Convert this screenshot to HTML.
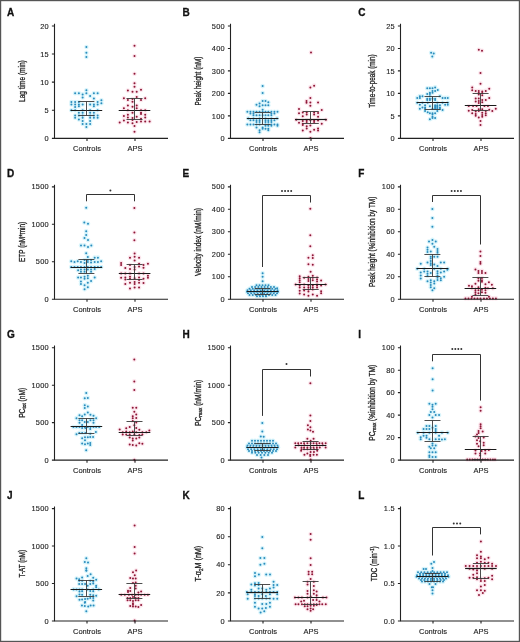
<!DOCTYPE html>
<html><head><meta charset="utf-8"><style>
html,body{margin:0;padding:0;background:#fff;}
body{width:520px;height:642px;overflow:hidden;}
svg{display:block;will-change:transform;}
text{font-family:"Liberation Sans", sans-serif;}
.let{font-size:10px;font-weight:bold;fill:#111;stroke:#111;stroke-width:0.3px;}
.tl{font-size:7.4px;fill:#222;text-anchor:end;letter-spacing:0.25px;stroke:#222;stroke-width:0.12px;}
.xl{font-size:7.5px;fill:#222;text-anchor:middle;stroke:#222;stroke-width:0.12px;}
.yl{font-size:8.4px;fill:#222;text-anchor:middle;stroke:#222;stroke-width:0.3px;}
.ax{stroke:#222;stroke-width:1.1;fill:none;}
.hc{fill:#d8f4fb;}
.ha{fill:#fce6ed;}
.dc{fill:#2a8cbd;}
.da{fill:#8e1636;}
.md{stroke:#1a1a1a;stroke-width:1.2;fill:none;}
.iq{stroke:#3a3a3a;stroke-width:0.9;fill:none;}
.br{stroke:#333;stroke-width:1;fill:none;}
.st{fill:#333;}
</style></head><body>
<svg width="520" height="642" viewBox="0 0 520 642">
<rect x="0.6" y="0.6" width="518.8" height="640.8" fill="#fff" stroke="#555" stroke-width="1.2"/>
<circle cx="86.4" cy="47" r="2.3" class="hc"/>
<circle cx="86.4" cy="52.8" r="2.3" class="hc"/>
<circle cx="86.4" cy="57" r="2.3" class="hc"/>
<circle cx="86.4" cy="90.2" r="2.3" class="hc"/>
<circle cx="75.15" cy="93.2" r="2.3" class="hc"/>
<circle cx="78.9" cy="93.2" r="2.3" class="hc"/>
<circle cx="86.4" cy="93.2" r="2.3" class="hc"/>
<circle cx="93.9" cy="93.2" r="2.3" class="hc"/>
<circle cx="97.65" cy="93.2" r="2.3" class="hc"/>
<circle cx="82.65" cy="94.4" r="2.3" class="hc"/>
<circle cx="90.15" cy="95.9" r="2.3" class="hc"/>
<circle cx="82.65" cy="97.5" r="2.3" class="hc"/>
<circle cx="93.9" cy="98.6" r="2.3" class="hc"/>
<circle cx="101.4" cy="100.2" r="2.3" class="hc"/>
<circle cx="71.4" cy="102.1" r="2.3" class="hc"/>
<circle cx="75.15" cy="102.1" r="2.3" class="hc"/>
<circle cx="78.9" cy="102.1" r="2.3" class="hc"/>
<circle cx="97.65" cy="102.1" r="2.3" class="hc"/>
<circle cx="101.4" cy="103.2" r="2.3" class="hc"/>
<circle cx="71.4" cy="104.4" r="2.3" class="hc"/>
<circle cx="75.15" cy="104.4" r="2.3" class="hc"/>
<circle cx="78.9" cy="104.4" r="2.3" class="hc"/>
<circle cx="82.65" cy="104.4" r="2.3" class="hc"/>
<circle cx="90.15" cy="104.4" r="2.3" class="hc"/>
<circle cx="93.9" cy="104.4" r="2.3" class="hc"/>
<circle cx="97.65" cy="104.4" r="2.3" class="hc"/>
<circle cx="78.9" cy="106.3" r="2.3" class="hc"/>
<circle cx="93.9" cy="106.3" r="2.3" class="hc"/>
<circle cx="75.15" cy="107.1" r="2.3" class="hc"/>
<circle cx="71.4" cy="110.2" r="2.3" class="hc"/>
<circle cx="75.15" cy="110.2" r="2.3" class="hc"/>
<circle cx="82.65" cy="110.2" r="2.3" class="hc"/>
<circle cx="90.15" cy="110.2" r="2.3" class="hc"/>
<circle cx="97.65" cy="110.2" r="2.3" class="hc"/>
<circle cx="78.9" cy="112.8" r="2.3" class="hc"/>
<circle cx="82.65" cy="112.8" r="2.3" class="hc"/>
<circle cx="90.15" cy="112.8" r="2.3" class="hc"/>
<circle cx="93.9" cy="112.8" r="2.3" class="hc"/>
<circle cx="75.15" cy="115.5" r="2.3" class="hc"/>
<circle cx="78.9" cy="115.5" r="2.3" class="hc"/>
<circle cx="82.65" cy="115.5" r="2.3" class="hc"/>
<circle cx="90.15" cy="115.5" r="2.3" class="hc"/>
<circle cx="93.9" cy="115.5" r="2.3" class="hc"/>
<circle cx="97.65" cy="115.5" r="2.3" class="hc"/>
<circle cx="75.15" cy="117.8" r="2.3" class="hc"/>
<circle cx="82.65" cy="117.8" r="2.3" class="hc"/>
<circle cx="90.15" cy="117.8" r="2.3" class="hc"/>
<circle cx="93.9" cy="117.8" r="2.3" class="hc"/>
<circle cx="97.65" cy="117.8" r="2.3" class="hc"/>
<circle cx="78.9" cy="119.4" r="2.3" class="hc"/>
<circle cx="82.65" cy="120.9" r="2.3" class="hc"/>
<circle cx="90.15" cy="120.9" r="2.3" class="hc"/>
<circle cx="82.65" cy="124" r="2.3" class="hc"/>
<circle cx="86.4" cy="124" r="2.3" class="hc"/>
<circle cx="90.15" cy="124" r="2.3" class="hc"/>
<circle cx="86.4" cy="127.1" r="2.3" class="hc"/>
<circle cx="134.5" cy="45.8" r="2.3" class="ha"/>
<circle cx="134.5" cy="56" r="2.3" class="ha"/>
<circle cx="134.5" cy="73.8" r="2.3" class="ha"/>
<circle cx="134.5" cy="83.2" r="2.3" class="ha"/>
<circle cx="134.5" cy="86.8" r="2.3" class="ha"/>
<circle cx="141" cy="89.8" r="2.3" class="ha"/>
<circle cx="127.9" cy="90.6" r="2.3" class="ha"/>
<circle cx="132.5" cy="91.7" r="2.3" class="ha"/>
<circle cx="136.7" cy="91.7" r="2.3" class="ha"/>
<circle cx="136.7" cy="97" r="2.3" class="ha"/>
<circle cx="123.9" cy="98.2" r="2.3" class="ha"/>
<circle cx="145.2" cy="98.2" r="2.3" class="ha"/>
<circle cx="132.5" cy="99" r="2.3" class="ha"/>
<circle cx="127.9" cy="100" r="2.3" class="ha"/>
<circle cx="141" cy="100" r="2.3" class="ha"/>
<circle cx="132.5" cy="101.8" r="2.3" class="ha"/>
<circle cx="127.9" cy="105.5" r="2.3" class="ha"/>
<circle cx="136.7" cy="105.5" r="2.3" class="ha"/>
<circle cx="132.5" cy="106.7" r="2.3" class="ha"/>
<circle cx="123.9" cy="108.3" r="2.3" class="ha"/>
<circle cx="136.7" cy="108.3" r="2.3" class="ha"/>
<circle cx="127.9" cy="110.3" r="2.3" class="ha"/>
<circle cx="141" cy="110.3" r="2.3" class="ha"/>
<circle cx="145.2" cy="110.3" r="2.3" class="ha"/>
<circle cx="132.5" cy="112.7" r="2.3" class="ha"/>
<circle cx="141" cy="112.7" r="2.3" class="ha"/>
<circle cx="141" cy="114.1" r="2.3" class="ha"/>
<circle cx="127.9" cy="114.8" r="2.3" class="ha"/>
<circle cx="145.2" cy="114.8" r="2.3" class="ha"/>
<circle cx="123.9" cy="116" r="2.3" class="ha"/>
<circle cx="136.7" cy="116.8" r="2.3" class="ha"/>
<circle cx="127.9" cy="117.6" r="2.3" class="ha"/>
<circle cx="145.2" cy="117.6" r="2.3" class="ha"/>
<circle cx="132.5" cy="118" r="2.3" class="ha"/>
<circle cx="141" cy="118.8" r="2.3" class="ha"/>
<circle cx="132.5" cy="120" r="2.3" class="ha"/>
<circle cx="123.9" cy="120.4" r="2.3" class="ha"/>
<circle cx="141" cy="121.4" r="2.3" class="ha"/>
<circle cx="145.2" cy="121.4" r="2.3" class="ha"/>
<circle cx="149.6" cy="121.4" r="2.3" class="ha"/>
<circle cx="136.7" cy="122.1" r="2.3" class="ha"/>
<circle cx="119.7" cy="122.5" r="2.3" class="ha"/>
<circle cx="127.9" cy="122.5" r="2.3" class="ha"/>
<circle cx="132.5" cy="123.3" r="2.3" class="ha"/>
<circle cx="134.5" cy="126.1" r="2.3" class="ha"/>
<circle cx="134.5" cy="131.8" r="2.3" class="ha"/>
<circle cx="262.63" cy="86.11" r="2.3" class="hc"/>
<circle cx="262.63" cy="93.09" r="2.3" class="hc"/>
<circle cx="262.63" cy="100.94" r="2.3" class="hc"/>
<circle cx="265.51" cy="100.94" r="2.3" class="hc"/>
<circle cx="268.31" cy="102.25" r="2.3" class="hc"/>
<circle cx="259.58" cy="103.39" r="2.3" class="hc"/>
<circle cx="256.53" cy="104.87" r="2.3" class="hc"/>
<circle cx="262.63" cy="105.31" r="2.3" class="hc"/>
<circle cx="265.51" cy="105.31" r="2.3" class="hc"/>
<circle cx="268.31" cy="105.31" r="2.3" class="hc"/>
<circle cx="259.58" cy="106.18" r="2.3" class="hc"/>
<circle cx="262.63" cy="109.67" r="2.3" class="hc"/>
<circle cx="247.36" cy="111.85" r="2.3" class="hc"/>
<circle cx="250.42" cy="111.85" r="2.3" class="hc"/>
<circle cx="253.47" cy="111.85" r="2.3" class="hc"/>
<circle cx="256.53" cy="111.85" r="2.3" class="hc"/>
<circle cx="259.58" cy="111.85" r="2.3" class="hc"/>
<circle cx="262.63" cy="111.85" r="2.3" class="hc"/>
<circle cx="265.51" cy="111.85" r="2.3" class="hc"/>
<circle cx="268.31" cy="111.85" r="2.3" class="hc"/>
<circle cx="271.36" cy="111.85" r="2.3" class="hc"/>
<circle cx="274.41" cy="111.85" r="2.3" class="hc"/>
<circle cx="277.47" cy="111.85" r="2.3" class="hc"/>
<circle cx="250.42" cy="113.6" r="2.3" class="hc"/>
<circle cx="253.47" cy="113.6" r="2.3" class="hc"/>
<circle cx="271.36" cy="113.6" r="2.3" class="hc"/>
<circle cx="274.41" cy="113.6" r="2.3" class="hc"/>
<circle cx="253.47" cy="115.34" r="2.3" class="hc"/>
<circle cx="256.53" cy="115.34" r="2.3" class="hc"/>
<circle cx="259.58" cy="115.34" r="2.3" class="hc"/>
<circle cx="262.63" cy="115.34" r="2.3" class="hc"/>
<circle cx="265.51" cy="115.34" r="2.3" class="hc"/>
<circle cx="268.31" cy="115.34" r="2.3" class="hc"/>
<circle cx="271.36" cy="115.34" r="2.3" class="hc"/>
<circle cx="248.24" cy="118.39" r="2.3" class="hc"/>
<circle cx="253.47" cy="118.39" r="2.3" class="hc"/>
<circle cx="259.58" cy="118.39" r="2.3" class="hc"/>
<circle cx="265.51" cy="118.39" r="2.3" class="hc"/>
<circle cx="271.36" cy="118.39" r="2.3" class="hc"/>
<circle cx="277.03" cy="118.39" r="2.3" class="hc"/>
<circle cx="250.42" cy="120.14" r="2.3" class="hc"/>
<circle cx="253.47" cy="120.14" r="2.3" class="hc"/>
<circle cx="256.53" cy="120.14" r="2.3" class="hc"/>
<circle cx="259.58" cy="120.14" r="2.3" class="hc"/>
<circle cx="265.51" cy="120.14" r="2.3" class="hc"/>
<circle cx="268.31" cy="120.14" r="2.3" class="hc"/>
<circle cx="271.36" cy="120.14" r="2.3" class="hc"/>
<circle cx="274.41" cy="120.14" r="2.3" class="hc"/>
<circle cx="256.53" cy="121.88" r="2.3" class="hc"/>
<circle cx="259.58" cy="121.88" r="2.3" class="hc"/>
<circle cx="265.51" cy="121.88" r="2.3" class="hc"/>
<circle cx="268.31" cy="121.88" r="2.3" class="hc"/>
<circle cx="271.36" cy="121.88" r="2.3" class="hc"/>
<circle cx="247.36" cy="124.5" r="2.3" class="hc"/>
<circle cx="250.42" cy="124.5" r="2.3" class="hc"/>
<circle cx="253.47" cy="124.5" r="2.3" class="hc"/>
<circle cx="256.53" cy="124.5" r="2.3" class="hc"/>
<circle cx="259.58" cy="124.5" r="2.3" class="hc"/>
<circle cx="265.51" cy="124.5" r="2.3" class="hc"/>
<circle cx="268.31" cy="124.5" r="2.3" class="hc"/>
<circle cx="271.36" cy="124.5" r="2.3" class="hc"/>
<circle cx="274.41" cy="124.5" r="2.3" class="hc"/>
<circle cx="277.47" cy="124.5" r="2.3" class="hc"/>
<circle cx="265.51" cy="125.81" r="2.3" class="hc"/>
<circle cx="268.31" cy="125.81" r="2.3" class="hc"/>
<circle cx="271.36" cy="125.81" r="2.3" class="hc"/>
<circle cx="277.47" cy="125.81" r="2.3" class="hc"/>
<circle cx="256.53" cy="127.56" r="2.3" class="hc"/>
<circle cx="262.63" cy="127.56" r="2.3" class="hc"/>
<circle cx="262.63" cy="128.87" r="2.3" class="hc"/>
<circle cx="265.51" cy="128.87" r="2.3" class="hc"/>
<circle cx="268.31" cy="128.87" r="2.3" class="hc"/>
<circle cx="259.58" cy="130.17" r="2.3" class="hc"/>
<circle cx="268.31" cy="130.17" r="2.3" class="hc"/>
<circle cx="259.58" cy="132.36" r="2.3" class="hc"/>
<circle cx="311" cy="52.5" r="2.3" class="ha"/>
<circle cx="310.5" cy="138" r="2.3" class="ha"/>
<circle cx="314.12" cy="85.67" r="2.3" class="ha"/>
<circle cx="310.37" cy="87.42" r="2.3" class="ha"/>
<circle cx="310.37" cy="97.89" r="2.3" class="ha"/>
<circle cx="306.53" cy="100.94" r="2.3" class="ha"/>
<circle cx="306.53" cy="102.86" r="2.3" class="ha"/>
<circle cx="310.37" cy="102.51" r="2.3" class="ha"/>
<circle cx="318.05" cy="102.51" r="2.3" class="ha"/>
<circle cx="310.37" cy="105.74" r="2.3" class="ha"/>
<circle cx="299.03" cy="108.97" r="2.3" class="ha"/>
<circle cx="321.72" cy="110.1" r="2.3" class="ha"/>
<circle cx="299.03" cy="113.33" r="2.3" class="ha"/>
<circle cx="302.78" cy="112.46" r="2.3" class="ha"/>
<circle cx="306.71" cy="112.46" r="2.3" class="ha"/>
<circle cx="314.12" cy="112.46" r="2.3" class="ha"/>
<circle cx="306.71" cy="114.47" r="2.3" class="ha"/>
<circle cx="314.12" cy="114.47" r="2.3" class="ha"/>
<circle cx="318.05" cy="112.98" r="2.3" class="ha"/>
<circle cx="302.78" cy="116.21" r="2.3" class="ha"/>
<circle cx="318.05" cy="116.65" r="2.3" class="ha"/>
<circle cx="296.24" cy="119.7" r="2.3" class="ha"/>
<circle cx="325.9" cy="119.7" r="2.3" class="ha"/>
<circle cx="302.78" cy="121.01" r="2.3" class="ha"/>
<circle cx="306.71" cy="120.14" r="2.3" class="ha"/>
<circle cx="310.37" cy="120.14" r="2.3" class="ha"/>
<circle cx="314.12" cy="120.58" r="2.3" class="ha"/>
<circle cx="318.05" cy="120.58" r="2.3" class="ha"/>
<circle cx="299.03" cy="122.76" r="2.3" class="ha"/>
<circle cx="302.78" cy="123.63" r="2.3" class="ha"/>
<circle cx="321.72" cy="123.63" r="2.3" class="ha"/>
<circle cx="302.78" cy="124.94" r="2.3" class="ha"/>
<circle cx="306.71" cy="121.88" r="2.3" class="ha"/>
<circle cx="314.12" cy="121.88" r="2.3" class="ha"/>
<circle cx="306.71" cy="126.25" r="2.3" class="ha"/>
<circle cx="306.71" cy="128.43" r="2.3" class="ha"/>
<circle cx="318.05" cy="128.43" r="2.3" class="ha"/>
<circle cx="310.37" cy="125.38" r="2.3" class="ha"/>
<circle cx="318.05" cy="130.61" r="2.3" class="ha"/>
<circle cx="302.78" cy="130.61" r="2.3" class="ha"/>
<circle cx="310.37" cy="131.66" r="2.3" class="ha"/>
<circle cx="314.12" cy="129.74" r="2.3" class="ha"/>
<circle cx="431.1" cy="52.7" r="2.3" class="hc"/>
<circle cx="433.7" cy="53.5" r="2.3" class="hc"/>
<circle cx="432.3" cy="56.6" r="2.3" class="hc"/>
<circle cx="435.12" cy="87.42" r="2.3" class="hc"/>
<circle cx="427.27" cy="88.29" r="2.3" class="hc"/>
<circle cx="429.89" cy="88.29" r="2.3" class="hc"/>
<circle cx="432.51" cy="88.29" r="2.3" class="hc"/>
<circle cx="437.74" cy="90.03" r="2.3" class="hc"/>
<circle cx="432.51" cy="90.91" r="2.3" class="hc"/>
<circle cx="435.12" cy="90.91" r="2.3" class="hc"/>
<circle cx="429.89" cy="92.65" r="2.3" class="hc"/>
<circle cx="432.51" cy="92.65" r="2.3" class="hc"/>
<circle cx="427.27" cy="93.96" r="2.3" class="hc"/>
<circle cx="429.89" cy="93.96" r="2.3" class="hc"/>
<circle cx="419.85" cy="96.14" r="2.3" class="hc"/>
<circle cx="422.47" cy="96.14" r="2.3" class="hc"/>
<circle cx="429.89" cy="96.14" r="2.3" class="hc"/>
<circle cx="439.92" cy="96.14" r="2.3" class="hc"/>
<circle cx="417.24" cy="97.89" r="2.3" class="hc"/>
<circle cx="419.85" cy="97.89" r="2.3" class="hc"/>
<circle cx="442.54" cy="97.89" r="2.3" class="hc"/>
<circle cx="445.16" cy="97.89" r="2.3" class="hc"/>
<circle cx="447.78" cy="97.89" r="2.3" class="hc"/>
<circle cx="427.27" cy="98.76" r="2.3" class="hc"/>
<circle cx="429.89" cy="98.76" r="2.3" class="hc"/>
<circle cx="432.51" cy="98.76" r="2.3" class="hc"/>
<circle cx="435.12" cy="98.76" r="2.3" class="hc"/>
<circle cx="427.27" cy="100.07" r="2.3" class="hc"/>
<circle cx="429.89" cy="100.07" r="2.3" class="hc"/>
<circle cx="435.12" cy="100.07" r="2.3" class="hc"/>
<circle cx="417.24" cy="102.86" r="2.3" class="hc"/>
<circle cx="422.47" cy="102.86" r="2.3" class="hc"/>
<circle cx="427.71" cy="102.86" r="2.3" class="hc"/>
<circle cx="437.31" cy="102.86" r="2.3" class="hc"/>
<circle cx="442.54" cy="102.86" r="2.3" class="hc"/>
<circle cx="447.78" cy="102.86" r="2.3" class="hc"/>
<circle cx="419.85" cy="104.87" r="2.3" class="hc"/>
<circle cx="445.16" cy="104.87" r="2.3" class="hc"/>
<circle cx="447.78" cy="104.87" r="2.3" class="hc"/>
<circle cx="425.09" cy="105.31" r="2.3" class="hc"/>
<circle cx="435.12" cy="105.31" r="2.3" class="hc"/>
<circle cx="437.31" cy="105.31" r="2.3" class="hc"/>
<circle cx="439.92" cy="105.31" r="2.3" class="hc"/>
<circle cx="429.89" cy="106.18" r="2.3" class="hc"/>
<circle cx="435.12" cy="106.18" r="2.3" class="hc"/>
<circle cx="437.31" cy="106.18" r="2.3" class="hc"/>
<circle cx="422.47" cy="107.49" r="2.3" class="hc"/>
<circle cx="425.09" cy="107.49" r="2.3" class="hc"/>
<circle cx="435.12" cy="107.49" r="2.3" class="hc"/>
<circle cx="437.31" cy="107.49" r="2.3" class="hc"/>
<circle cx="439.92" cy="107.49" r="2.3" class="hc"/>
<circle cx="419.85" cy="108.8" r="2.3" class="hc"/>
<circle cx="425.09" cy="108.8" r="2.3" class="hc"/>
<circle cx="432.51" cy="108.8" r="2.3" class="hc"/>
<circle cx="435.12" cy="108.8" r="2.3" class="hc"/>
<circle cx="437.31" cy="108.8" r="2.3" class="hc"/>
<circle cx="439.92" cy="108.8" r="2.3" class="hc"/>
<circle cx="442.54" cy="110.1" r="2.3" class="hc"/>
<circle cx="425.09" cy="110.98" r="2.3" class="hc"/>
<circle cx="437.31" cy="110.98" r="2.3" class="hc"/>
<circle cx="427.71" cy="112.29" r="2.3" class="hc"/>
<circle cx="429.89" cy="113.16" r="2.3" class="hc"/>
<circle cx="432.51" cy="113.16" r="2.3" class="hc"/>
<circle cx="435.12" cy="113.16" r="2.3" class="hc"/>
<circle cx="432.51" cy="114.47" r="2.3" class="hc"/>
<circle cx="432.51" cy="116.65" r="2.3" class="hc"/>
<circle cx="432.51" cy="117.96" r="2.3" class="hc"/>
<circle cx="435.12" cy="117.96" r="2.3" class="hc"/>
<circle cx="429.89" cy="119.27" r="2.3" class="hc"/>
<circle cx="478.8" cy="49.8" r="2.3" class="ha"/>
<circle cx="482" cy="50.7" r="2.3" class="ha"/>
<circle cx="480.5" cy="73" r="2.3" class="ha"/>
<circle cx="480.51" cy="83.66" r="2.3" class="ha"/>
<circle cx="472.22" cy="87.42" r="2.3" class="ha"/>
<circle cx="472.22" cy="90.3" r="2.3" class="ha"/>
<circle cx="475.71" cy="90.91" r="2.3" class="ha"/>
<circle cx="478.76" cy="90.91" r="2.3" class="ha"/>
<circle cx="485.74" cy="90.91" r="2.3" class="ha"/>
<circle cx="482.25" cy="91.52" r="2.3" class="ha"/>
<circle cx="489.23" cy="88.73" r="2.3" class="ha"/>
<circle cx="478.76" cy="92.65" r="2.3" class="ha"/>
<circle cx="478.76" cy="94.4" r="2.3" class="ha"/>
<circle cx="482.25" cy="93.09" r="2.3" class="ha"/>
<circle cx="482.25" cy="95.27" r="2.3" class="ha"/>
<circle cx="475.71" cy="98.5" r="2.3" class="ha"/>
<circle cx="478.76" cy="98.5" r="2.3" class="ha"/>
<circle cx="475.71" cy="101.38" r="2.3" class="ha"/>
<circle cx="478.76" cy="100.94" r="2.3" class="ha"/>
<circle cx="478.76" cy="103.12" r="2.3" class="ha"/>
<circle cx="482.25" cy="100.07" r="2.3" class="ha"/>
<circle cx="485.74" cy="100.07" r="2.3" class="ha"/>
<circle cx="482.25" cy="102.25" r="2.3" class="ha"/>
<circle cx="489.23" cy="97.89" r="2.3" class="ha"/>
<circle cx="468.73" cy="106" r="2.3" class="ha"/>
<circle cx="473.09" cy="106" r="2.3" class="ha"/>
<circle cx="476.58" cy="106" r="2.3" class="ha"/>
<circle cx="484.43" cy="106" r="2.3" class="ha"/>
<circle cx="487.92" cy="106" r="2.3" class="ha"/>
<circle cx="468.73" cy="110.72" r="2.3" class="ha"/>
<circle cx="472.22" cy="110.1" r="2.3" class="ha"/>
<circle cx="472.22" cy="113.16" r="2.3" class="ha"/>
<circle cx="475.71" cy="111.41" r="2.3" class="ha"/>
<circle cx="475.71" cy="114.03" r="2.3" class="ha"/>
<circle cx="475.71" cy="115.78" r="2.3" class="ha"/>
<circle cx="478.76" cy="109.23" r="2.3" class="ha"/>
<circle cx="482.25" cy="109.23" r="2.3" class="ha"/>
<circle cx="478.76" cy="110.98" r="2.3" class="ha"/>
<circle cx="482.25" cy="112.72" r="2.3" class="ha"/>
<circle cx="482.25" cy="114.9" r="2.3" class="ha"/>
<circle cx="482.25" cy="116.65" r="2.3" class="ha"/>
<circle cx="485.74" cy="110.98" r="2.3" class="ha"/>
<circle cx="485.74" cy="113.16" r="2.3" class="ha"/>
<circle cx="485.74" cy="115.34" r="2.3" class="ha"/>
<circle cx="489.23" cy="109.67" r="2.3" class="ha"/>
<circle cx="492.29" cy="110.98" r="2.3" class="ha"/>
<circle cx="495.78" cy="108.8" r="2.3" class="ha"/>
<circle cx="478.76" cy="117.52" r="2.3" class="ha"/>
<circle cx="480.51" cy="121.01" r="2.3" class="ha"/>
<circle cx="480.51" cy="124.94" r="2.3" class="ha"/>
<circle cx="86.2" cy="207.7" r="2.3" class="hc"/>
<circle cx="84.3" cy="222.5" r="2.3" class="hc"/>
<circle cx="88" cy="223.7" r="2.3" class="hc"/>
<circle cx="86.2" cy="231.2" r="2.3" class="hc"/>
<circle cx="86.2" cy="234.9" r="2.3" class="hc"/>
<circle cx="84.5" cy="238" r="2.3" class="hc"/>
<circle cx="88" cy="240.1" r="2.3" class="hc"/>
<circle cx="81" cy="245.4" r="2.3" class="hc"/>
<circle cx="84.5" cy="245.4" r="2.3" class="hc"/>
<circle cx="91.3" cy="245.4" r="2.3" class="hc"/>
<circle cx="88" cy="247" r="2.3" class="hc"/>
<circle cx="86.2" cy="253.2" r="2.3" class="hc"/>
<circle cx="87.81" cy="257.11" r="2.3" class="hc"/>
<circle cx="94.68" cy="257.67" r="2.3" class="hc"/>
<circle cx="97.91" cy="257.67" r="2.3" class="hc"/>
<circle cx="84.58" cy="260.1" r="2.3" class="hc"/>
<circle cx="87.81" cy="260.1" r="2.3" class="hc"/>
<circle cx="91.04" cy="260.1" r="2.3" class="hc"/>
<circle cx="71.25" cy="261.31" r="2.3" class="hc"/>
<circle cx="77.71" cy="261.31" r="2.3" class="hc"/>
<circle cx="101.14" cy="261.31" r="2.3" class="hc"/>
<circle cx="74.48" cy="262.12" r="2.3" class="hc"/>
<circle cx="80.94" cy="262.12" r="2.3" class="hc"/>
<circle cx="87.81" cy="262.12" r="2.3" class="hc"/>
<circle cx="94.68" cy="262.12" r="2.3" class="hc"/>
<circle cx="97.91" cy="262.12" r="2.3" class="hc"/>
<circle cx="84.58" cy="262.92" r="2.3" class="hc"/>
<circle cx="91.04" cy="262.52" r="2.3" class="hc"/>
<circle cx="71.25" cy="267.12" r="2.3" class="hc"/>
<circle cx="74.48" cy="267.12" r="2.3" class="hc"/>
<circle cx="77.71" cy="267.12" r="2.3" class="hc"/>
<circle cx="80.94" cy="267.12" r="2.3" class="hc"/>
<circle cx="84.58" cy="267.12" r="2.3" class="hc"/>
<circle cx="87.81" cy="267.12" r="2.3" class="hc"/>
<circle cx="91.04" cy="267.12" r="2.3" class="hc"/>
<circle cx="94.68" cy="267.12" r="2.3" class="hc"/>
<circle cx="97.91" cy="267.12" r="2.3" class="hc"/>
<circle cx="101.14" cy="267.12" r="2.3" class="hc"/>
<circle cx="80.94" cy="269.39" r="2.3" class="hc"/>
<circle cx="84.58" cy="269.39" r="2.3" class="hc"/>
<circle cx="87.81" cy="269.39" r="2.3" class="hc"/>
<circle cx="91.04" cy="269.39" r="2.3" class="hc"/>
<circle cx="78.12" cy="270.19" r="2.3" class="hc"/>
<circle cx="94.68" cy="268.98" r="2.3" class="hc"/>
<circle cx="80.94" cy="271.65" r="2.3" class="hc"/>
<circle cx="84.58" cy="271.65" r="2.3" class="hc"/>
<circle cx="91.04" cy="271.65" r="2.3" class="hc"/>
<circle cx="87.81" cy="275.85" r="2.3" class="hc"/>
<circle cx="78.12" cy="277.46" r="2.3" class="hc"/>
<circle cx="80.94" cy="277.46" r="2.3" class="hc"/>
<circle cx="94.68" cy="277.46" r="2.3" class="hc"/>
<circle cx="84.58" cy="276.66" r="2.3" class="hc"/>
<circle cx="84.58" cy="278.68" r="2.3" class="hc"/>
<circle cx="87.81" cy="278.27" r="2.3" class="hc"/>
<circle cx="80.94" cy="281.5" r="2.3" class="hc"/>
<circle cx="80.94" cy="283.93" r="2.3" class="hc"/>
<circle cx="87.81" cy="282.71" r="2.3" class="hc"/>
<circle cx="91.04" cy="281.1" r="2.3" class="hc"/>
<circle cx="84.58" cy="285.14" r="2.3" class="hc"/>
<circle cx="87.81" cy="287.16" r="2.3" class="hc"/>
<circle cx="84.58" cy="289.18" r="2.3" class="hc"/>
<circle cx="134.4" cy="208.1" r="2.3" class="ha"/>
<circle cx="134.4" cy="232.5" r="2.3" class="ha"/>
<circle cx="134.4" cy="240.3" r="2.3" class="ha"/>
<circle cx="134.6" cy="253.39" r="2.3" class="ha"/>
<circle cx="129.99" cy="257.67" r="2.3" class="ha"/>
<circle cx="139.04" cy="257.67" r="2.3" class="ha"/>
<circle cx="134.6" cy="256.87" r="2.3" class="ha"/>
<circle cx="134.6" cy="260.5" r="2.3" class="ha"/>
<circle cx="121.11" cy="262.92" r="2.3" class="ha"/>
<circle cx="121.11" cy="264.94" r="2.3" class="ha"/>
<circle cx="129.99" cy="264.94" r="2.3" class="ha"/>
<circle cx="143.48" cy="264.94" r="2.3" class="ha"/>
<circle cx="147.93" cy="263.73" r="2.3" class="ha"/>
<circle cx="139.04" cy="263.73" r="2.3" class="ha"/>
<circle cx="139.04" cy="266.56" r="2.3" class="ha"/>
<circle cx="134.6" cy="266.96" r="2.3" class="ha"/>
<circle cx="134.6" cy="269.39" r="2.3" class="ha"/>
<circle cx="125.31" cy="267.93" r="2.3" class="ha"/>
<circle cx="129.99" cy="268.98" r="2.3" class="ha"/>
<circle cx="143.48" cy="267.77" r="2.3" class="ha"/>
<circle cx="121.11" cy="273.42" r="2.3" class="ha"/>
<circle cx="125.31" cy="273.42" r="2.3" class="ha"/>
<circle cx="129.99" cy="273.42" r="2.3" class="ha"/>
<circle cx="139.04" cy="273.42" r="2.3" class="ha"/>
<circle cx="143.48" cy="273.42" r="2.3" class="ha"/>
<circle cx="121.11" cy="277.87" r="2.3" class="ha"/>
<circle cx="125.31" cy="277.46" r="2.3" class="ha"/>
<circle cx="139.04" cy="277.46" r="2.3" class="ha"/>
<circle cx="125.31" cy="279.48" r="2.3" class="ha"/>
<circle cx="129.99" cy="276.66" r="2.3" class="ha"/>
<circle cx="129.99" cy="278.68" r="2.3" class="ha"/>
<circle cx="134.6" cy="278.27" r="2.3" class="ha"/>
<circle cx="139.04" cy="279.89" r="2.3" class="ha"/>
<circle cx="143.48" cy="278.68" r="2.3" class="ha"/>
<circle cx="147.93" cy="275.85" r="2.3" class="ha"/>
<circle cx="147.93" cy="277.87" r="2.3" class="ha"/>
<circle cx="125.31" cy="283.93" r="2.3" class="ha"/>
<circle cx="129.99" cy="282.71" r="2.3" class="ha"/>
<circle cx="139.04" cy="282.71" r="2.3" class="ha"/>
<circle cx="134.6" cy="281.91" r="2.3" class="ha"/>
<circle cx="134.6" cy="283.93" r="2.3" class="ha"/>
<circle cx="143.48" cy="283.12" r="2.3" class="ha"/>
<circle cx="129.99" cy="288.61" r="2.3" class="ha"/>
<circle cx="134.6" cy="287.56" r="2.3" class="ha"/>
<circle cx="139.04" cy="287.56" r="2.3" class="ha"/>
<circle cx="262.6" cy="273.3" r="2.3" class="hc"/>
<circle cx="262.6" cy="276.8" r="2.3" class="hc"/>
<circle cx="262.6" cy="281.2" r="2.3" class="hc"/>
<circle cx="277.1" cy="288.3" r="2.3" class="hc"/>
<circle cx="256.5" cy="285.3" r="2.3" class="hc"/>
<circle cx="259.5" cy="285.3" r="2.3" class="hc"/>
<circle cx="262.5" cy="285.3" r="2.3" class="hc"/>
<circle cx="265.5" cy="285.3" r="2.3" class="hc"/>
<circle cx="268.5" cy="285.3" r="2.3" class="hc"/>
<circle cx="252" cy="287" r="2.3" class="hc"/>
<circle cx="255.14" cy="287" r="2.3" class="hc"/>
<circle cx="258.29" cy="287" r="2.3" class="hc"/>
<circle cx="261.43" cy="287" r="2.3" class="hc"/>
<circle cx="264.57" cy="287" r="2.3" class="hc"/>
<circle cx="267.71" cy="287" r="2.3" class="hc"/>
<circle cx="270.86" cy="287" r="2.3" class="hc"/>
<circle cx="274" cy="287" r="2.3" class="hc"/>
<circle cx="249.5" cy="288.8" r="2.3" class="hc"/>
<circle cx="252.75" cy="288.8" r="2.3" class="hc"/>
<circle cx="256" cy="288.8" r="2.3" class="hc"/>
<circle cx="259.25" cy="288.8" r="2.3" class="hc"/>
<circle cx="262.5" cy="288.8" r="2.3" class="hc"/>
<circle cx="265.75" cy="288.8" r="2.3" class="hc"/>
<circle cx="269" cy="288.8" r="2.3" class="hc"/>
<circle cx="272.25" cy="288.8" r="2.3" class="hc"/>
<circle cx="275.5" cy="288.8" r="2.3" class="hc"/>
<circle cx="247.5" cy="290.3" r="2.3" class="hc"/>
<circle cx="250.83" cy="290.3" r="2.3" class="hc"/>
<circle cx="254.17" cy="290.3" r="2.3" class="hc"/>
<circle cx="257.5" cy="290.3" r="2.3" class="hc"/>
<circle cx="260.83" cy="290.3" r="2.3" class="hc"/>
<circle cx="264.17" cy="290.3" r="2.3" class="hc"/>
<circle cx="267.5" cy="290.3" r="2.3" class="hc"/>
<circle cx="270.83" cy="290.3" r="2.3" class="hc"/>
<circle cx="274.17" cy="290.3" r="2.3" class="hc"/>
<circle cx="277.5" cy="290.3" r="2.3" class="hc"/>
<circle cx="247" cy="291.7" r="2.3" class="hc"/>
<circle cx="250.1" cy="291.7" r="2.3" class="hc"/>
<circle cx="253.2" cy="291.7" r="2.3" class="hc"/>
<circle cx="256.3" cy="291.7" r="2.3" class="hc"/>
<circle cx="259.4" cy="291.7" r="2.3" class="hc"/>
<circle cx="262.5" cy="291.7" r="2.3" class="hc"/>
<circle cx="265.6" cy="291.7" r="2.3" class="hc"/>
<circle cx="268.7" cy="291.7" r="2.3" class="hc"/>
<circle cx="271.8" cy="291.7" r="2.3" class="hc"/>
<circle cx="274.9" cy="291.7" r="2.3" class="hc"/>
<circle cx="278" cy="291.7" r="2.3" class="hc"/>
<circle cx="248" cy="293.3" r="2.3" class="hc"/>
<circle cx="251.22" cy="293.3" r="2.3" class="hc"/>
<circle cx="254.44" cy="293.3" r="2.3" class="hc"/>
<circle cx="257.67" cy="293.3" r="2.3" class="hc"/>
<circle cx="260.89" cy="293.3" r="2.3" class="hc"/>
<circle cx="264.11" cy="293.3" r="2.3" class="hc"/>
<circle cx="267.33" cy="293.3" r="2.3" class="hc"/>
<circle cx="270.56" cy="293.3" r="2.3" class="hc"/>
<circle cx="273.78" cy="293.3" r="2.3" class="hc"/>
<circle cx="277" cy="293.3" r="2.3" class="hc"/>
<circle cx="249.5" cy="295" r="2.3" class="hc"/>
<circle cx="252.75" cy="295" r="2.3" class="hc"/>
<circle cx="256" cy="295" r="2.3" class="hc"/>
<circle cx="259.25" cy="295" r="2.3" class="hc"/>
<circle cx="262.5" cy="295" r="2.3" class="hc"/>
<circle cx="265.75" cy="295" r="2.3" class="hc"/>
<circle cx="269" cy="295" r="2.3" class="hc"/>
<circle cx="272.25" cy="295" r="2.3" class="hc"/>
<circle cx="275.5" cy="295" r="2.3" class="hc"/>
<circle cx="257" cy="296.2" r="2.3" class="hc"/>
<circle cx="260" cy="296.2" r="2.3" class="hc"/>
<circle cx="263" cy="296.2" r="2.3" class="hc"/>
<circle cx="266" cy="296.2" r="2.3" class="hc"/>
<circle cx="310.3" cy="208.7" r="2.3" class="ha"/>
<circle cx="310.3" cy="235.3" r="2.3" class="ha"/>
<circle cx="310.3" cy="246.2" r="2.3" class="ha"/>
<circle cx="312.78" cy="255.25" r="2.3" class="ha"/>
<circle cx="312.78" cy="258.08" r="2.3" class="ha"/>
<circle cx="308.42" cy="257.67" r="2.3" class="ha"/>
<circle cx="308.42" cy="264.14" r="2.3" class="ha"/>
<circle cx="312.78" cy="264.7" r="2.3" class="ha"/>
<circle cx="310.6" cy="271.81" r="2.3" class="ha"/>
<circle cx="299.69" cy="276.25" r="2.3" class="ha"/>
<circle cx="299.69" cy="278.27" r="2.3" class="ha"/>
<circle cx="299.69" cy="280.29" r="2.3" class="ha"/>
<circle cx="299.69" cy="282.31" r="2.3" class="ha"/>
<circle cx="304.14" cy="277.87" r="2.3" class="ha"/>
<circle cx="308.42" cy="276.66" r="2.3" class="ha"/>
<circle cx="308.42" cy="279.08" r="2.3" class="ha"/>
<circle cx="308.42" cy="281.1" r="2.3" class="ha"/>
<circle cx="312.78" cy="275.85" r="2.3" class="ha"/>
<circle cx="312.78" cy="277.87" r="2.3" class="ha"/>
<circle cx="312.78" cy="280.29" r="2.3" class="ha"/>
<circle cx="317.06" cy="277.46" r="2.3" class="ha"/>
<circle cx="317.06" cy="279.48" r="2.3" class="ha"/>
<circle cx="317.06" cy="281.5" r="2.3" class="ha"/>
<circle cx="321.1" cy="280.53" r="2.3" class="ha"/>
<circle cx="295.65" cy="284.57" r="2.3" class="ha"/>
<circle cx="304.14" cy="284.57" r="2.3" class="ha"/>
<circle cx="317.06" cy="284.57" r="2.3" class="ha"/>
<circle cx="325.54" cy="284.57" r="2.3" class="ha"/>
<circle cx="299.69" cy="285.54" r="2.3" class="ha"/>
<circle cx="308.42" cy="285.54" r="2.3" class="ha"/>
<circle cx="312.78" cy="285.54" r="2.3" class="ha"/>
<circle cx="317.06" cy="285.54" r="2.3" class="ha"/>
<circle cx="321.1" cy="285.54" r="2.3" class="ha"/>
<circle cx="299.69" cy="287.56" r="2.3" class="ha"/>
<circle cx="304.14" cy="287.56" r="2.3" class="ha"/>
<circle cx="308.42" cy="287.56" r="2.3" class="ha"/>
<circle cx="312.78" cy="287.56" r="2.3" class="ha"/>
<circle cx="317.06" cy="287.56" r="2.3" class="ha"/>
<circle cx="299.69" cy="290.79" r="2.3" class="ha"/>
<circle cx="299.69" cy="293.62" r="2.3" class="ha"/>
<circle cx="304.14" cy="290.39" r="2.3" class="ha"/>
<circle cx="304.14" cy="294.43" r="2.3" class="ha"/>
<circle cx="308.42" cy="289.58" r="2.3" class="ha"/>
<circle cx="312.78" cy="289.58" r="2.3" class="ha"/>
<circle cx="308.42" cy="291.6" r="2.3" class="ha"/>
<circle cx="308.42" cy="295.64" r="2.3" class="ha"/>
<circle cx="317.06" cy="295.64" r="2.3" class="ha"/>
<circle cx="312.78" cy="294.43" r="2.3" class="ha"/>
<circle cx="321.1" cy="291.2" r="2.3" class="ha"/>
<circle cx="321.1" cy="293.21" r="2.3" class="ha"/>
<circle cx="432.4" cy="208.9" r="2.3" class="hc"/>
<circle cx="432.4" cy="218.1" r="2.3" class="hc"/>
<circle cx="432.4" cy="226.8" r="2.3" class="hc"/>
<circle cx="429.02" cy="241.49" r="2.3" class="hc"/>
<circle cx="435.73" cy="241.49" r="2.3" class="hc"/>
<circle cx="432.42" cy="239.92" r="2.3" class="hc"/>
<circle cx="432.42" cy="243.67" r="2.3" class="hc"/>
<circle cx="434.25" cy="246.73" r="2.3" class="hc"/>
<circle cx="427.53" cy="247.6" r="2.3" class="hc"/>
<circle cx="427.53" cy="249.78" r="2.3" class="hc"/>
<circle cx="427.53" cy="251.96" r="2.3" class="hc"/>
<circle cx="430.76" cy="251.53" r="2.3" class="hc"/>
<circle cx="437.48" cy="248.91" r="2.3" class="hc"/>
<circle cx="437.48" cy="251.09" r="2.3" class="hc"/>
<circle cx="437.48" cy="252.83" r="2.3" class="hc"/>
<circle cx="430.76" cy="256.76" r="2.3" class="hc"/>
<circle cx="434.25" cy="256.76" r="2.3" class="hc"/>
<circle cx="437.48" cy="256.76" r="2.3" class="hc"/>
<circle cx="430.76" cy="258.51" r="2.3" class="hc"/>
<circle cx="420.73" cy="263.74" r="2.3" class="hc"/>
<circle cx="427.53" cy="262.43" r="2.3" class="hc"/>
<circle cx="430.76" cy="261.12" r="2.3" class="hc"/>
<circle cx="430.76" cy="263.31" r="2.3" class="hc"/>
<circle cx="430.76" cy="265.05" r="2.3" class="hc"/>
<circle cx="434.25" cy="264.61" r="2.3" class="hc"/>
<circle cx="437.48" cy="265.92" r="2.3" class="hc"/>
<circle cx="440.8" cy="262.43" r="2.3" class="hc"/>
<circle cx="444.11" cy="262.43" r="2.3" class="hc"/>
<circle cx="417.24" cy="268.72" r="2.3" class="hc"/>
<circle cx="424.22" cy="268.72" r="2.3" class="hc"/>
<circle cx="434.25" cy="268.72" r="2.3" class="hc"/>
<circle cx="440.8" cy="268.72" r="2.3" class="hc"/>
<circle cx="447.78" cy="268.72" r="2.3" class="hc"/>
<circle cx="420.73" cy="272.47" r="2.3" class="hc"/>
<circle cx="420.73" cy="275.52" r="2.3" class="hc"/>
<circle cx="420.73" cy="278.58" r="2.3" class="hc"/>
<circle cx="424.22" cy="271.6" r="2.3" class="hc"/>
<circle cx="427.53" cy="271.6" r="2.3" class="hc"/>
<circle cx="430.76" cy="272.9" r="2.3" class="hc"/>
<circle cx="427.53" cy="273.78" r="2.3" class="hc"/>
<circle cx="427.53" cy="275.96" r="2.3" class="hc"/>
<circle cx="437.48" cy="271.16" r="2.3" class="hc"/>
<circle cx="437.48" cy="273.34" r="2.3" class="hc"/>
<circle cx="437.48" cy="275.52" r="2.3" class="hc"/>
<circle cx="437.48" cy="277.7" r="2.3" class="hc"/>
<circle cx="437.48" cy="279.88" r="2.3" class="hc"/>
<circle cx="440.8" cy="272.47" r="2.3" class="hc"/>
<circle cx="444.11" cy="271.6" r="2.3" class="hc"/>
<circle cx="447.34" cy="269.85" r="2.3" class="hc"/>
<circle cx="444.11" cy="276.83" r="2.3" class="hc"/>
<circle cx="440.8" cy="278.14" r="2.3" class="hc"/>
<circle cx="440.8" cy="280.32" r="2.3" class="hc"/>
<circle cx="427.53" cy="281.19" r="2.3" class="hc"/>
<circle cx="430.76" cy="280.32" r="2.3" class="hc"/>
<circle cx="430.76" cy="282.5" r="2.3" class="hc"/>
<circle cx="430.76" cy="285.12" r="2.3" class="hc"/>
<circle cx="434.25" cy="281.19" r="2.3" class="hc"/>
<circle cx="434.25" cy="283.38" r="2.3" class="hc"/>
<circle cx="430.76" cy="287.3" r="2.3" class="hc"/>
<circle cx="434.25" cy="288.17" r="2.3" class="hc"/>
<circle cx="432.42" cy="290.36" r="2.3" class="hc"/>
<circle cx="480.44" cy="251.46" r="2.3" class="ha"/>
<circle cx="480.44" cy="255.95" r="2.3" class="ha"/>
<circle cx="480.44" cy="261.93" r="2.3" class="ha"/>
<circle cx="480.44" cy="263.72" r="2.3" class="ha"/>
<circle cx="475.45" cy="269.41" r="2.3" class="ha"/>
<circle cx="478.44" cy="270.9" r="2.3" class="ha"/>
<circle cx="481.93" cy="270.9" r="2.3" class="ha"/>
<circle cx="478.44" cy="272.9" r="2.3" class="ha"/>
<circle cx="481.93" cy="272.9" r="2.3" class="ha"/>
<circle cx="485.42" cy="272.9" r="2.3" class="ha"/>
<circle cx="478.44" cy="278.38" r="2.3" class="ha"/>
<circle cx="478.44" cy="280.87" r="2.3" class="ha"/>
<circle cx="481.93" cy="277.88" r="2.3" class="ha"/>
<circle cx="481.93" cy="280.37" r="2.3" class="ha"/>
<circle cx="481.93" cy="281.87" r="2.3" class="ha"/>
<circle cx="475.45" cy="283.86" r="2.3" class="ha"/>
<circle cx="485.42" cy="284.36" r="2.3" class="ha"/>
<circle cx="488.91" cy="282.37" r="2.3" class="ha"/>
<circle cx="491.9" cy="284.86" r="2.3" class="ha"/>
<circle cx="468.97" cy="285.86" r="2.3" class="ha"/>
<circle cx="471.96" cy="286.35" r="2.3" class="ha"/>
<circle cx="471.96" cy="288.35" r="2.3" class="ha"/>
<circle cx="487.92" cy="288.35" r="2.3" class="ha"/>
<circle cx="492.9" cy="288.35" r="2.3" class="ha"/>
<circle cx="475.45" cy="288.85" r="2.3" class="ha"/>
<circle cx="475.45" cy="290.84" r="2.3" class="ha"/>
<circle cx="475.45" cy="292.84" r="2.3" class="ha"/>
<circle cx="475.45" cy="294.83" r="2.3" class="ha"/>
<circle cx="478.44" cy="287.35" r="2.3" class="ha"/>
<circle cx="478.44" cy="290.34" r="2.3" class="ha"/>
<circle cx="478.44" cy="293.33" r="2.3" class="ha"/>
<circle cx="481.93" cy="289.84" r="2.3" class="ha"/>
<circle cx="481.93" cy="292.34" r="2.3" class="ha"/>
<circle cx="485.42" cy="287.85" r="2.3" class="ha"/>
<circle cx="485.42" cy="290.34" r="2.3" class="ha"/>
<circle cx="485.42" cy="292.84" r="2.3" class="ha"/>
<circle cx="471.96" cy="296.82" r="2.3" class="ha"/>
<circle cx="488.91" cy="296.82" r="2.3" class="ha"/>
<circle cx="465.48" cy="298.42" r="2.3" class="ha"/>
<circle cx="468.47" cy="298.42" r="2.3" class="ha"/>
<circle cx="471.47" cy="298.42" r="2.3" class="ha"/>
<circle cx="474.46" cy="298.42" r="2.3" class="ha"/>
<circle cx="477.45" cy="298.42" r="2.3" class="ha"/>
<circle cx="480.44" cy="298.42" r="2.3" class="ha"/>
<circle cx="483.93" cy="298.42" r="2.3" class="ha"/>
<circle cx="486.92" cy="298.42" r="2.3" class="ha"/>
<circle cx="489.91" cy="298.42" r="2.3" class="ha"/>
<circle cx="492.9" cy="298.42" r="2.3" class="ha"/>
<circle cx="495.89" cy="298.42" r="2.3" class="ha"/>
<circle cx="86.24" cy="393.09" r="2.3" class="hc"/>
<circle cx="84.76" cy="398.32" r="2.3" class="hc"/>
<circle cx="87.82" cy="397.89" r="2.3" class="hc"/>
<circle cx="84.76" cy="405.13" r="2.3" class="hc"/>
<circle cx="84.76" cy="407.92" r="2.3" class="hc"/>
<circle cx="87.82" cy="406.61" r="2.3" class="hc"/>
<circle cx="87.82" cy="412.46" r="2.3" class="hc"/>
<circle cx="84.76" cy="414.47" r="2.3" class="hc"/>
<circle cx="79.53" cy="415.34" r="2.3" class="hc"/>
<circle cx="82.14" cy="416.21" r="2.3" class="hc"/>
<circle cx="90.43" cy="414.73" r="2.3" class="hc"/>
<circle cx="93.49" cy="415.78" r="2.3" class="hc"/>
<circle cx="76.47" cy="418.13" r="2.3" class="hc"/>
<circle cx="96.1" cy="418.13" r="2.3" class="hc"/>
<circle cx="79.53" cy="420.14" r="2.3" class="hc"/>
<circle cx="82.14" cy="420.14" r="2.3" class="hc"/>
<circle cx="90.43" cy="420.14" r="2.3" class="hc"/>
<circle cx="93.49" cy="420.14" r="2.3" class="hc"/>
<circle cx="84.76" cy="421.88" r="2.3" class="hc"/>
<circle cx="87.82" cy="421.88" r="2.3" class="hc"/>
<circle cx="79.53" cy="422.76" r="2.3" class="hc"/>
<circle cx="93.49" cy="422.76" r="2.3" class="hc"/>
<circle cx="82.14" cy="424.94" r="2.3" class="hc"/>
<circle cx="73.42" cy="427.12" r="2.3" class="hc"/>
<circle cx="76.47" cy="427.12" r="2.3" class="hc"/>
<circle cx="79.53" cy="427.12" r="2.3" class="hc"/>
<circle cx="84.76" cy="427.12" r="2.3" class="hc"/>
<circle cx="87.82" cy="427.12" r="2.3" class="hc"/>
<circle cx="90.43" cy="427.12" r="2.3" class="hc"/>
<circle cx="93.49" cy="427.12" r="2.3" class="hc"/>
<circle cx="96.1" cy="427.12" r="2.3" class="hc"/>
<circle cx="99.16" cy="427.12" r="2.3" class="hc"/>
<circle cx="82.16" cy="428.08" r="2.3" class="hc"/>
<circle cx="85.39" cy="428.08" r="2.3" class="hc"/>
<circle cx="90.23" cy="428.89" r="2.3" class="hc"/>
<circle cx="76.5" cy="434.14" r="2.3" class="hc"/>
<circle cx="79.33" cy="432.92" r="2.3" class="hc"/>
<circle cx="82.16" cy="432.92" r="2.3" class="hc"/>
<circle cx="85.39" cy="432.92" r="2.3" class="hc"/>
<circle cx="95.89" cy="432.12" r="2.3" class="hc"/>
<circle cx="90.23" cy="433.73" r="2.3" class="hc"/>
<circle cx="82.16" cy="438.17" r="2.3" class="hc"/>
<circle cx="84.98" cy="437.37" r="2.3" class="hc"/>
<circle cx="87.81" cy="437.37" r="2.3" class="hc"/>
<circle cx="90.23" cy="436.96" r="2.3" class="hc"/>
<circle cx="93.06" cy="436.96" r="2.3" class="hc"/>
<circle cx="84.98" cy="440.19" r="2.3" class="hc"/>
<circle cx="82.16" cy="443.42" r="2.3" class="hc"/>
<circle cx="87.81" cy="443.42" r="2.3" class="hc"/>
<circle cx="84.98" cy="444.23" r="2.3" class="hc"/>
<circle cx="90.23" cy="443.02" r="2.3" class="hc"/>
<circle cx="90.23" cy="445.04" r="2.3" class="hc"/>
<circle cx="86.19" cy="450.29" r="2.3" class="hc"/>
<circle cx="134.4" cy="459.8" r="2.3" class="ha"/>
<circle cx="134.3" cy="359.6" r="2.3" class="ha"/>
<circle cx="134.3" cy="381.4" r="2.3" class="ha"/>
<circle cx="134.3" cy="390" r="2.3" class="ha"/>
<circle cx="132.76" cy="407.85" r="2.3" class="ha"/>
<circle cx="136.25" cy="407.68" r="2.3" class="ha"/>
<circle cx="134.33" cy="411.78" r="2.3" class="ha"/>
<circle cx="136.25" cy="414.4" r="2.3" class="ha"/>
<circle cx="132.76" cy="416.14" r="2.3" class="ha"/>
<circle cx="132.76" cy="418.32" r="2.3" class="ha"/>
<circle cx="136.25" cy="417.89" r="2.3" class="ha"/>
<circle cx="132.76" cy="420.94" r="2.3" class="ha"/>
<circle cx="136.25" cy="422.51" r="2.3" class="ha"/>
<circle cx="134.33" cy="425.31" r="2.3" class="ha"/>
<circle cx="129.71" cy="427.05" r="2.3" class="ha"/>
<circle cx="126.22" cy="428.36" r="2.3" class="ha"/>
<circle cx="136.25" cy="427.92" r="2.3" class="ha"/>
<circle cx="119.67" cy="429.49" r="2.3" class="ha"/>
<circle cx="139.31" cy="429.84" r="2.3" class="ha"/>
<circle cx="122.73" cy="432.29" r="2.3" class="ha"/>
<circle cx="129.71" cy="432.29" r="2.3" class="ha"/>
<circle cx="136.25" cy="432.29" r="2.3" class="ha"/>
<circle cx="142.36" cy="432.29" r="2.3" class="ha"/>
<circle cx="146.29" cy="432.29" r="2.3" class="ha"/>
<circle cx="126.22" cy="431.41" r="2.3" class="ha"/>
<circle cx="132.76" cy="431.41" r="2.3" class="ha"/>
<circle cx="149.34" cy="430.54" r="2.3" class="ha"/>
<circle cx="122.73" cy="434.47" r="2.3" class="ha"/>
<circle cx="126.22" cy="434.47" r="2.3" class="ha"/>
<circle cx="129.71" cy="434.47" r="2.3" class="ha"/>
<circle cx="134.33" cy="434.47" r="2.3" class="ha"/>
<circle cx="142.36" cy="434.47" r="2.3" class="ha"/>
<circle cx="139.31" cy="434.9" r="2.3" class="ha"/>
<circle cx="129.71" cy="437.52" r="2.3" class="ha"/>
<circle cx="139.31" cy="437.52" r="2.3" class="ha"/>
<circle cx="132.76" cy="438.39" r="2.3" class="ha"/>
<circle cx="136.25" cy="438.39" r="2.3" class="ha"/>
<circle cx="132.76" cy="440.58" r="2.3" class="ha"/>
<circle cx="129.71" cy="444.5" r="2.3" class="ha"/>
<circle cx="132.76" cy="444.94" r="2.3" class="ha"/>
<circle cx="136.25" cy="445.38" r="2.3" class="ha"/>
<circle cx="139.31" cy="443.19" r="2.3" class="ha"/>
<circle cx="142.36" cy="443.63" r="2.3" class="ha"/>
<circle cx="262.3" cy="423" r="2.3" class="hc"/>
<circle cx="262.3" cy="431.4" r="2.3" class="hc"/>
<circle cx="260.8" cy="436.5" r="2.3" class="hc"/>
<circle cx="263.7" cy="436.7" r="2.3" class="hc"/>
<circle cx="252" cy="440.8" r="2.3" class="hc"/>
<circle cx="255" cy="440.8" r="2.3" class="hc"/>
<circle cx="258" cy="440.8" r="2.3" class="hc"/>
<circle cx="261" cy="440.8" r="2.3" class="hc"/>
<circle cx="264" cy="440.8" r="2.3" class="hc"/>
<circle cx="267" cy="440.8" r="2.3" class="hc"/>
<circle cx="270" cy="440.8" r="2.3" class="hc"/>
<circle cx="273" cy="440.8" r="2.3" class="hc"/>
<circle cx="249" cy="443.6" r="2.3" class="hc"/>
<circle cx="252" cy="443.6" r="2.3" class="hc"/>
<circle cx="255" cy="443.6" r="2.3" class="hc"/>
<circle cx="258" cy="443.6" r="2.3" class="hc"/>
<circle cx="261" cy="443.6" r="2.3" class="hc"/>
<circle cx="264" cy="443.6" r="2.3" class="hc"/>
<circle cx="267" cy="443.6" r="2.3" class="hc"/>
<circle cx="270" cy="443.6" r="2.3" class="hc"/>
<circle cx="273" cy="443.6" r="2.3" class="hc"/>
<circle cx="276" cy="443.6" r="2.3" class="hc"/>
<circle cx="247.5" cy="445.5" r="2.3" class="hc"/>
<circle cx="250.5" cy="445.5" r="2.3" class="hc"/>
<circle cx="253.5" cy="445.5" r="2.3" class="hc"/>
<circle cx="256.5" cy="445.5" r="2.3" class="hc"/>
<circle cx="259.5" cy="445.5" r="2.3" class="hc"/>
<circle cx="262.5" cy="445.5" r="2.3" class="hc"/>
<circle cx="265.5" cy="445.5" r="2.3" class="hc"/>
<circle cx="268.5" cy="445.5" r="2.3" class="hc"/>
<circle cx="271.5" cy="445.5" r="2.3" class="hc"/>
<circle cx="274.5" cy="445.5" r="2.3" class="hc"/>
<circle cx="277.5" cy="445.5" r="2.3" class="hc"/>
<circle cx="247" cy="447.3" r="2.3" class="hc"/>
<circle cx="250.1" cy="447.3" r="2.3" class="hc"/>
<circle cx="253.2" cy="447.3" r="2.3" class="hc"/>
<circle cx="256.3" cy="447.3" r="2.3" class="hc"/>
<circle cx="259.4" cy="447.3" r="2.3" class="hc"/>
<circle cx="262.5" cy="447.3" r="2.3" class="hc"/>
<circle cx="265.6" cy="447.3" r="2.3" class="hc"/>
<circle cx="268.7" cy="447.3" r="2.3" class="hc"/>
<circle cx="271.8" cy="447.3" r="2.3" class="hc"/>
<circle cx="274.9" cy="447.3" r="2.3" class="hc"/>
<circle cx="278" cy="447.3" r="2.3" class="hc"/>
<circle cx="248" cy="449.2" r="2.3" class="hc"/>
<circle cx="251.22" cy="449.2" r="2.3" class="hc"/>
<circle cx="254.44" cy="449.2" r="2.3" class="hc"/>
<circle cx="257.67" cy="449.2" r="2.3" class="hc"/>
<circle cx="260.89" cy="449.2" r="2.3" class="hc"/>
<circle cx="264.11" cy="449.2" r="2.3" class="hc"/>
<circle cx="267.33" cy="449.2" r="2.3" class="hc"/>
<circle cx="270.56" cy="449.2" r="2.3" class="hc"/>
<circle cx="273.78" cy="449.2" r="2.3" class="hc"/>
<circle cx="277" cy="449.2" r="2.3" class="hc"/>
<circle cx="249" cy="451" r="2.3" class="hc"/>
<circle cx="252" cy="451" r="2.3" class="hc"/>
<circle cx="255" cy="451" r="2.3" class="hc"/>
<circle cx="258" cy="451" r="2.3" class="hc"/>
<circle cx="261" cy="451" r="2.3" class="hc"/>
<circle cx="264" cy="451" r="2.3" class="hc"/>
<circle cx="267" cy="451" r="2.3" class="hc"/>
<circle cx="270" cy="451" r="2.3" class="hc"/>
<circle cx="273" cy="451" r="2.3" class="hc"/>
<circle cx="276" cy="451" r="2.3" class="hc"/>
<circle cx="252" cy="452.8" r="2.3" class="hc"/>
<circle cx="255.33" cy="452.8" r="2.3" class="hc"/>
<circle cx="258.67" cy="452.8" r="2.3" class="hc"/>
<circle cx="262" cy="452.8" r="2.3" class="hc"/>
<circle cx="265.33" cy="452.8" r="2.3" class="hc"/>
<circle cx="268.67" cy="452.8" r="2.3" class="hc"/>
<circle cx="272" cy="452.8" r="2.3" class="hc"/>
<circle cx="257" cy="455" r="2.3" class="hc"/>
<circle cx="260.67" cy="455" r="2.3" class="hc"/>
<circle cx="264.33" cy="455" r="2.3" class="hc"/>
<circle cx="268" cy="455" r="2.3" class="hc"/>
<circle cx="261.5" cy="457.6" r="2.3" class="hc"/>
<circle cx="310.4" cy="383.2" r="2.3" class="ha"/>
<circle cx="310.4" cy="415.5" r="2.3" class="ha"/>
<circle cx="310.4" cy="421.1" r="2.3" class="ha"/>
<circle cx="307.9" cy="425.3" r="2.3" class="ha"/>
<circle cx="310.4" cy="427.3" r="2.3" class="ha"/>
<circle cx="307.9" cy="429.6" r="2.3" class="ha"/>
<circle cx="310.4" cy="430.4" r="2.3" class="ha"/>
<circle cx="313" cy="431.7" r="2.3" class="ha"/>
<circle cx="307.35" cy="438.77" r="2.3" class="ha"/>
<circle cx="313.56" cy="438.77" r="2.3" class="ha"/>
<circle cx="310.64" cy="440.82" r="2.3" class="ha"/>
<circle cx="295.29" cy="443.16" r="2.3" class="ha"/>
<circle cx="298.21" cy="443.16" r="2.3" class="ha"/>
<circle cx="301.14" cy="443.16" r="2.3" class="ha"/>
<circle cx="304.06" cy="443.16" r="2.3" class="ha"/>
<circle cx="307.35" cy="443.16" r="2.3" class="ha"/>
<circle cx="310.64" cy="443.16" r="2.3" class="ha"/>
<circle cx="313.56" cy="443.16" r="2.3" class="ha"/>
<circle cx="316.49" cy="443.16" r="2.3" class="ha"/>
<circle cx="319.41" cy="443.16" r="2.3" class="ha"/>
<circle cx="322.34" cy="443.16" r="2.3" class="ha"/>
<circle cx="325.63" cy="443.16" r="2.3" class="ha"/>
<circle cx="298.58" cy="445.35" r="2.3" class="ha"/>
<circle cx="304.43" cy="445.35" r="2.3" class="ha"/>
<circle cx="316.85" cy="445.35" r="2.3" class="ha"/>
<circle cx="322.7" cy="445.35" r="2.3" class="ha"/>
<circle cx="295.29" cy="447.54" r="2.3" class="ha"/>
<circle cx="301.5" cy="447.54" r="2.3" class="ha"/>
<circle cx="304.06" cy="447.54" r="2.3" class="ha"/>
<circle cx="307.35" cy="447.54" r="2.3" class="ha"/>
<circle cx="310.64" cy="447.54" r="2.3" class="ha"/>
<circle cx="313.56" cy="447.54" r="2.3" class="ha"/>
<circle cx="316.85" cy="447.54" r="2.3" class="ha"/>
<circle cx="319.78" cy="447.54" r="2.3" class="ha"/>
<circle cx="325.63" cy="447.54" r="2.3" class="ha"/>
<circle cx="301.5" cy="449.37" r="2.3" class="ha"/>
<circle cx="304.06" cy="449.37" r="2.3" class="ha"/>
<circle cx="307.35" cy="449.37" r="2.3" class="ha"/>
<circle cx="310.64" cy="449.37" r="2.3" class="ha"/>
<circle cx="313.93" cy="449.37" r="2.3" class="ha"/>
<circle cx="316.85" cy="449.37" r="2.3" class="ha"/>
<circle cx="301.14" cy="450.83" r="2.3" class="ha"/>
<circle cx="317.22" cy="450.83" r="2.3" class="ha"/>
<circle cx="310.64" cy="451.93" r="2.3" class="ha"/>
<circle cx="313.93" cy="451.93" r="2.3" class="ha"/>
<circle cx="307.35" cy="453.39" r="2.3" class="ha"/>
<circle cx="304.43" cy="454.85" r="2.3" class="ha"/>
<circle cx="310.27" cy="454.85" r="2.3" class="ha"/>
<circle cx="313.56" cy="454.85" r="2.3" class="ha"/>
<circle cx="316.85" cy="454.85" r="2.3" class="ha"/>
<circle cx="310.27" cy="455.95" r="2.3" class="ha"/>
<circle cx="310.64" cy="459.61" r="2.3" class="ha"/>
<circle cx="432.6" cy="368.2" r="2.3" class="hc"/>
<circle cx="432.6" cy="379.3" r="2.3" class="hc"/>
<circle cx="432.6" cy="390.4" r="2.3" class="hc"/>
<circle cx="429.39" cy="403.86" r="2.3" class="hc"/>
<circle cx="435.67" cy="403.86" r="2.3" class="hc"/>
<circle cx="432.48" cy="404.83" r="2.3" class="hc"/>
<circle cx="432.48" cy="406.76" r="2.3" class="hc"/>
<circle cx="432.48" cy="409.18" r="2.3" class="hc"/>
<circle cx="430.84" cy="412.08" r="2.3" class="hc"/>
<circle cx="434.22" cy="412.08" r="2.3" class="hc"/>
<circle cx="429.39" cy="414.98" r="2.3" class="hc"/>
<circle cx="435.67" cy="414.98" r="2.3" class="hc"/>
<circle cx="439.05" cy="414.98" r="2.3" class="hc"/>
<circle cx="432.48" cy="417.39" r="2.3" class="hc"/>
<circle cx="426.49" cy="426.09" r="2.3" class="hc"/>
<circle cx="429.39" cy="426.09" r="2.3" class="hc"/>
<circle cx="435.67" cy="426.09" r="2.3" class="hc"/>
<circle cx="423.59" cy="428.99" r="2.3" class="hc"/>
<circle cx="426.49" cy="428.99" r="2.3" class="hc"/>
<circle cx="429.39" cy="428.99" r="2.3" class="hc"/>
<circle cx="435.67" cy="428.99" r="2.3" class="hc"/>
<circle cx="435.67" cy="430.92" r="2.3" class="hc"/>
<circle cx="432.48" cy="427.83" r="2.3" class="hc"/>
<circle cx="417.8" cy="432.66" r="2.3" class="hc"/>
<circle cx="423.59" cy="432.66" r="2.3" class="hc"/>
<circle cx="429.39" cy="432.66" r="2.3" class="hc"/>
<circle cx="435.67" cy="432.66" r="2.3" class="hc"/>
<circle cx="441.95" cy="432.66" r="2.3" class="hc"/>
<circle cx="447.75" cy="432.66" r="2.3" class="hc"/>
<circle cx="423.59" cy="435.75" r="2.3" class="hc"/>
<circle cx="426.49" cy="435.75" r="2.3" class="hc"/>
<circle cx="439.05" cy="435.75" r="2.3" class="hc"/>
<circle cx="420.7" cy="437.2" r="2.3" class="hc"/>
<circle cx="420.7" cy="439.13" r="2.3" class="hc"/>
<circle cx="429.39" cy="439.13" r="2.3" class="hc"/>
<circle cx="435.67" cy="439.13" r="2.3" class="hc"/>
<circle cx="439.05" cy="439.13" r="2.3" class="hc"/>
<circle cx="444.85" cy="439.13" r="2.3" class="hc"/>
<circle cx="426.49" cy="437.68" r="2.3" class="hc"/>
<circle cx="441.95" cy="439.61" r="2.3" class="hc"/>
<circle cx="432.48" cy="443.48" r="2.3" class="hc"/>
<circle cx="432.48" cy="445.41" r="2.3" class="hc"/>
<circle cx="435.67" cy="445.41" r="2.3" class="hc"/>
<circle cx="429.39" cy="446.86" r="2.3" class="hc"/>
<circle cx="430.84" cy="448.31" r="2.3" class="hc"/>
<circle cx="434.22" cy="448.31" r="2.3" class="hc"/>
<circle cx="429.39" cy="452.17" r="2.3" class="hc"/>
<circle cx="432.48" cy="452.17" r="2.3" class="hc"/>
<circle cx="435.67" cy="452.17" r="2.3" class="hc"/>
<circle cx="429.39" cy="455.56" r="2.3" class="hc"/>
<circle cx="429.39" cy="457" r="2.3" class="hc"/>
<circle cx="432.48" cy="457" r="2.3" class="hc"/>
<circle cx="435.67" cy="457" r="2.3" class="hc"/>
<circle cx="480.61" cy="407.25" r="2.3" class="ha"/>
<circle cx="480.61" cy="410.85" r="2.3" class="ha"/>
<circle cx="480.61" cy="424.21" r="2.3" class="ha"/>
<circle cx="480.61" cy="426.26" r="2.3" class="ha"/>
<circle cx="480.61" cy="428.32" r="2.3" class="ha"/>
<circle cx="478.55" cy="430.89" r="2.3" class="ha"/>
<circle cx="482.67" cy="431.4" r="2.3" class="ha"/>
<circle cx="478.55" cy="432.94" r="2.3" class="ha"/>
<circle cx="477.01" cy="434.49" r="2.3" class="ha"/>
<circle cx="475.47" cy="436.54" r="2.3" class="ha"/>
<circle cx="478.55" cy="438.08" r="2.3" class="ha"/>
<circle cx="483.69" cy="437.57" r="2.3" class="ha"/>
<circle cx="477.01" cy="440.14" r="2.3" class="ha"/>
<circle cx="480.1" cy="441.17" r="2.3" class="ha"/>
<circle cx="477.01" cy="443.73" r="2.3" class="ha"/>
<circle cx="483.69" cy="442.71" r="2.3" class="ha"/>
<circle cx="483.69" cy="445.28" r="2.3" class="ha"/>
<circle cx="478.55" cy="446.3" r="2.3" class="ha"/>
<circle cx="488.83" cy="449.9" r="2.3" class="ha"/>
<circle cx="475.47" cy="450.42" r="2.3" class="ha"/>
<circle cx="485.24" cy="450.42" r="2.3" class="ha"/>
<circle cx="481.64" cy="450.93" r="2.3" class="ha"/>
<circle cx="475.47" cy="453.5" r="2.3" class="ha"/>
<circle cx="480.1" cy="453.5" r="2.3" class="ha"/>
<circle cx="485.24" cy="453.5" r="2.3" class="ha"/>
<circle cx="480.1" cy="455.55" r="2.3" class="ha"/>
<circle cx="467.25" cy="459.46" r="2.3" class="ha"/>
<circle cx="469.82" cy="459.46" r="2.3" class="ha"/>
<circle cx="472.39" cy="459.46" r="2.3" class="ha"/>
<circle cx="474.96" cy="459.46" r="2.3" class="ha"/>
<circle cx="477.53" cy="459.46" r="2.3" class="ha"/>
<circle cx="480.1" cy="459.46" r="2.3" class="ha"/>
<circle cx="482.67" cy="459.46" r="2.3" class="ha"/>
<circle cx="485.24" cy="459.46" r="2.3" class="ha"/>
<circle cx="487.8" cy="459.46" r="2.3" class="ha"/>
<circle cx="490.37" cy="459.46" r="2.3" class="ha"/>
<circle cx="492.94" cy="459.46" r="2.3" class="ha"/>
<circle cx="495" cy="459.46" r="2.3" class="ha"/>
<circle cx="86.29" cy="558.21" r="2.3" class="hc"/>
<circle cx="84.84" cy="562.08" r="2.3" class="hc"/>
<circle cx="88.03" cy="562.56" r="2.3" class="hc"/>
<circle cx="86.29" cy="568.36" r="2.3" class="hc"/>
<circle cx="86.29" cy="570.29" r="2.3" class="hc"/>
<circle cx="84.84" cy="602.66" r="2.3" class="hc"/>
<circle cx="81.94" cy="605.56" r="2.3" class="hc"/>
<circle cx="90.64" cy="605.56" r="2.3" class="hc"/>
<circle cx="93.54" cy="605.56" r="2.3" class="hc"/>
<circle cx="84.84" cy="606.04" r="2.3" class="hc"/>
<circle cx="88.22" cy="606.52" r="2.3" class="hc"/>
<circle cx="86.29" cy="611.35" r="2.3" class="hc"/>
<circle cx="86.35" cy="570.65" r="2.3" class="hc"/>
<circle cx="87.66" cy="575.89" r="2.3" class="hc"/>
<circle cx="90.6" cy="574.25" r="2.3" class="hc"/>
<circle cx="76.54" cy="578.5" r="2.3" class="hc"/>
<circle cx="79.16" cy="579.16" r="2.3" class="hc"/>
<circle cx="82.1" cy="577.52" r="2.3" class="hc"/>
<circle cx="93.22" cy="577.85" r="2.3" class="hc"/>
<circle cx="96.16" cy="579.81" r="2.3" class="hc"/>
<circle cx="79.16" cy="580.79" r="2.3" class="hc"/>
<circle cx="82.1" cy="580.79" r="2.3" class="hc"/>
<circle cx="90.27" cy="580.79" r="2.3" class="hc"/>
<circle cx="93.22" cy="581.45" r="2.3" class="hc"/>
<circle cx="79.16" cy="584.06" r="2.3" class="hc"/>
<circle cx="82.1" cy="584.06" r="2.3" class="hc"/>
<circle cx="85.04" cy="584.06" r="2.3" class="hc"/>
<circle cx="90.27" cy="584.06" r="2.3" class="hc"/>
<circle cx="87.66" cy="585.7" r="2.3" class="hc"/>
<circle cx="96.16" cy="585.7" r="2.3" class="hc"/>
<circle cx="93.22" cy="583.41" r="2.3" class="hc"/>
<circle cx="96.16" cy="587.33" r="2.3" class="hc"/>
<circle cx="73.6" cy="589.42" r="2.3" class="hc"/>
<circle cx="76.54" cy="589.42" r="2.3" class="hc"/>
<circle cx="79.48" cy="589.42" r="2.3" class="hc"/>
<circle cx="82.1" cy="589.42" r="2.3" class="hc"/>
<circle cx="87.66" cy="589.42" r="2.3" class="hc"/>
<circle cx="93.22" cy="589.42" r="2.3" class="hc"/>
<circle cx="98.78" cy="589.42" r="2.3" class="hc"/>
<circle cx="79.48" cy="591.58" r="2.3" class="hc"/>
<circle cx="82.1" cy="591.26" r="2.3" class="hc"/>
<circle cx="93.22" cy="591.26" r="2.3" class="hc"/>
<circle cx="90.27" cy="590.93" r="2.3" class="hc"/>
<circle cx="79.48" cy="594.53" r="2.3" class="hc"/>
<circle cx="82.1" cy="594.85" r="2.3" class="hc"/>
<circle cx="90.27" cy="594.85" r="2.3" class="hc"/>
<circle cx="93.22" cy="595.18" r="2.3" class="hc"/>
<circle cx="96.16" cy="595.83" r="2.3" class="hc"/>
<circle cx="76.54" cy="596.16" r="2.3" class="hc"/>
<circle cx="79.48" cy="599.76" r="2.3" class="hc"/>
<circle cx="82.1" cy="599.43" r="2.3" class="hc"/>
<circle cx="85.04" cy="599.1" r="2.3" class="hc"/>
<circle cx="87.66" cy="598.78" r="2.3" class="hc"/>
<circle cx="90.27" cy="598.12" r="2.3" class="hc"/>
<circle cx="93.22" cy="598.12" r="2.3" class="hc"/>
<circle cx="85.04" cy="602.05" r="2.3" class="hc"/>
<circle cx="93.22" cy="600.41" r="2.3" class="hc"/>
<circle cx="134.6" cy="620.6" r="2.3" class="ha"/>
<circle cx="134.6" cy="525.6" r="2.3" class="ha"/>
<circle cx="134.6" cy="547" r="2.3" class="ha"/>
<circle cx="134.6" cy="553.4" r="2.3" class="ha"/>
<circle cx="132.97" cy="572.13" r="2.3" class="ha"/>
<circle cx="136.13" cy="570.5" r="2.3" class="ha"/>
<circle cx="134.78" cy="575.29" r="2.3" class="ha"/>
<circle cx="130.26" cy="578" r="2.3" class="ha"/>
<circle cx="132.97" cy="578.45" r="2.3" class="ha"/>
<circle cx="135.68" cy="578.45" r="2.3" class="ha"/>
<circle cx="132.97" cy="582.97" r="2.3" class="ha"/>
<circle cx="135.68" cy="582.52" r="2.3" class="ha"/>
<circle cx="135.68" cy="585.68" r="2.3" class="ha"/>
<circle cx="130.26" cy="587.94" r="2.3" class="ha"/>
<circle cx="135.68" cy="588.39" r="2.3" class="ha"/>
<circle cx="128" cy="590.65" r="2.3" class="ha"/>
<circle cx="128" cy="592" r="2.3" class="ha"/>
<circle cx="130.26" cy="591.1" r="2.3" class="ha"/>
<circle cx="138.39" cy="592.46" r="2.3" class="ha"/>
<circle cx="141.1" cy="591.55" r="2.3" class="ha"/>
<circle cx="121.23" cy="594.71" r="2.3" class="ha"/>
<circle cx="124.84" cy="594.71" r="2.3" class="ha"/>
<circle cx="128.91" cy="594.71" r="2.3" class="ha"/>
<circle cx="132.07" cy="594.71" r="2.3" class="ha"/>
<circle cx="135.68" cy="594.71" r="2.3" class="ha"/>
<circle cx="138.39" cy="594.71" r="2.3" class="ha"/>
<circle cx="141.1" cy="594.71" r="2.3" class="ha"/>
<circle cx="144.71" cy="594.71" r="2.3" class="ha"/>
<circle cx="147.88" cy="594.71" r="2.3" class="ha"/>
<circle cx="127.55" cy="597.88" r="2.3" class="ha"/>
<circle cx="130.26" cy="597.88" r="2.3" class="ha"/>
<circle cx="135.68" cy="597.88" r="2.3" class="ha"/>
<circle cx="138.39" cy="597.88" r="2.3" class="ha"/>
<circle cx="132.97" cy="596.97" r="2.3" class="ha"/>
<circle cx="127.55" cy="600.13" r="2.3" class="ha"/>
<circle cx="130.26" cy="600.13" r="2.3" class="ha"/>
<circle cx="135.68" cy="600.13" r="2.3" class="ha"/>
<circle cx="138.39" cy="600.13" r="2.3" class="ha"/>
<circle cx="132.97" cy="601.04" r="2.3" class="ha"/>
<circle cx="132.97" cy="603.3" r="2.3" class="ha"/>
<circle cx="132.97" cy="604.65" r="2.3" class="ha"/>
<circle cx="130.26" cy="606.01" r="2.3" class="ha"/>
<circle cx="132.97" cy="606.46" r="2.3" class="ha"/>
<circle cx="135.68" cy="606.46" r="2.3" class="ha"/>
<circle cx="138.39" cy="606.91" r="2.3" class="ha"/>
<circle cx="141.1" cy="605.1" r="2.3" class="ha"/>
<circle cx="262.3" cy="537" r="2.3" class="hc"/>
<circle cx="262.3" cy="548.2" r="2.3" class="hc"/>
<circle cx="260.4" cy="558" r="2.3" class="hc"/>
<circle cx="264.4" cy="558" r="2.3" class="hc"/>
<circle cx="260.4" cy="564.8" r="2.3" class="hc"/>
<circle cx="264.4" cy="563.8" r="2.3" class="hc"/>
<circle cx="255" cy="573" r="2.3" class="hc"/>
<circle cx="255" cy="576.2" r="2.3" class="hc"/>
<circle cx="258.9" cy="574.6" r="2.3" class="hc"/>
<circle cx="266.2" cy="574.6" r="2.3" class="hc"/>
<circle cx="270" cy="574.6" r="2.3" class="hc"/>
<circle cx="273.58" cy="581.74" r="2.3" class="hc"/>
<circle cx="273.58" cy="584.98" r="2.3" class="hc"/>
<circle cx="273.58" cy="587.41" r="2.3" class="hc"/>
<circle cx="251.31" cy="584.57" r="2.3" class="hc"/>
<circle cx="254.96" cy="583.36" r="2.3" class="hc"/>
<circle cx="254.96" cy="585.38" r="2.3" class="hc"/>
<circle cx="258.6" cy="582.96" r="2.3" class="hc"/>
<circle cx="258.6" cy="584.98" r="2.3" class="hc"/>
<circle cx="277.22" cy="584.98" r="2.3" class="hc"/>
<circle cx="258.6" cy="588.62" r="2.3" class="hc"/>
<circle cx="262.24" cy="588.62" r="2.3" class="hc"/>
<circle cx="269.94" cy="588.62" r="2.3" class="hc"/>
<circle cx="251.31" cy="589.84" r="2.3" class="hc"/>
<circle cx="266.29" cy="589.84" r="2.3" class="hc"/>
<circle cx="246.86" cy="592.02" r="2.3" class="hc"/>
<circle cx="251.31" cy="592.02" r="2.3" class="hc"/>
<circle cx="254.96" cy="592.02" r="2.3" class="hc"/>
<circle cx="258.6" cy="592.02" r="2.3" class="hc"/>
<circle cx="262.24" cy="592.02" r="2.3" class="hc"/>
<circle cx="266.29" cy="592.02" r="2.3" class="hc"/>
<circle cx="269.94" cy="592.02" r="2.3" class="hc"/>
<circle cx="273.58" cy="592.02" r="2.3" class="hc"/>
<circle cx="277.22" cy="592.02" r="2.3" class="hc"/>
<circle cx="247.67" cy="594.29" r="2.3" class="hc"/>
<circle cx="254.96" cy="594.29" r="2.3" class="hc"/>
<circle cx="262.24" cy="594.29" r="2.3" class="hc"/>
<circle cx="269.94" cy="594.29" r="2.3" class="hc"/>
<circle cx="277.22" cy="594.29" r="2.3" class="hc"/>
<circle cx="254.96" cy="595.91" r="2.3" class="hc"/>
<circle cx="258.6" cy="595.91" r="2.3" class="hc"/>
<circle cx="265.89" cy="595.91" r="2.3" class="hc"/>
<circle cx="247.67" cy="598.74" r="2.3" class="hc"/>
<circle cx="273.58" cy="598.74" r="2.3" class="hc"/>
<circle cx="277.22" cy="598.74" r="2.3" class="hc"/>
<circle cx="254.96" cy="598.5" r="2.3" class="hc"/>
<circle cx="258.6" cy="598.5" r="2.3" class="hc"/>
<circle cx="262.24" cy="598.5" r="2.3" class="hc"/>
<circle cx="266.29" cy="598.5" r="2.3" class="hc"/>
<circle cx="269.94" cy="598.5" r="2.3" class="hc"/>
<circle cx="254.96" cy="602.79" r="2.3" class="hc"/>
<circle cx="269.94" cy="602.79" r="2.3" class="hc"/>
<circle cx="262.24" cy="604.01" r="2.3" class="hc"/>
<circle cx="266.29" cy="604.01" r="2.3" class="hc"/>
<circle cx="254.96" cy="606.84" r="2.3" class="hc"/>
<circle cx="269.94" cy="606.84" r="2.3" class="hc"/>
<circle cx="258.6" cy="608.46" r="2.3" class="hc"/>
<circle cx="262.24" cy="608.46" r="2.3" class="hc"/>
<circle cx="265.89" cy="608.06" r="2.3" class="hc"/>
<circle cx="260.62" cy="612.51" r="2.3" class="hc"/>
<circle cx="264.27" cy="611.3" r="2.3" class="hc"/>
<circle cx="310.62" cy="534.12" r="2.3" class="ha"/>
<circle cx="310.62" cy="539.73" r="2.3" class="ha"/>
<circle cx="310.62" cy="558.24" r="2.3" class="ha"/>
<circle cx="310.62" cy="564.97" r="2.3" class="ha"/>
<circle cx="308.65" cy="571.7" r="2.3" class="ha"/>
<circle cx="312.16" cy="571.7" r="2.3" class="ha"/>
<circle cx="308.65" cy="574.37" r="2.3" class="ha"/>
<circle cx="312.16" cy="574.37" r="2.3" class="ha"/>
<circle cx="310.62" cy="579" r="2.3" class="ha"/>
<circle cx="307.53" cy="581.8" r="2.3" class="ha"/>
<circle cx="313.84" cy="581.8" r="2.3" class="ha"/>
<circle cx="307.53" cy="584.61" r="2.3" class="ha"/>
<circle cx="313.84" cy="586.01" r="2.3" class="ha"/>
<circle cx="307.53" cy="590.92" r="2.3" class="ha"/>
<circle cx="313.84" cy="590.22" r="2.3" class="ha"/>
<circle cx="316.65" cy="591.62" r="2.3" class="ha"/>
<circle cx="307.53" cy="593.72" r="2.3" class="ha"/>
<circle cx="313.84" cy="593.72" r="2.3" class="ha"/>
<circle cx="316.65" cy="595.13" r="2.3" class="ha"/>
<circle cx="294.91" cy="597.51" r="2.3" class="ha"/>
<circle cx="298.42" cy="597.51" r="2.3" class="ha"/>
<circle cx="301.92" cy="597.51" r="2.3" class="ha"/>
<circle cx="307.53" cy="597.51" r="2.3" class="ha"/>
<circle cx="316.65" cy="597.51" r="2.3" class="ha"/>
<circle cx="322.96" cy="597.51" r="2.3" class="ha"/>
<circle cx="326.47" cy="597.51" r="2.3" class="ha"/>
<circle cx="310.62" cy="596.53" r="2.3" class="ha"/>
<circle cx="304.03" cy="600.74" r="2.3" class="ha"/>
<circle cx="301.22" cy="601.44" r="2.3" class="ha"/>
<circle cx="319.45" cy="601.44" r="2.3" class="ha"/>
<circle cx="313.14" cy="600.04" r="2.3" class="ha"/>
<circle cx="316.65" cy="600.04" r="2.3" class="ha"/>
<circle cx="295.61" cy="604.24" r="2.3" class="ha"/>
<circle cx="298.42" cy="604.24" r="2.3" class="ha"/>
<circle cx="301.92" cy="604.24" r="2.3" class="ha"/>
<circle cx="304.73" cy="604.24" r="2.3" class="ha"/>
<circle cx="307.53" cy="604.24" r="2.3" class="ha"/>
<circle cx="310.62" cy="604.24" r="2.3" class="ha"/>
<circle cx="313.84" cy="604.24" r="2.3" class="ha"/>
<circle cx="316.65" cy="604.24" r="2.3" class="ha"/>
<circle cx="319.45" cy="604.24" r="2.3" class="ha"/>
<circle cx="322.26" cy="604.24" r="2.3" class="ha"/>
<circle cx="325.76" cy="604.24" r="2.3" class="ha"/>
<circle cx="304.73" cy="606.35" r="2.3" class="ha"/>
<circle cx="307.53" cy="606.35" r="2.3" class="ha"/>
<circle cx="310.62" cy="605.65" r="2.3" class="ha"/>
<circle cx="313.84" cy="605.65" r="2.3" class="ha"/>
<circle cx="316.65" cy="604.94" r="2.3" class="ha"/>
<circle cx="307.53" cy="609.15" r="2.3" class="ha"/>
<circle cx="313.14" cy="609.15" r="2.3" class="ha"/>
<circle cx="310.62" cy="608.45" r="2.3" class="ha"/>
<circle cx="310.62" cy="610.83" r="2.3" class="ha"/>
<circle cx="431.3" cy="563.7" r="2.3" class="hc"/>
<circle cx="434" cy="562" r="2.3" class="hc"/>
<circle cx="432.5" cy="568" r="2.3" class="hc"/>
<circle cx="423.6" cy="569" r="2.3" class="hc"/>
<circle cx="426" cy="569" r="2.3" class="hc"/>
<circle cx="432.5" cy="571" r="2.3" class="hc"/>
<circle cx="418" cy="572.2" r="2.3" class="hc"/>
<circle cx="421.22" cy="572.2" r="2.3" class="hc"/>
<circle cx="424.44" cy="572.2" r="2.3" class="hc"/>
<circle cx="427.67" cy="572.2" r="2.3" class="hc"/>
<circle cx="430.89" cy="572.2" r="2.3" class="hc"/>
<circle cx="434.11" cy="572.2" r="2.3" class="hc"/>
<circle cx="437.33" cy="572.2" r="2.3" class="hc"/>
<circle cx="440.56" cy="572.2" r="2.3" class="hc"/>
<circle cx="443.78" cy="572.2" r="2.3" class="hc"/>
<circle cx="447" cy="572.2" r="2.3" class="hc"/>
<circle cx="420" cy="573.8" r="2.3" class="hc"/>
<circle cx="423.12" cy="573.8" r="2.3" class="hc"/>
<circle cx="426.25" cy="573.8" r="2.3" class="hc"/>
<circle cx="429.38" cy="573.8" r="2.3" class="hc"/>
<circle cx="432.5" cy="573.8" r="2.3" class="hc"/>
<circle cx="435.62" cy="573.8" r="2.3" class="hc"/>
<circle cx="438.75" cy="573.8" r="2.3" class="hc"/>
<circle cx="441.88" cy="573.8" r="2.3" class="hc"/>
<circle cx="445" cy="573.8" r="2.3" class="hc"/>
<circle cx="417" cy="575.3" r="2.3" class="hc"/>
<circle cx="420.1" cy="575.3" r="2.3" class="hc"/>
<circle cx="423.2" cy="575.3" r="2.3" class="hc"/>
<circle cx="426.3" cy="575.3" r="2.3" class="hc"/>
<circle cx="429.4" cy="575.3" r="2.3" class="hc"/>
<circle cx="432.5" cy="575.3" r="2.3" class="hc"/>
<circle cx="435.6" cy="575.3" r="2.3" class="hc"/>
<circle cx="438.7" cy="575.3" r="2.3" class="hc"/>
<circle cx="441.8" cy="575.3" r="2.3" class="hc"/>
<circle cx="444.9" cy="575.3" r="2.3" class="hc"/>
<circle cx="448" cy="575.3" r="2.3" class="hc"/>
<circle cx="416.5" cy="576.7" r="2.3" class="hc"/>
<circle cx="419.7" cy="576.7" r="2.3" class="hc"/>
<circle cx="422.9" cy="576.7" r="2.3" class="hc"/>
<circle cx="426.1" cy="576.7" r="2.3" class="hc"/>
<circle cx="429.3" cy="576.7" r="2.3" class="hc"/>
<circle cx="432.5" cy="576.7" r="2.3" class="hc"/>
<circle cx="435.7" cy="576.7" r="2.3" class="hc"/>
<circle cx="438.9" cy="576.7" r="2.3" class="hc"/>
<circle cx="442.1" cy="576.7" r="2.3" class="hc"/>
<circle cx="445.3" cy="576.7" r="2.3" class="hc"/>
<circle cx="448.5" cy="576.7" r="2.3" class="hc"/>
<circle cx="419" cy="578.4" r="2.3" class="hc"/>
<circle cx="422" cy="578.4" r="2.3" class="hc"/>
<circle cx="425" cy="578.4" r="2.3" class="hc"/>
<circle cx="428" cy="578.4" r="2.3" class="hc"/>
<circle cx="431" cy="578.4" r="2.3" class="hc"/>
<circle cx="434" cy="578.4" r="2.3" class="hc"/>
<circle cx="437" cy="578.4" r="2.3" class="hc"/>
<circle cx="440" cy="578.4" r="2.3" class="hc"/>
<circle cx="443" cy="578.4" r="2.3" class="hc"/>
<circle cx="446" cy="578.4" r="2.3" class="hc"/>
<circle cx="421" cy="580" r="2.3" class="hc"/>
<circle cx="424.29" cy="580" r="2.3" class="hc"/>
<circle cx="427.57" cy="580" r="2.3" class="hc"/>
<circle cx="430.86" cy="580" r="2.3" class="hc"/>
<circle cx="434.14" cy="580" r="2.3" class="hc"/>
<circle cx="437.43" cy="580" r="2.3" class="hc"/>
<circle cx="440.71" cy="580" r="2.3" class="hc"/>
<circle cx="444" cy="580" r="2.3" class="hc"/>
<circle cx="422" cy="581.6" r="2.3" class="hc"/>
<circle cx="425" cy="581.6" r="2.3" class="hc"/>
<circle cx="428" cy="581.6" r="2.3" class="hc"/>
<circle cx="431" cy="581.6" r="2.3" class="hc"/>
<circle cx="434" cy="581.6" r="2.3" class="hc"/>
<circle cx="437" cy="581.6" r="2.3" class="hc"/>
<circle cx="440" cy="581.6" r="2.3" class="hc"/>
<circle cx="443" cy="581.6" r="2.3" class="hc"/>
<circle cx="429.5" cy="584" r="2.3" class="hc"/>
<circle cx="435.5" cy="584" r="2.3" class="hc"/>
<circle cx="431.8" cy="587.2" r="2.3" class="hc"/>
<circle cx="433" cy="587.2" r="2.3" class="hc"/>
<circle cx="432.5" cy="590.2" r="2.3" class="hc"/>
<circle cx="432.5" cy="593.6" r="2.3" class="hc"/>
<circle cx="480.9" cy="541.45" r="2.3" class="ha"/>
<circle cx="480.9" cy="551.79" r="2.3" class="ha"/>
<circle cx="477.03" cy="555.27" r="2.3" class="ha"/>
<circle cx="477.03" cy="558.16" r="2.3" class="ha"/>
<circle cx="480.9" cy="556.43" r="2.3" class="ha"/>
<circle cx="480.9" cy="558.36" r="2.3" class="ha"/>
<circle cx="484.76" cy="559.32" r="2.3" class="ha"/>
<circle cx="488.43" cy="557.87" r="2.3" class="ha"/>
<circle cx="477.03" cy="562.71" r="2.3" class="ha"/>
<circle cx="484.76" cy="562.71" r="2.3" class="ha"/>
<circle cx="488.43" cy="562.71" r="2.3" class="ha"/>
<circle cx="480.9" cy="561.74" r="2.3" class="ha"/>
<circle cx="492.11" cy="563.67" r="2.3" class="ha"/>
<circle cx="465.73" cy="565.89" r="2.3" class="ha"/>
<circle cx="469.59" cy="565.89" r="2.3" class="ha"/>
<circle cx="473.27" cy="565.89" r="2.3" class="ha"/>
<circle cx="477.03" cy="565.89" r="2.3" class="ha"/>
<circle cx="480.9" cy="565.89" r="2.3" class="ha"/>
<circle cx="484.76" cy="565.89" r="2.3" class="ha"/>
<circle cx="488.43" cy="565.89" r="2.3" class="ha"/>
<circle cx="492.11" cy="565.89" r="2.3" class="ha"/>
<circle cx="495.97" cy="565.89" r="2.3" class="ha"/>
<circle cx="469.59" cy="568.7" r="2.3" class="ha"/>
<circle cx="484.76" cy="568.7" r="2.3" class="ha"/>
<circle cx="492.11" cy="568.7" r="2.3" class="ha"/>
<circle cx="473.27" cy="569.47" r="2.3" class="ha"/>
<circle cx="477.03" cy="568.5" r="2.3" class="ha"/>
<circle cx="477.03" cy="570.43" r="2.3" class="ha"/>
<circle cx="477.03" cy="573.33" r="2.3" class="ha"/>
<circle cx="473.27" cy="574.78" r="2.3" class="ha"/>
<circle cx="469.59" cy="577.68" r="2.3" class="ha"/>
<circle cx="473.27" cy="577.68" r="2.3" class="ha"/>
<circle cx="488.43" cy="577.68" r="2.3" class="ha"/>
<circle cx="477.03" cy="577.2" r="2.3" class="ha"/>
<circle cx="477.03" cy="579.13" r="2.3" class="ha"/>
<circle cx="492.11" cy="579.13" r="2.3" class="ha"/>
<circle cx="480.9" cy="578.65" r="2.3" class="ha"/>
<circle cx="484.76" cy="578.16" r="2.3" class="ha"/>
<circle cx="492.11" cy="575.75" r="2.3" class="ha"/>
<circle cx="480.9" cy="581.06" r="2.3" class="ha"/>
<circle cx="484.76" cy="581.06" r="2.3" class="ha"/>
<circle cx="484.76" cy="584.93" r="2.3" class="ha"/>
<circle cx="480.9" cy="586.38" r="2.3" class="ha"/>
<circle cx="477.03" cy="590.24" r="2.3" class="ha"/>
<circle cx="480.9" cy="590.24" r="2.3" class="ha"/>
<circle cx="484.76" cy="590.72" r="2.3" class="ha"/>
<circle cx="478.97" cy="594.88" r="2.3" class="ha"/>
<circle cx="482.83" cy="592.95" r="2.3" class="ha"/>
<circle cx="86.4" cy="47" r="1.0" class="dc"/>
<circle cx="86.4" cy="52.8" r="1.0" class="dc"/>
<circle cx="86.4" cy="57" r="1.0" class="dc"/>
<circle cx="86.4" cy="90.2" r="1.0" class="dc"/>
<circle cx="75.15" cy="93.2" r="1.0" class="dc"/>
<circle cx="78.9" cy="93.2" r="1.0" class="dc"/>
<circle cx="86.4" cy="93.2" r="1.0" class="dc"/>
<circle cx="93.9" cy="93.2" r="1.0" class="dc"/>
<circle cx="97.65" cy="93.2" r="1.0" class="dc"/>
<circle cx="82.65" cy="94.4" r="1.0" class="dc"/>
<circle cx="90.15" cy="95.9" r="1.0" class="dc"/>
<circle cx="82.65" cy="97.5" r="1.0" class="dc"/>
<circle cx="93.9" cy="98.6" r="1.0" class="dc"/>
<circle cx="101.4" cy="100.2" r="1.0" class="dc"/>
<circle cx="71.4" cy="102.1" r="1.0" class="dc"/>
<circle cx="75.15" cy="102.1" r="1.0" class="dc"/>
<circle cx="78.9" cy="102.1" r="1.0" class="dc"/>
<circle cx="97.65" cy="102.1" r="1.0" class="dc"/>
<circle cx="101.4" cy="103.2" r="1.0" class="dc"/>
<circle cx="71.4" cy="104.4" r="1.0" class="dc"/>
<circle cx="75.15" cy="104.4" r="1.0" class="dc"/>
<circle cx="78.9" cy="104.4" r="1.0" class="dc"/>
<circle cx="82.65" cy="104.4" r="1.0" class="dc"/>
<circle cx="90.15" cy="104.4" r="1.0" class="dc"/>
<circle cx="93.9" cy="104.4" r="1.0" class="dc"/>
<circle cx="97.65" cy="104.4" r="1.0" class="dc"/>
<circle cx="78.9" cy="106.3" r="1.0" class="dc"/>
<circle cx="93.9" cy="106.3" r="1.0" class="dc"/>
<circle cx="75.15" cy="107.1" r="1.0" class="dc"/>
<circle cx="71.4" cy="110.2" r="1.0" class="dc"/>
<circle cx="75.15" cy="110.2" r="1.0" class="dc"/>
<circle cx="82.65" cy="110.2" r="1.0" class="dc"/>
<circle cx="90.15" cy="110.2" r="1.0" class="dc"/>
<circle cx="97.65" cy="110.2" r="1.0" class="dc"/>
<circle cx="78.9" cy="112.8" r="1.0" class="dc"/>
<circle cx="82.65" cy="112.8" r="1.0" class="dc"/>
<circle cx="90.15" cy="112.8" r="1.0" class="dc"/>
<circle cx="93.9" cy="112.8" r="1.0" class="dc"/>
<circle cx="75.15" cy="115.5" r="1.0" class="dc"/>
<circle cx="78.9" cy="115.5" r="1.0" class="dc"/>
<circle cx="82.65" cy="115.5" r="1.0" class="dc"/>
<circle cx="90.15" cy="115.5" r="1.0" class="dc"/>
<circle cx="93.9" cy="115.5" r="1.0" class="dc"/>
<circle cx="97.65" cy="115.5" r="1.0" class="dc"/>
<circle cx="75.15" cy="117.8" r="1.0" class="dc"/>
<circle cx="82.65" cy="117.8" r="1.0" class="dc"/>
<circle cx="90.15" cy="117.8" r="1.0" class="dc"/>
<circle cx="93.9" cy="117.8" r="1.0" class="dc"/>
<circle cx="97.65" cy="117.8" r="1.0" class="dc"/>
<circle cx="78.9" cy="119.4" r="1.0" class="dc"/>
<circle cx="82.65" cy="120.9" r="1.0" class="dc"/>
<circle cx="90.15" cy="120.9" r="1.0" class="dc"/>
<circle cx="82.65" cy="124" r="1.0" class="dc"/>
<circle cx="86.4" cy="124" r="1.0" class="dc"/>
<circle cx="90.15" cy="124" r="1.0" class="dc"/>
<circle cx="86.4" cy="127.1" r="1.0" class="dc"/>
<circle cx="134.5" cy="45.8" r="1.0" class="da"/>
<circle cx="134.5" cy="56" r="1.0" class="da"/>
<circle cx="134.5" cy="73.8" r="1.0" class="da"/>
<circle cx="134.5" cy="83.2" r="1.0" class="da"/>
<circle cx="134.5" cy="86.8" r="1.0" class="da"/>
<circle cx="141" cy="89.8" r="1.0" class="da"/>
<circle cx="127.9" cy="90.6" r="1.0" class="da"/>
<circle cx="132.5" cy="91.7" r="1.0" class="da"/>
<circle cx="136.7" cy="91.7" r="1.0" class="da"/>
<circle cx="136.7" cy="97" r="1.0" class="da"/>
<circle cx="123.9" cy="98.2" r="1.0" class="da"/>
<circle cx="145.2" cy="98.2" r="1.0" class="da"/>
<circle cx="132.5" cy="99" r="1.0" class="da"/>
<circle cx="127.9" cy="100" r="1.0" class="da"/>
<circle cx="141" cy="100" r="1.0" class="da"/>
<circle cx="132.5" cy="101.8" r="1.0" class="da"/>
<circle cx="127.9" cy="105.5" r="1.0" class="da"/>
<circle cx="136.7" cy="105.5" r="1.0" class="da"/>
<circle cx="132.5" cy="106.7" r="1.0" class="da"/>
<circle cx="123.9" cy="108.3" r="1.0" class="da"/>
<circle cx="136.7" cy="108.3" r="1.0" class="da"/>
<circle cx="127.9" cy="110.3" r="1.0" class="da"/>
<circle cx="141" cy="110.3" r="1.0" class="da"/>
<circle cx="145.2" cy="110.3" r="1.0" class="da"/>
<circle cx="132.5" cy="112.7" r="1.0" class="da"/>
<circle cx="141" cy="112.7" r="1.0" class="da"/>
<circle cx="141" cy="114.1" r="1.0" class="da"/>
<circle cx="127.9" cy="114.8" r="1.0" class="da"/>
<circle cx="145.2" cy="114.8" r="1.0" class="da"/>
<circle cx="123.9" cy="116" r="1.0" class="da"/>
<circle cx="136.7" cy="116.8" r="1.0" class="da"/>
<circle cx="127.9" cy="117.6" r="1.0" class="da"/>
<circle cx="145.2" cy="117.6" r="1.0" class="da"/>
<circle cx="132.5" cy="118" r="1.0" class="da"/>
<circle cx="141" cy="118.8" r="1.0" class="da"/>
<circle cx="132.5" cy="120" r="1.0" class="da"/>
<circle cx="123.9" cy="120.4" r="1.0" class="da"/>
<circle cx="141" cy="121.4" r="1.0" class="da"/>
<circle cx="145.2" cy="121.4" r="1.0" class="da"/>
<circle cx="149.6" cy="121.4" r="1.0" class="da"/>
<circle cx="136.7" cy="122.1" r="1.0" class="da"/>
<circle cx="119.7" cy="122.5" r="1.0" class="da"/>
<circle cx="127.9" cy="122.5" r="1.0" class="da"/>
<circle cx="132.5" cy="123.3" r="1.0" class="da"/>
<circle cx="134.5" cy="126.1" r="1.0" class="da"/>
<circle cx="134.5" cy="131.8" r="1.0" class="da"/>
<circle cx="262.63" cy="86.11" r="1.0" class="dc"/>
<circle cx="262.63" cy="93.09" r="1.0" class="dc"/>
<circle cx="262.63" cy="100.94" r="1.0" class="dc"/>
<circle cx="265.51" cy="100.94" r="1.0" class="dc"/>
<circle cx="268.31" cy="102.25" r="1.0" class="dc"/>
<circle cx="259.58" cy="103.39" r="1.0" class="dc"/>
<circle cx="256.53" cy="104.87" r="1.0" class="dc"/>
<circle cx="262.63" cy="105.31" r="1.0" class="dc"/>
<circle cx="265.51" cy="105.31" r="1.0" class="dc"/>
<circle cx="268.31" cy="105.31" r="1.0" class="dc"/>
<circle cx="259.58" cy="106.18" r="1.0" class="dc"/>
<circle cx="262.63" cy="109.67" r="1.0" class="dc"/>
<circle cx="247.36" cy="111.85" r="1.0" class="dc"/>
<circle cx="250.42" cy="111.85" r="1.0" class="dc"/>
<circle cx="253.47" cy="111.85" r="1.0" class="dc"/>
<circle cx="256.53" cy="111.85" r="1.0" class="dc"/>
<circle cx="259.58" cy="111.85" r="1.0" class="dc"/>
<circle cx="262.63" cy="111.85" r="1.0" class="dc"/>
<circle cx="265.51" cy="111.85" r="1.0" class="dc"/>
<circle cx="268.31" cy="111.85" r="1.0" class="dc"/>
<circle cx="271.36" cy="111.85" r="1.0" class="dc"/>
<circle cx="274.41" cy="111.85" r="1.0" class="dc"/>
<circle cx="277.47" cy="111.85" r="1.0" class="dc"/>
<circle cx="250.42" cy="113.6" r="1.0" class="dc"/>
<circle cx="253.47" cy="113.6" r="1.0" class="dc"/>
<circle cx="271.36" cy="113.6" r="1.0" class="dc"/>
<circle cx="274.41" cy="113.6" r="1.0" class="dc"/>
<circle cx="253.47" cy="115.34" r="1.0" class="dc"/>
<circle cx="256.53" cy="115.34" r="1.0" class="dc"/>
<circle cx="259.58" cy="115.34" r="1.0" class="dc"/>
<circle cx="262.63" cy="115.34" r="1.0" class="dc"/>
<circle cx="265.51" cy="115.34" r="1.0" class="dc"/>
<circle cx="268.31" cy="115.34" r="1.0" class="dc"/>
<circle cx="271.36" cy="115.34" r="1.0" class="dc"/>
<circle cx="248.24" cy="118.39" r="1.0" class="dc"/>
<circle cx="253.47" cy="118.39" r="1.0" class="dc"/>
<circle cx="259.58" cy="118.39" r="1.0" class="dc"/>
<circle cx="265.51" cy="118.39" r="1.0" class="dc"/>
<circle cx="271.36" cy="118.39" r="1.0" class="dc"/>
<circle cx="277.03" cy="118.39" r="1.0" class="dc"/>
<circle cx="250.42" cy="120.14" r="1.0" class="dc"/>
<circle cx="253.47" cy="120.14" r="1.0" class="dc"/>
<circle cx="256.53" cy="120.14" r="1.0" class="dc"/>
<circle cx="259.58" cy="120.14" r="1.0" class="dc"/>
<circle cx="265.51" cy="120.14" r="1.0" class="dc"/>
<circle cx="268.31" cy="120.14" r="1.0" class="dc"/>
<circle cx="271.36" cy="120.14" r="1.0" class="dc"/>
<circle cx="274.41" cy="120.14" r="1.0" class="dc"/>
<circle cx="256.53" cy="121.88" r="1.0" class="dc"/>
<circle cx="259.58" cy="121.88" r="1.0" class="dc"/>
<circle cx="265.51" cy="121.88" r="1.0" class="dc"/>
<circle cx="268.31" cy="121.88" r="1.0" class="dc"/>
<circle cx="271.36" cy="121.88" r="1.0" class="dc"/>
<circle cx="247.36" cy="124.5" r="1.0" class="dc"/>
<circle cx="250.42" cy="124.5" r="1.0" class="dc"/>
<circle cx="253.47" cy="124.5" r="1.0" class="dc"/>
<circle cx="256.53" cy="124.5" r="1.0" class="dc"/>
<circle cx="259.58" cy="124.5" r="1.0" class="dc"/>
<circle cx="265.51" cy="124.5" r="1.0" class="dc"/>
<circle cx="268.31" cy="124.5" r="1.0" class="dc"/>
<circle cx="271.36" cy="124.5" r="1.0" class="dc"/>
<circle cx="274.41" cy="124.5" r="1.0" class="dc"/>
<circle cx="277.47" cy="124.5" r="1.0" class="dc"/>
<circle cx="265.51" cy="125.81" r="1.0" class="dc"/>
<circle cx="268.31" cy="125.81" r="1.0" class="dc"/>
<circle cx="271.36" cy="125.81" r="1.0" class="dc"/>
<circle cx="277.47" cy="125.81" r="1.0" class="dc"/>
<circle cx="256.53" cy="127.56" r="1.0" class="dc"/>
<circle cx="262.63" cy="127.56" r="1.0" class="dc"/>
<circle cx="262.63" cy="128.87" r="1.0" class="dc"/>
<circle cx="265.51" cy="128.87" r="1.0" class="dc"/>
<circle cx="268.31" cy="128.87" r="1.0" class="dc"/>
<circle cx="259.58" cy="130.17" r="1.0" class="dc"/>
<circle cx="268.31" cy="130.17" r="1.0" class="dc"/>
<circle cx="259.58" cy="132.36" r="1.0" class="dc"/>
<circle cx="311" cy="52.5" r="1.0" class="da"/>
<circle cx="310.5" cy="138" r="1.0" class="da"/>
<circle cx="314.12" cy="85.67" r="1.0" class="da"/>
<circle cx="310.37" cy="87.42" r="1.0" class="da"/>
<circle cx="310.37" cy="97.89" r="1.0" class="da"/>
<circle cx="306.53" cy="100.94" r="1.0" class="da"/>
<circle cx="306.53" cy="102.86" r="1.0" class="da"/>
<circle cx="310.37" cy="102.51" r="1.0" class="da"/>
<circle cx="318.05" cy="102.51" r="1.0" class="da"/>
<circle cx="310.37" cy="105.74" r="1.0" class="da"/>
<circle cx="299.03" cy="108.97" r="1.0" class="da"/>
<circle cx="321.72" cy="110.1" r="1.0" class="da"/>
<circle cx="299.03" cy="113.33" r="1.0" class="da"/>
<circle cx="302.78" cy="112.46" r="1.0" class="da"/>
<circle cx="306.71" cy="112.46" r="1.0" class="da"/>
<circle cx="314.12" cy="112.46" r="1.0" class="da"/>
<circle cx="306.71" cy="114.47" r="1.0" class="da"/>
<circle cx="314.12" cy="114.47" r="1.0" class="da"/>
<circle cx="318.05" cy="112.98" r="1.0" class="da"/>
<circle cx="302.78" cy="116.21" r="1.0" class="da"/>
<circle cx="318.05" cy="116.65" r="1.0" class="da"/>
<circle cx="296.24" cy="119.7" r="1.0" class="da"/>
<circle cx="325.9" cy="119.7" r="1.0" class="da"/>
<circle cx="302.78" cy="121.01" r="1.0" class="da"/>
<circle cx="306.71" cy="120.14" r="1.0" class="da"/>
<circle cx="310.37" cy="120.14" r="1.0" class="da"/>
<circle cx="314.12" cy="120.58" r="1.0" class="da"/>
<circle cx="318.05" cy="120.58" r="1.0" class="da"/>
<circle cx="299.03" cy="122.76" r="1.0" class="da"/>
<circle cx="302.78" cy="123.63" r="1.0" class="da"/>
<circle cx="321.72" cy="123.63" r="1.0" class="da"/>
<circle cx="302.78" cy="124.94" r="1.0" class="da"/>
<circle cx="306.71" cy="121.88" r="1.0" class="da"/>
<circle cx="314.12" cy="121.88" r="1.0" class="da"/>
<circle cx="306.71" cy="126.25" r="1.0" class="da"/>
<circle cx="306.71" cy="128.43" r="1.0" class="da"/>
<circle cx="318.05" cy="128.43" r="1.0" class="da"/>
<circle cx="310.37" cy="125.38" r="1.0" class="da"/>
<circle cx="318.05" cy="130.61" r="1.0" class="da"/>
<circle cx="302.78" cy="130.61" r="1.0" class="da"/>
<circle cx="310.37" cy="131.66" r="1.0" class="da"/>
<circle cx="314.12" cy="129.74" r="1.0" class="da"/>
<circle cx="431.1" cy="52.7" r="1.0" class="dc"/>
<circle cx="433.7" cy="53.5" r="1.0" class="dc"/>
<circle cx="432.3" cy="56.6" r="1.0" class="dc"/>
<circle cx="435.12" cy="87.42" r="1.0" class="dc"/>
<circle cx="427.27" cy="88.29" r="1.0" class="dc"/>
<circle cx="429.89" cy="88.29" r="1.0" class="dc"/>
<circle cx="432.51" cy="88.29" r="1.0" class="dc"/>
<circle cx="437.74" cy="90.03" r="1.0" class="dc"/>
<circle cx="432.51" cy="90.91" r="1.0" class="dc"/>
<circle cx="435.12" cy="90.91" r="1.0" class="dc"/>
<circle cx="429.89" cy="92.65" r="1.0" class="dc"/>
<circle cx="432.51" cy="92.65" r="1.0" class="dc"/>
<circle cx="427.27" cy="93.96" r="1.0" class="dc"/>
<circle cx="429.89" cy="93.96" r="1.0" class="dc"/>
<circle cx="419.85" cy="96.14" r="1.0" class="dc"/>
<circle cx="422.47" cy="96.14" r="1.0" class="dc"/>
<circle cx="429.89" cy="96.14" r="1.0" class="dc"/>
<circle cx="439.92" cy="96.14" r="1.0" class="dc"/>
<circle cx="417.24" cy="97.89" r="1.0" class="dc"/>
<circle cx="419.85" cy="97.89" r="1.0" class="dc"/>
<circle cx="442.54" cy="97.89" r="1.0" class="dc"/>
<circle cx="445.16" cy="97.89" r="1.0" class="dc"/>
<circle cx="447.78" cy="97.89" r="1.0" class="dc"/>
<circle cx="427.27" cy="98.76" r="1.0" class="dc"/>
<circle cx="429.89" cy="98.76" r="1.0" class="dc"/>
<circle cx="432.51" cy="98.76" r="1.0" class="dc"/>
<circle cx="435.12" cy="98.76" r="1.0" class="dc"/>
<circle cx="427.27" cy="100.07" r="1.0" class="dc"/>
<circle cx="429.89" cy="100.07" r="1.0" class="dc"/>
<circle cx="435.12" cy="100.07" r="1.0" class="dc"/>
<circle cx="417.24" cy="102.86" r="1.0" class="dc"/>
<circle cx="422.47" cy="102.86" r="1.0" class="dc"/>
<circle cx="427.71" cy="102.86" r="1.0" class="dc"/>
<circle cx="437.31" cy="102.86" r="1.0" class="dc"/>
<circle cx="442.54" cy="102.86" r="1.0" class="dc"/>
<circle cx="447.78" cy="102.86" r="1.0" class="dc"/>
<circle cx="419.85" cy="104.87" r="1.0" class="dc"/>
<circle cx="445.16" cy="104.87" r="1.0" class="dc"/>
<circle cx="447.78" cy="104.87" r="1.0" class="dc"/>
<circle cx="425.09" cy="105.31" r="1.0" class="dc"/>
<circle cx="435.12" cy="105.31" r="1.0" class="dc"/>
<circle cx="437.31" cy="105.31" r="1.0" class="dc"/>
<circle cx="439.92" cy="105.31" r="1.0" class="dc"/>
<circle cx="429.89" cy="106.18" r="1.0" class="dc"/>
<circle cx="435.12" cy="106.18" r="1.0" class="dc"/>
<circle cx="437.31" cy="106.18" r="1.0" class="dc"/>
<circle cx="422.47" cy="107.49" r="1.0" class="dc"/>
<circle cx="425.09" cy="107.49" r="1.0" class="dc"/>
<circle cx="435.12" cy="107.49" r="1.0" class="dc"/>
<circle cx="437.31" cy="107.49" r="1.0" class="dc"/>
<circle cx="439.92" cy="107.49" r="1.0" class="dc"/>
<circle cx="419.85" cy="108.8" r="1.0" class="dc"/>
<circle cx="425.09" cy="108.8" r="1.0" class="dc"/>
<circle cx="432.51" cy="108.8" r="1.0" class="dc"/>
<circle cx="435.12" cy="108.8" r="1.0" class="dc"/>
<circle cx="437.31" cy="108.8" r="1.0" class="dc"/>
<circle cx="439.92" cy="108.8" r="1.0" class="dc"/>
<circle cx="442.54" cy="110.1" r="1.0" class="dc"/>
<circle cx="425.09" cy="110.98" r="1.0" class="dc"/>
<circle cx="437.31" cy="110.98" r="1.0" class="dc"/>
<circle cx="427.71" cy="112.29" r="1.0" class="dc"/>
<circle cx="429.89" cy="113.16" r="1.0" class="dc"/>
<circle cx="432.51" cy="113.16" r="1.0" class="dc"/>
<circle cx="435.12" cy="113.16" r="1.0" class="dc"/>
<circle cx="432.51" cy="114.47" r="1.0" class="dc"/>
<circle cx="432.51" cy="116.65" r="1.0" class="dc"/>
<circle cx="432.51" cy="117.96" r="1.0" class="dc"/>
<circle cx="435.12" cy="117.96" r="1.0" class="dc"/>
<circle cx="429.89" cy="119.27" r="1.0" class="dc"/>
<circle cx="478.8" cy="49.8" r="1.0" class="da"/>
<circle cx="482" cy="50.7" r="1.0" class="da"/>
<circle cx="480.5" cy="73" r="1.0" class="da"/>
<circle cx="480.51" cy="83.66" r="1.0" class="da"/>
<circle cx="472.22" cy="87.42" r="1.0" class="da"/>
<circle cx="472.22" cy="90.3" r="1.0" class="da"/>
<circle cx="475.71" cy="90.91" r="1.0" class="da"/>
<circle cx="478.76" cy="90.91" r="1.0" class="da"/>
<circle cx="485.74" cy="90.91" r="1.0" class="da"/>
<circle cx="482.25" cy="91.52" r="1.0" class="da"/>
<circle cx="489.23" cy="88.73" r="1.0" class="da"/>
<circle cx="478.76" cy="92.65" r="1.0" class="da"/>
<circle cx="478.76" cy="94.4" r="1.0" class="da"/>
<circle cx="482.25" cy="93.09" r="1.0" class="da"/>
<circle cx="482.25" cy="95.27" r="1.0" class="da"/>
<circle cx="475.71" cy="98.5" r="1.0" class="da"/>
<circle cx="478.76" cy="98.5" r="1.0" class="da"/>
<circle cx="475.71" cy="101.38" r="1.0" class="da"/>
<circle cx="478.76" cy="100.94" r="1.0" class="da"/>
<circle cx="478.76" cy="103.12" r="1.0" class="da"/>
<circle cx="482.25" cy="100.07" r="1.0" class="da"/>
<circle cx="485.74" cy="100.07" r="1.0" class="da"/>
<circle cx="482.25" cy="102.25" r="1.0" class="da"/>
<circle cx="489.23" cy="97.89" r="1.0" class="da"/>
<circle cx="468.73" cy="106" r="1.0" class="da"/>
<circle cx="473.09" cy="106" r="1.0" class="da"/>
<circle cx="476.58" cy="106" r="1.0" class="da"/>
<circle cx="484.43" cy="106" r="1.0" class="da"/>
<circle cx="487.92" cy="106" r="1.0" class="da"/>
<circle cx="468.73" cy="110.72" r="1.0" class="da"/>
<circle cx="472.22" cy="110.1" r="1.0" class="da"/>
<circle cx="472.22" cy="113.16" r="1.0" class="da"/>
<circle cx="475.71" cy="111.41" r="1.0" class="da"/>
<circle cx="475.71" cy="114.03" r="1.0" class="da"/>
<circle cx="475.71" cy="115.78" r="1.0" class="da"/>
<circle cx="478.76" cy="109.23" r="1.0" class="da"/>
<circle cx="482.25" cy="109.23" r="1.0" class="da"/>
<circle cx="478.76" cy="110.98" r="1.0" class="da"/>
<circle cx="482.25" cy="112.72" r="1.0" class="da"/>
<circle cx="482.25" cy="114.9" r="1.0" class="da"/>
<circle cx="482.25" cy="116.65" r="1.0" class="da"/>
<circle cx="485.74" cy="110.98" r="1.0" class="da"/>
<circle cx="485.74" cy="113.16" r="1.0" class="da"/>
<circle cx="485.74" cy="115.34" r="1.0" class="da"/>
<circle cx="489.23" cy="109.67" r="1.0" class="da"/>
<circle cx="492.29" cy="110.98" r="1.0" class="da"/>
<circle cx="495.78" cy="108.8" r="1.0" class="da"/>
<circle cx="478.76" cy="117.52" r="1.0" class="da"/>
<circle cx="480.51" cy="121.01" r="1.0" class="da"/>
<circle cx="480.51" cy="124.94" r="1.0" class="da"/>
<circle cx="86.2" cy="207.7" r="1.0" class="dc"/>
<circle cx="84.3" cy="222.5" r="1.0" class="dc"/>
<circle cx="88" cy="223.7" r="1.0" class="dc"/>
<circle cx="86.2" cy="231.2" r="1.0" class="dc"/>
<circle cx="86.2" cy="234.9" r="1.0" class="dc"/>
<circle cx="84.5" cy="238" r="1.0" class="dc"/>
<circle cx="88" cy="240.1" r="1.0" class="dc"/>
<circle cx="81" cy="245.4" r="1.0" class="dc"/>
<circle cx="84.5" cy="245.4" r="1.0" class="dc"/>
<circle cx="91.3" cy="245.4" r="1.0" class="dc"/>
<circle cx="88" cy="247" r="1.0" class="dc"/>
<circle cx="86.2" cy="253.2" r="1.0" class="dc"/>
<circle cx="87.81" cy="257.11" r="1.0" class="dc"/>
<circle cx="94.68" cy="257.67" r="1.0" class="dc"/>
<circle cx="97.91" cy="257.67" r="1.0" class="dc"/>
<circle cx="84.58" cy="260.1" r="1.0" class="dc"/>
<circle cx="87.81" cy="260.1" r="1.0" class="dc"/>
<circle cx="91.04" cy="260.1" r="1.0" class="dc"/>
<circle cx="71.25" cy="261.31" r="1.0" class="dc"/>
<circle cx="77.71" cy="261.31" r="1.0" class="dc"/>
<circle cx="101.14" cy="261.31" r="1.0" class="dc"/>
<circle cx="74.48" cy="262.12" r="1.0" class="dc"/>
<circle cx="80.94" cy="262.12" r="1.0" class="dc"/>
<circle cx="87.81" cy="262.12" r="1.0" class="dc"/>
<circle cx="94.68" cy="262.12" r="1.0" class="dc"/>
<circle cx="97.91" cy="262.12" r="1.0" class="dc"/>
<circle cx="84.58" cy="262.92" r="1.0" class="dc"/>
<circle cx="91.04" cy="262.52" r="1.0" class="dc"/>
<circle cx="71.25" cy="267.12" r="1.0" class="dc"/>
<circle cx="74.48" cy="267.12" r="1.0" class="dc"/>
<circle cx="77.71" cy="267.12" r="1.0" class="dc"/>
<circle cx="80.94" cy="267.12" r="1.0" class="dc"/>
<circle cx="84.58" cy="267.12" r="1.0" class="dc"/>
<circle cx="87.81" cy="267.12" r="1.0" class="dc"/>
<circle cx="91.04" cy="267.12" r="1.0" class="dc"/>
<circle cx="94.68" cy="267.12" r="1.0" class="dc"/>
<circle cx="97.91" cy="267.12" r="1.0" class="dc"/>
<circle cx="101.14" cy="267.12" r="1.0" class="dc"/>
<circle cx="80.94" cy="269.39" r="1.0" class="dc"/>
<circle cx="84.58" cy="269.39" r="1.0" class="dc"/>
<circle cx="87.81" cy="269.39" r="1.0" class="dc"/>
<circle cx="91.04" cy="269.39" r="1.0" class="dc"/>
<circle cx="78.12" cy="270.19" r="1.0" class="dc"/>
<circle cx="94.68" cy="268.98" r="1.0" class="dc"/>
<circle cx="80.94" cy="271.65" r="1.0" class="dc"/>
<circle cx="84.58" cy="271.65" r="1.0" class="dc"/>
<circle cx="91.04" cy="271.65" r="1.0" class="dc"/>
<circle cx="87.81" cy="275.85" r="1.0" class="dc"/>
<circle cx="78.12" cy="277.46" r="1.0" class="dc"/>
<circle cx="80.94" cy="277.46" r="1.0" class="dc"/>
<circle cx="94.68" cy="277.46" r="1.0" class="dc"/>
<circle cx="84.58" cy="276.66" r="1.0" class="dc"/>
<circle cx="84.58" cy="278.68" r="1.0" class="dc"/>
<circle cx="87.81" cy="278.27" r="1.0" class="dc"/>
<circle cx="80.94" cy="281.5" r="1.0" class="dc"/>
<circle cx="80.94" cy="283.93" r="1.0" class="dc"/>
<circle cx="87.81" cy="282.71" r="1.0" class="dc"/>
<circle cx="91.04" cy="281.1" r="1.0" class="dc"/>
<circle cx="84.58" cy="285.14" r="1.0" class="dc"/>
<circle cx="87.81" cy="287.16" r="1.0" class="dc"/>
<circle cx="84.58" cy="289.18" r="1.0" class="dc"/>
<circle cx="134.4" cy="208.1" r="1.0" class="da"/>
<circle cx="134.4" cy="232.5" r="1.0" class="da"/>
<circle cx="134.4" cy="240.3" r="1.0" class="da"/>
<circle cx="134.6" cy="253.39" r="1.0" class="da"/>
<circle cx="129.99" cy="257.67" r="1.0" class="da"/>
<circle cx="139.04" cy="257.67" r="1.0" class="da"/>
<circle cx="134.6" cy="256.87" r="1.0" class="da"/>
<circle cx="134.6" cy="260.5" r="1.0" class="da"/>
<circle cx="121.11" cy="262.92" r="1.0" class="da"/>
<circle cx="121.11" cy="264.94" r="1.0" class="da"/>
<circle cx="129.99" cy="264.94" r="1.0" class="da"/>
<circle cx="143.48" cy="264.94" r="1.0" class="da"/>
<circle cx="147.93" cy="263.73" r="1.0" class="da"/>
<circle cx="139.04" cy="263.73" r="1.0" class="da"/>
<circle cx="139.04" cy="266.56" r="1.0" class="da"/>
<circle cx="134.6" cy="266.96" r="1.0" class="da"/>
<circle cx="134.6" cy="269.39" r="1.0" class="da"/>
<circle cx="125.31" cy="267.93" r="1.0" class="da"/>
<circle cx="129.99" cy="268.98" r="1.0" class="da"/>
<circle cx="143.48" cy="267.77" r="1.0" class="da"/>
<circle cx="121.11" cy="273.42" r="1.0" class="da"/>
<circle cx="125.31" cy="273.42" r="1.0" class="da"/>
<circle cx="129.99" cy="273.42" r="1.0" class="da"/>
<circle cx="139.04" cy="273.42" r="1.0" class="da"/>
<circle cx="143.48" cy="273.42" r="1.0" class="da"/>
<circle cx="121.11" cy="277.87" r="1.0" class="da"/>
<circle cx="125.31" cy="277.46" r="1.0" class="da"/>
<circle cx="139.04" cy="277.46" r="1.0" class="da"/>
<circle cx="125.31" cy="279.48" r="1.0" class="da"/>
<circle cx="129.99" cy="276.66" r="1.0" class="da"/>
<circle cx="129.99" cy="278.68" r="1.0" class="da"/>
<circle cx="134.6" cy="278.27" r="1.0" class="da"/>
<circle cx="139.04" cy="279.89" r="1.0" class="da"/>
<circle cx="143.48" cy="278.68" r="1.0" class="da"/>
<circle cx="147.93" cy="275.85" r="1.0" class="da"/>
<circle cx="147.93" cy="277.87" r="1.0" class="da"/>
<circle cx="125.31" cy="283.93" r="1.0" class="da"/>
<circle cx="129.99" cy="282.71" r="1.0" class="da"/>
<circle cx="139.04" cy="282.71" r="1.0" class="da"/>
<circle cx="134.6" cy="281.91" r="1.0" class="da"/>
<circle cx="134.6" cy="283.93" r="1.0" class="da"/>
<circle cx="143.48" cy="283.12" r="1.0" class="da"/>
<circle cx="129.99" cy="288.61" r="1.0" class="da"/>
<circle cx="134.6" cy="287.56" r="1.0" class="da"/>
<circle cx="139.04" cy="287.56" r="1.0" class="da"/>
<circle cx="262.6" cy="273.3" r="1.0" class="dc"/>
<circle cx="262.6" cy="276.8" r="1.0" class="dc"/>
<circle cx="262.6" cy="281.2" r="1.0" class="dc"/>
<circle cx="277.1" cy="288.3" r="1.0" class="dc"/>
<circle cx="256.5" cy="285.3" r="1.0" class="dc"/>
<circle cx="259.5" cy="285.3" r="1.0" class="dc"/>
<circle cx="262.5" cy="285.3" r="1.0" class="dc"/>
<circle cx="265.5" cy="285.3" r="1.0" class="dc"/>
<circle cx="268.5" cy="285.3" r="1.0" class="dc"/>
<circle cx="252" cy="287" r="1.0" class="dc"/>
<circle cx="255.14" cy="287" r="1.0" class="dc"/>
<circle cx="258.29" cy="287" r="1.0" class="dc"/>
<circle cx="261.43" cy="287" r="1.0" class="dc"/>
<circle cx="264.57" cy="287" r="1.0" class="dc"/>
<circle cx="267.71" cy="287" r="1.0" class="dc"/>
<circle cx="270.86" cy="287" r="1.0" class="dc"/>
<circle cx="274" cy="287" r="1.0" class="dc"/>
<circle cx="249.5" cy="288.8" r="1.0" class="dc"/>
<circle cx="252.75" cy="288.8" r="1.0" class="dc"/>
<circle cx="256" cy="288.8" r="1.0" class="dc"/>
<circle cx="259.25" cy="288.8" r="1.0" class="dc"/>
<circle cx="262.5" cy="288.8" r="1.0" class="dc"/>
<circle cx="265.75" cy="288.8" r="1.0" class="dc"/>
<circle cx="269" cy="288.8" r="1.0" class="dc"/>
<circle cx="272.25" cy="288.8" r="1.0" class="dc"/>
<circle cx="275.5" cy="288.8" r="1.0" class="dc"/>
<circle cx="247.5" cy="290.3" r="1.0" class="dc"/>
<circle cx="250.83" cy="290.3" r="1.0" class="dc"/>
<circle cx="254.17" cy="290.3" r="1.0" class="dc"/>
<circle cx="257.5" cy="290.3" r="1.0" class="dc"/>
<circle cx="260.83" cy="290.3" r="1.0" class="dc"/>
<circle cx="264.17" cy="290.3" r="1.0" class="dc"/>
<circle cx="267.5" cy="290.3" r="1.0" class="dc"/>
<circle cx="270.83" cy="290.3" r="1.0" class="dc"/>
<circle cx="274.17" cy="290.3" r="1.0" class="dc"/>
<circle cx="277.5" cy="290.3" r="1.0" class="dc"/>
<circle cx="247" cy="291.7" r="1.0" class="dc"/>
<circle cx="250.1" cy="291.7" r="1.0" class="dc"/>
<circle cx="253.2" cy="291.7" r="1.0" class="dc"/>
<circle cx="256.3" cy="291.7" r="1.0" class="dc"/>
<circle cx="259.4" cy="291.7" r="1.0" class="dc"/>
<circle cx="262.5" cy="291.7" r="1.0" class="dc"/>
<circle cx="265.6" cy="291.7" r="1.0" class="dc"/>
<circle cx="268.7" cy="291.7" r="1.0" class="dc"/>
<circle cx="271.8" cy="291.7" r="1.0" class="dc"/>
<circle cx="274.9" cy="291.7" r="1.0" class="dc"/>
<circle cx="278" cy="291.7" r="1.0" class="dc"/>
<circle cx="248" cy="293.3" r="1.0" class="dc"/>
<circle cx="251.22" cy="293.3" r="1.0" class="dc"/>
<circle cx="254.44" cy="293.3" r="1.0" class="dc"/>
<circle cx="257.67" cy="293.3" r="1.0" class="dc"/>
<circle cx="260.89" cy="293.3" r="1.0" class="dc"/>
<circle cx="264.11" cy="293.3" r="1.0" class="dc"/>
<circle cx="267.33" cy="293.3" r="1.0" class="dc"/>
<circle cx="270.56" cy="293.3" r="1.0" class="dc"/>
<circle cx="273.78" cy="293.3" r="1.0" class="dc"/>
<circle cx="277" cy="293.3" r="1.0" class="dc"/>
<circle cx="249.5" cy="295" r="1.0" class="dc"/>
<circle cx="252.75" cy="295" r="1.0" class="dc"/>
<circle cx="256" cy="295" r="1.0" class="dc"/>
<circle cx="259.25" cy="295" r="1.0" class="dc"/>
<circle cx="262.5" cy="295" r="1.0" class="dc"/>
<circle cx="265.75" cy="295" r="1.0" class="dc"/>
<circle cx="269" cy="295" r="1.0" class="dc"/>
<circle cx="272.25" cy="295" r="1.0" class="dc"/>
<circle cx="275.5" cy="295" r="1.0" class="dc"/>
<circle cx="257" cy="296.2" r="1.0" class="dc"/>
<circle cx="260" cy="296.2" r="1.0" class="dc"/>
<circle cx="263" cy="296.2" r="1.0" class="dc"/>
<circle cx="266" cy="296.2" r="1.0" class="dc"/>
<circle cx="310.3" cy="208.7" r="1.0" class="da"/>
<circle cx="310.3" cy="235.3" r="1.0" class="da"/>
<circle cx="310.3" cy="246.2" r="1.0" class="da"/>
<circle cx="312.78" cy="255.25" r="1.0" class="da"/>
<circle cx="312.78" cy="258.08" r="1.0" class="da"/>
<circle cx="308.42" cy="257.67" r="1.0" class="da"/>
<circle cx="308.42" cy="264.14" r="1.0" class="da"/>
<circle cx="312.78" cy="264.7" r="1.0" class="da"/>
<circle cx="310.6" cy="271.81" r="1.0" class="da"/>
<circle cx="299.69" cy="276.25" r="1.0" class="da"/>
<circle cx="299.69" cy="278.27" r="1.0" class="da"/>
<circle cx="299.69" cy="280.29" r="1.0" class="da"/>
<circle cx="299.69" cy="282.31" r="1.0" class="da"/>
<circle cx="304.14" cy="277.87" r="1.0" class="da"/>
<circle cx="308.42" cy="276.66" r="1.0" class="da"/>
<circle cx="308.42" cy="279.08" r="1.0" class="da"/>
<circle cx="308.42" cy="281.1" r="1.0" class="da"/>
<circle cx="312.78" cy="275.85" r="1.0" class="da"/>
<circle cx="312.78" cy="277.87" r="1.0" class="da"/>
<circle cx="312.78" cy="280.29" r="1.0" class="da"/>
<circle cx="317.06" cy="277.46" r="1.0" class="da"/>
<circle cx="317.06" cy="279.48" r="1.0" class="da"/>
<circle cx="317.06" cy="281.5" r="1.0" class="da"/>
<circle cx="321.1" cy="280.53" r="1.0" class="da"/>
<circle cx="295.65" cy="284.57" r="1.0" class="da"/>
<circle cx="304.14" cy="284.57" r="1.0" class="da"/>
<circle cx="317.06" cy="284.57" r="1.0" class="da"/>
<circle cx="325.54" cy="284.57" r="1.0" class="da"/>
<circle cx="299.69" cy="285.54" r="1.0" class="da"/>
<circle cx="308.42" cy="285.54" r="1.0" class="da"/>
<circle cx="312.78" cy="285.54" r="1.0" class="da"/>
<circle cx="317.06" cy="285.54" r="1.0" class="da"/>
<circle cx="321.1" cy="285.54" r="1.0" class="da"/>
<circle cx="299.69" cy="287.56" r="1.0" class="da"/>
<circle cx="304.14" cy="287.56" r="1.0" class="da"/>
<circle cx="308.42" cy="287.56" r="1.0" class="da"/>
<circle cx="312.78" cy="287.56" r="1.0" class="da"/>
<circle cx="317.06" cy="287.56" r="1.0" class="da"/>
<circle cx="299.69" cy="290.79" r="1.0" class="da"/>
<circle cx="299.69" cy="293.62" r="1.0" class="da"/>
<circle cx="304.14" cy="290.39" r="1.0" class="da"/>
<circle cx="304.14" cy="294.43" r="1.0" class="da"/>
<circle cx="308.42" cy="289.58" r="1.0" class="da"/>
<circle cx="312.78" cy="289.58" r="1.0" class="da"/>
<circle cx="308.42" cy="291.6" r="1.0" class="da"/>
<circle cx="308.42" cy="295.64" r="1.0" class="da"/>
<circle cx="317.06" cy="295.64" r="1.0" class="da"/>
<circle cx="312.78" cy="294.43" r="1.0" class="da"/>
<circle cx="321.1" cy="291.2" r="1.0" class="da"/>
<circle cx="321.1" cy="293.21" r="1.0" class="da"/>
<circle cx="432.4" cy="208.9" r="1.0" class="dc"/>
<circle cx="432.4" cy="218.1" r="1.0" class="dc"/>
<circle cx="432.4" cy="226.8" r="1.0" class="dc"/>
<circle cx="429.02" cy="241.49" r="1.0" class="dc"/>
<circle cx="435.73" cy="241.49" r="1.0" class="dc"/>
<circle cx="432.42" cy="239.92" r="1.0" class="dc"/>
<circle cx="432.42" cy="243.67" r="1.0" class="dc"/>
<circle cx="434.25" cy="246.73" r="1.0" class="dc"/>
<circle cx="427.53" cy="247.6" r="1.0" class="dc"/>
<circle cx="427.53" cy="249.78" r="1.0" class="dc"/>
<circle cx="427.53" cy="251.96" r="1.0" class="dc"/>
<circle cx="430.76" cy="251.53" r="1.0" class="dc"/>
<circle cx="437.48" cy="248.91" r="1.0" class="dc"/>
<circle cx="437.48" cy="251.09" r="1.0" class="dc"/>
<circle cx="437.48" cy="252.83" r="1.0" class="dc"/>
<circle cx="430.76" cy="256.76" r="1.0" class="dc"/>
<circle cx="434.25" cy="256.76" r="1.0" class="dc"/>
<circle cx="437.48" cy="256.76" r="1.0" class="dc"/>
<circle cx="430.76" cy="258.51" r="1.0" class="dc"/>
<circle cx="420.73" cy="263.74" r="1.0" class="dc"/>
<circle cx="427.53" cy="262.43" r="1.0" class="dc"/>
<circle cx="430.76" cy="261.12" r="1.0" class="dc"/>
<circle cx="430.76" cy="263.31" r="1.0" class="dc"/>
<circle cx="430.76" cy="265.05" r="1.0" class="dc"/>
<circle cx="434.25" cy="264.61" r="1.0" class="dc"/>
<circle cx="437.48" cy="265.92" r="1.0" class="dc"/>
<circle cx="440.8" cy="262.43" r="1.0" class="dc"/>
<circle cx="444.11" cy="262.43" r="1.0" class="dc"/>
<circle cx="417.24" cy="268.72" r="1.0" class="dc"/>
<circle cx="424.22" cy="268.72" r="1.0" class="dc"/>
<circle cx="434.25" cy="268.72" r="1.0" class="dc"/>
<circle cx="440.8" cy="268.72" r="1.0" class="dc"/>
<circle cx="447.78" cy="268.72" r="1.0" class="dc"/>
<circle cx="420.73" cy="272.47" r="1.0" class="dc"/>
<circle cx="420.73" cy="275.52" r="1.0" class="dc"/>
<circle cx="420.73" cy="278.58" r="1.0" class="dc"/>
<circle cx="424.22" cy="271.6" r="1.0" class="dc"/>
<circle cx="427.53" cy="271.6" r="1.0" class="dc"/>
<circle cx="430.76" cy="272.9" r="1.0" class="dc"/>
<circle cx="427.53" cy="273.78" r="1.0" class="dc"/>
<circle cx="427.53" cy="275.96" r="1.0" class="dc"/>
<circle cx="437.48" cy="271.16" r="1.0" class="dc"/>
<circle cx="437.48" cy="273.34" r="1.0" class="dc"/>
<circle cx="437.48" cy="275.52" r="1.0" class="dc"/>
<circle cx="437.48" cy="277.7" r="1.0" class="dc"/>
<circle cx="437.48" cy="279.88" r="1.0" class="dc"/>
<circle cx="440.8" cy="272.47" r="1.0" class="dc"/>
<circle cx="444.11" cy="271.6" r="1.0" class="dc"/>
<circle cx="447.34" cy="269.85" r="1.0" class="dc"/>
<circle cx="444.11" cy="276.83" r="1.0" class="dc"/>
<circle cx="440.8" cy="278.14" r="1.0" class="dc"/>
<circle cx="440.8" cy="280.32" r="1.0" class="dc"/>
<circle cx="427.53" cy="281.19" r="1.0" class="dc"/>
<circle cx="430.76" cy="280.32" r="1.0" class="dc"/>
<circle cx="430.76" cy="282.5" r="1.0" class="dc"/>
<circle cx="430.76" cy="285.12" r="1.0" class="dc"/>
<circle cx="434.25" cy="281.19" r="1.0" class="dc"/>
<circle cx="434.25" cy="283.38" r="1.0" class="dc"/>
<circle cx="430.76" cy="287.3" r="1.0" class="dc"/>
<circle cx="434.25" cy="288.17" r="1.0" class="dc"/>
<circle cx="432.42" cy="290.36" r="1.0" class="dc"/>
<circle cx="480.44" cy="251.46" r="1.0" class="da"/>
<circle cx="480.44" cy="255.95" r="1.0" class="da"/>
<circle cx="480.44" cy="261.93" r="1.0" class="da"/>
<circle cx="480.44" cy="263.72" r="1.0" class="da"/>
<circle cx="475.45" cy="269.41" r="1.0" class="da"/>
<circle cx="478.44" cy="270.9" r="1.0" class="da"/>
<circle cx="481.93" cy="270.9" r="1.0" class="da"/>
<circle cx="478.44" cy="272.9" r="1.0" class="da"/>
<circle cx="481.93" cy="272.9" r="1.0" class="da"/>
<circle cx="485.42" cy="272.9" r="1.0" class="da"/>
<circle cx="478.44" cy="278.38" r="1.0" class="da"/>
<circle cx="478.44" cy="280.87" r="1.0" class="da"/>
<circle cx="481.93" cy="277.88" r="1.0" class="da"/>
<circle cx="481.93" cy="280.37" r="1.0" class="da"/>
<circle cx="481.93" cy="281.87" r="1.0" class="da"/>
<circle cx="475.45" cy="283.86" r="1.0" class="da"/>
<circle cx="485.42" cy="284.36" r="1.0" class="da"/>
<circle cx="488.91" cy="282.37" r="1.0" class="da"/>
<circle cx="491.9" cy="284.86" r="1.0" class="da"/>
<circle cx="468.97" cy="285.86" r="1.0" class="da"/>
<circle cx="471.96" cy="286.35" r="1.0" class="da"/>
<circle cx="471.96" cy="288.35" r="1.0" class="da"/>
<circle cx="487.92" cy="288.35" r="1.0" class="da"/>
<circle cx="492.9" cy="288.35" r="1.0" class="da"/>
<circle cx="475.45" cy="288.85" r="1.0" class="da"/>
<circle cx="475.45" cy="290.84" r="1.0" class="da"/>
<circle cx="475.45" cy="292.84" r="1.0" class="da"/>
<circle cx="475.45" cy="294.83" r="1.0" class="da"/>
<circle cx="478.44" cy="287.35" r="1.0" class="da"/>
<circle cx="478.44" cy="290.34" r="1.0" class="da"/>
<circle cx="478.44" cy="293.33" r="1.0" class="da"/>
<circle cx="481.93" cy="289.84" r="1.0" class="da"/>
<circle cx="481.93" cy="292.34" r="1.0" class="da"/>
<circle cx="485.42" cy="287.85" r="1.0" class="da"/>
<circle cx="485.42" cy="290.34" r="1.0" class="da"/>
<circle cx="485.42" cy="292.84" r="1.0" class="da"/>
<circle cx="471.96" cy="296.82" r="1.0" class="da"/>
<circle cx="488.91" cy="296.82" r="1.0" class="da"/>
<circle cx="465.48" cy="298.42" r="1.0" class="da"/>
<circle cx="468.47" cy="298.42" r="1.0" class="da"/>
<circle cx="471.47" cy="298.42" r="1.0" class="da"/>
<circle cx="474.46" cy="298.42" r="1.0" class="da"/>
<circle cx="477.45" cy="298.42" r="1.0" class="da"/>
<circle cx="480.44" cy="298.42" r="1.0" class="da"/>
<circle cx="483.93" cy="298.42" r="1.0" class="da"/>
<circle cx="486.92" cy="298.42" r="1.0" class="da"/>
<circle cx="489.91" cy="298.42" r="1.0" class="da"/>
<circle cx="492.9" cy="298.42" r="1.0" class="da"/>
<circle cx="495.89" cy="298.42" r="1.0" class="da"/>
<circle cx="86.24" cy="393.09" r="1.0" class="dc"/>
<circle cx="84.76" cy="398.32" r="1.0" class="dc"/>
<circle cx="87.82" cy="397.89" r="1.0" class="dc"/>
<circle cx="84.76" cy="405.13" r="1.0" class="dc"/>
<circle cx="84.76" cy="407.92" r="1.0" class="dc"/>
<circle cx="87.82" cy="406.61" r="1.0" class="dc"/>
<circle cx="87.82" cy="412.46" r="1.0" class="dc"/>
<circle cx="84.76" cy="414.47" r="1.0" class="dc"/>
<circle cx="79.53" cy="415.34" r="1.0" class="dc"/>
<circle cx="82.14" cy="416.21" r="1.0" class="dc"/>
<circle cx="90.43" cy="414.73" r="1.0" class="dc"/>
<circle cx="93.49" cy="415.78" r="1.0" class="dc"/>
<circle cx="76.47" cy="418.13" r="1.0" class="dc"/>
<circle cx="96.1" cy="418.13" r="1.0" class="dc"/>
<circle cx="79.53" cy="420.14" r="1.0" class="dc"/>
<circle cx="82.14" cy="420.14" r="1.0" class="dc"/>
<circle cx="90.43" cy="420.14" r="1.0" class="dc"/>
<circle cx="93.49" cy="420.14" r="1.0" class="dc"/>
<circle cx="84.76" cy="421.88" r="1.0" class="dc"/>
<circle cx="87.82" cy="421.88" r="1.0" class="dc"/>
<circle cx="79.53" cy="422.76" r="1.0" class="dc"/>
<circle cx="93.49" cy="422.76" r="1.0" class="dc"/>
<circle cx="82.14" cy="424.94" r="1.0" class="dc"/>
<circle cx="73.42" cy="427.12" r="1.0" class="dc"/>
<circle cx="76.47" cy="427.12" r="1.0" class="dc"/>
<circle cx="79.53" cy="427.12" r="1.0" class="dc"/>
<circle cx="84.76" cy="427.12" r="1.0" class="dc"/>
<circle cx="87.82" cy="427.12" r="1.0" class="dc"/>
<circle cx="90.43" cy="427.12" r="1.0" class="dc"/>
<circle cx="93.49" cy="427.12" r="1.0" class="dc"/>
<circle cx="96.1" cy="427.12" r="1.0" class="dc"/>
<circle cx="99.16" cy="427.12" r="1.0" class="dc"/>
<circle cx="82.16" cy="428.08" r="1.0" class="dc"/>
<circle cx="85.39" cy="428.08" r="1.0" class="dc"/>
<circle cx="90.23" cy="428.89" r="1.0" class="dc"/>
<circle cx="76.5" cy="434.14" r="1.0" class="dc"/>
<circle cx="79.33" cy="432.92" r="1.0" class="dc"/>
<circle cx="82.16" cy="432.92" r="1.0" class="dc"/>
<circle cx="85.39" cy="432.92" r="1.0" class="dc"/>
<circle cx="95.89" cy="432.12" r="1.0" class="dc"/>
<circle cx="90.23" cy="433.73" r="1.0" class="dc"/>
<circle cx="82.16" cy="438.17" r="1.0" class="dc"/>
<circle cx="84.98" cy="437.37" r="1.0" class="dc"/>
<circle cx="87.81" cy="437.37" r="1.0" class="dc"/>
<circle cx="90.23" cy="436.96" r="1.0" class="dc"/>
<circle cx="93.06" cy="436.96" r="1.0" class="dc"/>
<circle cx="84.98" cy="440.19" r="1.0" class="dc"/>
<circle cx="82.16" cy="443.42" r="1.0" class="dc"/>
<circle cx="87.81" cy="443.42" r="1.0" class="dc"/>
<circle cx="84.98" cy="444.23" r="1.0" class="dc"/>
<circle cx="90.23" cy="443.02" r="1.0" class="dc"/>
<circle cx="90.23" cy="445.04" r="1.0" class="dc"/>
<circle cx="86.19" cy="450.29" r="1.0" class="dc"/>
<circle cx="134.4" cy="459.8" r="1.0" class="da"/>
<circle cx="134.3" cy="359.6" r="1.0" class="da"/>
<circle cx="134.3" cy="381.4" r="1.0" class="da"/>
<circle cx="134.3" cy="390" r="1.0" class="da"/>
<circle cx="132.76" cy="407.85" r="1.0" class="da"/>
<circle cx="136.25" cy="407.68" r="1.0" class="da"/>
<circle cx="134.33" cy="411.78" r="1.0" class="da"/>
<circle cx="136.25" cy="414.4" r="1.0" class="da"/>
<circle cx="132.76" cy="416.14" r="1.0" class="da"/>
<circle cx="132.76" cy="418.32" r="1.0" class="da"/>
<circle cx="136.25" cy="417.89" r="1.0" class="da"/>
<circle cx="132.76" cy="420.94" r="1.0" class="da"/>
<circle cx="136.25" cy="422.51" r="1.0" class="da"/>
<circle cx="134.33" cy="425.31" r="1.0" class="da"/>
<circle cx="129.71" cy="427.05" r="1.0" class="da"/>
<circle cx="126.22" cy="428.36" r="1.0" class="da"/>
<circle cx="136.25" cy="427.92" r="1.0" class="da"/>
<circle cx="119.67" cy="429.49" r="1.0" class="da"/>
<circle cx="139.31" cy="429.84" r="1.0" class="da"/>
<circle cx="122.73" cy="432.29" r="1.0" class="da"/>
<circle cx="129.71" cy="432.29" r="1.0" class="da"/>
<circle cx="136.25" cy="432.29" r="1.0" class="da"/>
<circle cx="142.36" cy="432.29" r="1.0" class="da"/>
<circle cx="146.29" cy="432.29" r="1.0" class="da"/>
<circle cx="126.22" cy="431.41" r="1.0" class="da"/>
<circle cx="132.76" cy="431.41" r="1.0" class="da"/>
<circle cx="149.34" cy="430.54" r="1.0" class="da"/>
<circle cx="122.73" cy="434.47" r="1.0" class="da"/>
<circle cx="126.22" cy="434.47" r="1.0" class="da"/>
<circle cx="129.71" cy="434.47" r="1.0" class="da"/>
<circle cx="134.33" cy="434.47" r="1.0" class="da"/>
<circle cx="142.36" cy="434.47" r="1.0" class="da"/>
<circle cx="139.31" cy="434.9" r="1.0" class="da"/>
<circle cx="129.71" cy="437.52" r="1.0" class="da"/>
<circle cx="139.31" cy="437.52" r="1.0" class="da"/>
<circle cx="132.76" cy="438.39" r="1.0" class="da"/>
<circle cx="136.25" cy="438.39" r="1.0" class="da"/>
<circle cx="132.76" cy="440.58" r="1.0" class="da"/>
<circle cx="129.71" cy="444.5" r="1.0" class="da"/>
<circle cx="132.76" cy="444.94" r="1.0" class="da"/>
<circle cx="136.25" cy="445.38" r="1.0" class="da"/>
<circle cx="139.31" cy="443.19" r="1.0" class="da"/>
<circle cx="142.36" cy="443.63" r="1.0" class="da"/>
<circle cx="262.3" cy="423" r="1.0" class="dc"/>
<circle cx="262.3" cy="431.4" r="1.0" class="dc"/>
<circle cx="260.8" cy="436.5" r="1.0" class="dc"/>
<circle cx="263.7" cy="436.7" r="1.0" class="dc"/>
<circle cx="252" cy="440.8" r="1.0" class="dc"/>
<circle cx="255" cy="440.8" r="1.0" class="dc"/>
<circle cx="258" cy="440.8" r="1.0" class="dc"/>
<circle cx="261" cy="440.8" r="1.0" class="dc"/>
<circle cx="264" cy="440.8" r="1.0" class="dc"/>
<circle cx="267" cy="440.8" r="1.0" class="dc"/>
<circle cx="270" cy="440.8" r="1.0" class="dc"/>
<circle cx="273" cy="440.8" r="1.0" class="dc"/>
<circle cx="249" cy="443.6" r="1.0" class="dc"/>
<circle cx="252" cy="443.6" r="1.0" class="dc"/>
<circle cx="255" cy="443.6" r="1.0" class="dc"/>
<circle cx="258" cy="443.6" r="1.0" class="dc"/>
<circle cx="261" cy="443.6" r="1.0" class="dc"/>
<circle cx="264" cy="443.6" r="1.0" class="dc"/>
<circle cx="267" cy="443.6" r="1.0" class="dc"/>
<circle cx="270" cy="443.6" r="1.0" class="dc"/>
<circle cx="273" cy="443.6" r="1.0" class="dc"/>
<circle cx="276" cy="443.6" r="1.0" class="dc"/>
<circle cx="247.5" cy="445.5" r="1.0" class="dc"/>
<circle cx="250.5" cy="445.5" r="1.0" class="dc"/>
<circle cx="253.5" cy="445.5" r="1.0" class="dc"/>
<circle cx="256.5" cy="445.5" r="1.0" class="dc"/>
<circle cx="259.5" cy="445.5" r="1.0" class="dc"/>
<circle cx="262.5" cy="445.5" r="1.0" class="dc"/>
<circle cx="265.5" cy="445.5" r="1.0" class="dc"/>
<circle cx="268.5" cy="445.5" r="1.0" class="dc"/>
<circle cx="271.5" cy="445.5" r="1.0" class="dc"/>
<circle cx="274.5" cy="445.5" r="1.0" class="dc"/>
<circle cx="277.5" cy="445.5" r="1.0" class="dc"/>
<circle cx="247" cy="447.3" r="1.0" class="dc"/>
<circle cx="250.1" cy="447.3" r="1.0" class="dc"/>
<circle cx="253.2" cy="447.3" r="1.0" class="dc"/>
<circle cx="256.3" cy="447.3" r="1.0" class="dc"/>
<circle cx="259.4" cy="447.3" r="1.0" class="dc"/>
<circle cx="262.5" cy="447.3" r="1.0" class="dc"/>
<circle cx="265.6" cy="447.3" r="1.0" class="dc"/>
<circle cx="268.7" cy="447.3" r="1.0" class="dc"/>
<circle cx="271.8" cy="447.3" r="1.0" class="dc"/>
<circle cx="274.9" cy="447.3" r="1.0" class="dc"/>
<circle cx="278" cy="447.3" r="1.0" class="dc"/>
<circle cx="248" cy="449.2" r="1.0" class="dc"/>
<circle cx="251.22" cy="449.2" r="1.0" class="dc"/>
<circle cx="254.44" cy="449.2" r="1.0" class="dc"/>
<circle cx="257.67" cy="449.2" r="1.0" class="dc"/>
<circle cx="260.89" cy="449.2" r="1.0" class="dc"/>
<circle cx="264.11" cy="449.2" r="1.0" class="dc"/>
<circle cx="267.33" cy="449.2" r="1.0" class="dc"/>
<circle cx="270.56" cy="449.2" r="1.0" class="dc"/>
<circle cx="273.78" cy="449.2" r="1.0" class="dc"/>
<circle cx="277" cy="449.2" r="1.0" class="dc"/>
<circle cx="249" cy="451" r="1.0" class="dc"/>
<circle cx="252" cy="451" r="1.0" class="dc"/>
<circle cx="255" cy="451" r="1.0" class="dc"/>
<circle cx="258" cy="451" r="1.0" class="dc"/>
<circle cx="261" cy="451" r="1.0" class="dc"/>
<circle cx="264" cy="451" r="1.0" class="dc"/>
<circle cx="267" cy="451" r="1.0" class="dc"/>
<circle cx="270" cy="451" r="1.0" class="dc"/>
<circle cx="273" cy="451" r="1.0" class="dc"/>
<circle cx="276" cy="451" r="1.0" class="dc"/>
<circle cx="252" cy="452.8" r="1.0" class="dc"/>
<circle cx="255.33" cy="452.8" r="1.0" class="dc"/>
<circle cx="258.67" cy="452.8" r="1.0" class="dc"/>
<circle cx="262" cy="452.8" r="1.0" class="dc"/>
<circle cx="265.33" cy="452.8" r="1.0" class="dc"/>
<circle cx="268.67" cy="452.8" r="1.0" class="dc"/>
<circle cx="272" cy="452.8" r="1.0" class="dc"/>
<circle cx="257" cy="455" r="1.0" class="dc"/>
<circle cx="260.67" cy="455" r="1.0" class="dc"/>
<circle cx="264.33" cy="455" r="1.0" class="dc"/>
<circle cx="268" cy="455" r="1.0" class="dc"/>
<circle cx="261.5" cy="457.6" r="1.0" class="dc"/>
<circle cx="310.4" cy="383.2" r="1.0" class="da"/>
<circle cx="310.4" cy="415.5" r="1.0" class="da"/>
<circle cx="310.4" cy="421.1" r="1.0" class="da"/>
<circle cx="307.9" cy="425.3" r="1.0" class="da"/>
<circle cx="310.4" cy="427.3" r="1.0" class="da"/>
<circle cx="307.9" cy="429.6" r="1.0" class="da"/>
<circle cx="310.4" cy="430.4" r="1.0" class="da"/>
<circle cx="313" cy="431.7" r="1.0" class="da"/>
<circle cx="307.35" cy="438.77" r="1.0" class="da"/>
<circle cx="313.56" cy="438.77" r="1.0" class="da"/>
<circle cx="310.64" cy="440.82" r="1.0" class="da"/>
<circle cx="295.29" cy="443.16" r="1.0" class="da"/>
<circle cx="298.21" cy="443.16" r="1.0" class="da"/>
<circle cx="301.14" cy="443.16" r="1.0" class="da"/>
<circle cx="304.06" cy="443.16" r="1.0" class="da"/>
<circle cx="307.35" cy="443.16" r="1.0" class="da"/>
<circle cx="310.64" cy="443.16" r="1.0" class="da"/>
<circle cx="313.56" cy="443.16" r="1.0" class="da"/>
<circle cx="316.49" cy="443.16" r="1.0" class="da"/>
<circle cx="319.41" cy="443.16" r="1.0" class="da"/>
<circle cx="322.34" cy="443.16" r="1.0" class="da"/>
<circle cx="325.63" cy="443.16" r="1.0" class="da"/>
<circle cx="298.58" cy="445.35" r="1.0" class="da"/>
<circle cx="304.43" cy="445.35" r="1.0" class="da"/>
<circle cx="316.85" cy="445.35" r="1.0" class="da"/>
<circle cx="322.7" cy="445.35" r="1.0" class="da"/>
<circle cx="295.29" cy="447.54" r="1.0" class="da"/>
<circle cx="301.5" cy="447.54" r="1.0" class="da"/>
<circle cx="304.06" cy="447.54" r="1.0" class="da"/>
<circle cx="307.35" cy="447.54" r="1.0" class="da"/>
<circle cx="310.64" cy="447.54" r="1.0" class="da"/>
<circle cx="313.56" cy="447.54" r="1.0" class="da"/>
<circle cx="316.85" cy="447.54" r="1.0" class="da"/>
<circle cx="319.78" cy="447.54" r="1.0" class="da"/>
<circle cx="325.63" cy="447.54" r="1.0" class="da"/>
<circle cx="301.5" cy="449.37" r="1.0" class="da"/>
<circle cx="304.06" cy="449.37" r="1.0" class="da"/>
<circle cx="307.35" cy="449.37" r="1.0" class="da"/>
<circle cx="310.64" cy="449.37" r="1.0" class="da"/>
<circle cx="313.93" cy="449.37" r="1.0" class="da"/>
<circle cx="316.85" cy="449.37" r="1.0" class="da"/>
<circle cx="301.14" cy="450.83" r="1.0" class="da"/>
<circle cx="317.22" cy="450.83" r="1.0" class="da"/>
<circle cx="310.64" cy="451.93" r="1.0" class="da"/>
<circle cx="313.93" cy="451.93" r="1.0" class="da"/>
<circle cx="307.35" cy="453.39" r="1.0" class="da"/>
<circle cx="304.43" cy="454.85" r="1.0" class="da"/>
<circle cx="310.27" cy="454.85" r="1.0" class="da"/>
<circle cx="313.56" cy="454.85" r="1.0" class="da"/>
<circle cx="316.85" cy="454.85" r="1.0" class="da"/>
<circle cx="310.27" cy="455.95" r="1.0" class="da"/>
<circle cx="310.64" cy="459.61" r="1.0" class="da"/>
<circle cx="432.6" cy="368.2" r="1.0" class="dc"/>
<circle cx="432.6" cy="379.3" r="1.0" class="dc"/>
<circle cx="432.6" cy="390.4" r="1.0" class="dc"/>
<circle cx="429.39" cy="403.86" r="1.0" class="dc"/>
<circle cx="435.67" cy="403.86" r="1.0" class="dc"/>
<circle cx="432.48" cy="404.83" r="1.0" class="dc"/>
<circle cx="432.48" cy="406.76" r="1.0" class="dc"/>
<circle cx="432.48" cy="409.18" r="1.0" class="dc"/>
<circle cx="430.84" cy="412.08" r="1.0" class="dc"/>
<circle cx="434.22" cy="412.08" r="1.0" class="dc"/>
<circle cx="429.39" cy="414.98" r="1.0" class="dc"/>
<circle cx="435.67" cy="414.98" r="1.0" class="dc"/>
<circle cx="439.05" cy="414.98" r="1.0" class="dc"/>
<circle cx="432.48" cy="417.39" r="1.0" class="dc"/>
<circle cx="426.49" cy="426.09" r="1.0" class="dc"/>
<circle cx="429.39" cy="426.09" r="1.0" class="dc"/>
<circle cx="435.67" cy="426.09" r="1.0" class="dc"/>
<circle cx="423.59" cy="428.99" r="1.0" class="dc"/>
<circle cx="426.49" cy="428.99" r="1.0" class="dc"/>
<circle cx="429.39" cy="428.99" r="1.0" class="dc"/>
<circle cx="435.67" cy="428.99" r="1.0" class="dc"/>
<circle cx="435.67" cy="430.92" r="1.0" class="dc"/>
<circle cx="432.48" cy="427.83" r="1.0" class="dc"/>
<circle cx="417.8" cy="432.66" r="1.0" class="dc"/>
<circle cx="423.59" cy="432.66" r="1.0" class="dc"/>
<circle cx="429.39" cy="432.66" r="1.0" class="dc"/>
<circle cx="435.67" cy="432.66" r="1.0" class="dc"/>
<circle cx="441.95" cy="432.66" r="1.0" class="dc"/>
<circle cx="447.75" cy="432.66" r="1.0" class="dc"/>
<circle cx="423.59" cy="435.75" r="1.0" class="dc"/>
<circle cx="426.49" cy="435.75" r="1.0" class="dc"/>
<circle cx="439.05" cy="435.75" r="1.0" class="dc"/>
<circle cx="420.7" cy="437.2" r="1.0" class="dc"/>
<circle cx="420.7" cy="439.13" r="1.0" class="dc"/>
<circle cx="429.39" cy="439.13" r="1.0" class="dc"/>
<circle cx="435.67" cy="439.13" r="1.0" class="dc"/>
<circle cx="439.05" cy="439.13" r="1.0" class="dc"/>
<circle cx="444.85" cy="439.13" r="1.0" class="dc"/>
<circle cx="426.49" cy="437.68" r="1.0" class="dc"/>
<circle cx="441.95" cy="439.61" r="1.0" class="dc"/>
<circle cx="432.48" cy="443.48" r="1.0" class="dc"/>
<circle cx="432.48" cy="445.41" r="1.0" class="dc"/>
<circle cx="435.67" cy="445.41" r="1.0" class="dc"/>
<circle cx="429.39" cy="446.86" r="1.0" class="dc"/>
<circle cx="430.84" cy="448.31" r="1.0" class="dc"/>
<circle cx="434.22" cy="448.31" r="1.0" class="dc"/>
<circle cx="429.39" cy="452.17" r="1.0" class="dc"/>
<circle cx="432.48" cy="452.17" r="1.0" class="dc"/>
<circle cx="435.67" cy="452.17" r="1.0" class="dc"/>
<circle cx="429.39" cy="455.56" r="1.0" class="dc"/>
<circle cx="429.39" cy="457" r="1.0" class="dc"/>
<circle cx="432.48" cy="457" r="1.0" class="dc"/>
<circle cx="435.67" cy="457" r="1.0" class="dc"/>
<circle cx="480.61" cy="407.25" r="1.0" class="da"/>
<circle cx="480.61" cy="410.85" r="1.0" class="da"/>
<circle cx="480.61" cy="424.21" r="1.0" class="da"/>
<circle cx="480.61" cy="426.26" r="1.0" class="da"/>
<circle cx="480.61" cy="428.32" r="1.0" class="da"/>
<circle cx="478.55" cy="430.89" r="1.0" class="da"/>
<circle cx="482.67" cy="431.4" r="1.0" class="da"/>
<circle cx="478.55" cy="432.94" r="1.0" class="da"/>
<circle cx="477.01" cy="434.49" r="1.0" class="da"/>
<circle cx="475.47" cy="436.54" r="1.0" class="da"/>
<circle cx="478.55" cy="438.08" r="1.0" class="da"/>
<circle cx="483.69" cy="437.57" r="1.0" class="da"/>
<circle cx="477.01" cy="440.14" r="1.0" class="da"/>
<circle cx="480.1" cy="441.17" r="1.0" class="da"/>
<circle cx="477.01" cy="443.73" r="1.0" class="da"/>
<circle cx="483.69" cy="442.71" r="1.0" class="da"/>
<circle cx="483.69" cy="445.28" r="1.0" class="da"/>
<circle cx="478.55" cy="446.3" r="1.0" class="da"/>
<circle cx="488.83" cy="449.9" r="1.0" class="da"/>
<circle cx="475.47" cy="450.42" r="1.0" class="da"/>
<circle cx="485.24" cy="450.42" r="1.0" class="da"/>
<circle cx="481.64" cy="450.93" r="1.0" class="da"/>
<circle cx="475.47" cy="453.5" r="1.0" class="da"/>
<circle cx="480.1" cy="453.5" r="1.0" class="da"/>
<circle cx="485.24" cy="453.5" r="1.0" class="da"/>
<circle cx="480.1" cy="455.55" r="1.0" class="da"/>
<circle cx="467.25" cy="459.46" r="1.0" class="da"/>
<circle cx="469.82" cy="459.46" r="1.0" class="da"/>
<circle cx="472.39" cy="459.46" r="1.0" class="da"/>
<circle cx="474.96" cy="459.46" r="1.0" class="da"/>
<circle cx="477.53" cy="459.46" r="1.0" class="da"/>
<circle cx="480.1" cy="459.46" r="1.0" class="da"/>
<circle cx="482.67" cy="459.46" r="1.0" class="da"/>
<circle cx="485.24" cy="459.46" r="1.0" class="da"/>
<circle cx="487.8" cy="459.46" r="1.0" class="da"/>
<circle cx="490.37" cy="459.46" r="1.0" class="da"/>
<circle cx="492.94" cy="459.46" r="1.0" class="da"/>
<circle cx="495" cy="459.46" r="1.0" class="da"/>
<circle cx="86.29" cy="558.21" r="1.0" class="dc"/>
<circle cx="84.84" cy="562.08" r="1.0" class="dc"/>
<circle cx="88.03" cy="562.56" r="1.0" class="dc"/>
<circle cx="86.29" cy="568.36" r="1.0" class="dc"/>
<circle cx="86.29" cy="570.29" r="1.0" class="dc"/>
<circle cx="84.84" cy="602.66" r="1.0" class="dc"/>
<circle cx="81.94" cy="605.56" r="1.0" class="dc"/>
<circle cx="90.64" cy="605.56" r="1.0" class="dc"/>
<circle cx="93.54" cy="605.56" r="1.0" class="dc"/>
<circle cx="84.84" cy="606.04" r="1.0" class="dc"/>
<circle cx="88.22" cy="606.52" r="1.0" class="dc"/>
<circle cx="86.29" cy="611.35" r="1.0" class="dc"/>
<circle cx="86.35" cy="570.65" r="1.0" class="dc"/>
<circle cx="87.66" cy="575.89" r="1.0" class="dc"/>
<circle cx="90.6" cy="574.25" r="1.0" class="dc"/>
<circle cx="76.54" cy="578.5" r="1.0" class="dc"/>
<circle cx="79.16" cy="579.16" r="1.0" class="dc"/>
<circle cx="82.1" cy="577.52" r="1.0" class="dc"/>
<circle cx="93.22" cy="577.85" r="1.0" class="dc"/>
<circle cx="96.16" cy="579.81" r="1.0" class="dc"/>
<circle cx="79.16" cy="580.79" r="1.0" class="dc"/>
<circle cx="82.1" cy="580.79" r="1.0" class="dc"/>
<circle cx="90.27" cy="580.79" r="1.0" class="dc"/>
<circle cx="93.22" cy="581.45" r="1.0" class="dc"/>
<circle cx="79.16" cy="584.06" r="1.0" class="dc"/>
<circle cx="82.1" cy="584.06" r="1.0" class="dc"/>
<circle cx="85.04" cy="584.06" r="1.0" class="dc"/>
<circle cx="90.27" cy="584.06" r="1.0" class="dc"/>
<circle cx="87.66" cy="585.7" r="1.0" class="dc"/>
<circle cx="96.16" cy="585.7" r="1.0" class="dc"/>
<circle cx="93.22" cy="583.41" r="1.0" class="dc"/>
<circle cx="96.16" cy="587.33" r="1.0" class="dc"/>
<circle cx="73.6" cy="589.42" r="1.0" class="dc"/>
<circle cx="76.54" cy="589.42" r="1.0" class="dc"/>
<circle cx="79.48" cy="589.42" r="1.0" class="dc"/>
<circle cx="82.1" cy="589.42" r="1.0" class="dc"/>
<circle cx="87.66" cy="589.42" r="1.0" class="dc"/>
<circle cx="93.22" cy="589.42" r="1.0" class="dc"/>
<circle cx="98.78" cy="589.42" r="1.0" class="dc"/>
<circle cx="79.48" cy="591.58" r="1.0" class="dc"/>
<circle cx="82.1" cy="591.26" r="1.0" class="dc"/>
<circle cx="93.22" cy="591.26" r="1.0" class="dc"/>
<circle cx="90.27" cy="590.93" r="1.0" class="dc"/>
<circle cx="79.48" cy="594.53" r="1.0" class="dc"/>
<circle cx="82.1" cy="594.85" r="1.0" class="dc"/>
<circle cx="90.27" cy="594.85" r="1.0" class="dc"/>
<circle cx="93.22" cy="595.18" r="1.0" class="dc"/>
<circle cx="96.16" cy="595.83" r="1.0" class="dc"/>
<circle cx="76.54" cy="596.16" r="1.0" class="dc"/>
<circle cx="79.48" cy="599.76" r="1.0" class="dc"/>
<circle cx="82.1" cy="599.43" r="1.0" class="dc"/>
<circle cx="85.04" cy="599.1" r="1.0" class="dc"/>
<circle cx="87.66" cy="598.78" r="1.0" class="dc"/>
<circle cx="90.27" cy="598.12" r="1.0" class="dc"/>
<circle cx="93.22" cy="598.12" r="1.0" class="dc"/>
<circle cx="85.04" cy="602.05" r="1.0" class="dc"/>
<circle cx="93.22" cy="600.41" r="1.0" class="dc"/>
<circle cx="134.6" cy="620.6" r="1.0" class="da"/>
<circle cx="134.6" cy="525.6" r="1.0" class="da"/>
<circle cx="134.6" cy="547" r="1.0" class="da"/>
<circle cx="134.6" cy="553.4" r="1.0" class="da"/>
<circle cx="132.97" cy="572.13" r="1.0" class="da"/>
<circle cx="136.13" cy="570.5" r="1.0" class="da"/>
<circle cx="134.78" cy="575.29" r="1.0" class="da"/>
<circle cx="130.26" cy="578" r="1.0" class="da"/>
<circle cx="132.97" cy="578.45" r="1.0" class="da"/>
<circle cx="135.68" cy="578.45" r="1.0" class="da"/>
<circle cx="132.97" cy="582.97" r="1.0" class="da"/>
<circle cx="135.68" cy="582.52" r="1.0" class="da"/>
<circle cx="135.68" cy="585.68" r="1.0" class="da"/>
<circle cx="130.26" cy="587.94" r="1.0" class="da"/>
<circle cx="135.68" cy="588.39" r="1.0" class="da"/>
<circle cx="128" cy="590.65" r="1.0" class="da"/>
<circle cx="128" cy="592" r="1.0" class="da"/>
<circle cx="130.26" cy="591.1" r="1.0" class="da"/>
<circle cx="138.39" cy="592.46" r="1.0" class="da"/>
<circle cx="141.1" cy="591.55" r="1.0" class="da"/>
<circle cx="121.23" cy="594.71" r="1.0" class="da"/>
<circle cx="124.84" cy="594.71" r="1.0" class="da"/>
<circle cx="128.91" cy="594.71" r="1.0" class="da"/>
<circle cx="132.07" cy="594.71" r="1.0" class="da"/>
<circle cx="135.68" cy="594.71" r="1.0" class="da"/>
<circle cx="138.39" cy="594.71" r="1.0" class="da"/>
<circle cx="141.1" cy="594.71" r="1.0" class="da"/>
<circle cx="144.71" cy="594.71" r="1.0" class="da"/>
<circle cx="147.88" cy="594.71" r="1.0" class="da"/>
<circle cx="127.55" cy="597.88" r="1.0" class="da"/>
<circle cx="130.26" cy="597.88" r="1.0" class="da"/>
<circle cx="135.68" cy="597.88" r="1.0" class="da"/>
<circle cx="138.39" cy="597.88" r="1.0" class="da"/>
<circle cx="132.97" cy="596.97" r="1.0" class="da"/>
<circle cx="127.55" cy="600.13" r="1.0" class="da"/>
<circle cx="130.26" cy="600.13" r="1.0" class="da"/>
<circle cx="135.68" cy="600.13" r="1.0" class="da"/>
<circle cx="138.39" cy="600.13" r="1.0" class="da"/>
<circle cx="132.97" cy="601.04" r="1.0" class="da"/>
<circle cx="132.97" cy="603.3" r="1.0" class="da"/>
<circle cx="132.97" cy="604.65" r="1.0" class="da"/>
<circle cx="130.26" cy="606.01" r="1.0" class="da"/>
<circle cx="132.97" cy="606.46" r="1.0" class="da"/>
<circle cx="135.68" cy="606.46" r="1.0" class="da"/>
<circle cx="138.39" cy="606.91" r="1.0" class="da"/>
<circle cx="141.1" cy="605.1" r="1.0" class="da"/>
<circle cx="262.3" cy="537" r="1.0" class="dc"/>
<circle cx="262.3" cy="548.2" r="1.0" class="dc"/>
<circle cx="260.4" cy="558" r="1.0" class="dc"/>
<circle cx="264.4" cy="558" r="1.0" class="dc"/>
<circle cx="260.4" cy="564.8" r="1.0" class="dc"/>
<circle cx="264.4" cy="563.8" r="1.0" class="dc"/>
<circle cx="255" cy="573" r="1.0" class="dc"/>
<circle cx="255" cy="576.2" r="1.0" class="dc"/>
<circle cx="258.9" cy="574.6" r="1.0" class="dc"/>
<circle cx="266.2" cy="574.6" r="1.0" class="dc"/>
<circle cx="270" cy="574.6" r="1.0" class="dc"/>
<circle cx="273.58" cy="581.74" r="1.0" class="dc"/>
<circle cx="273.58" cy="584.98" r="1.0" class="dc"/>
<circle cx="273.58" cy="587.41" r="1.0" class="dc"/>
<circle cx="251.31" cy="584.57" r="1.0" class="dc"/>
<circle cx="254.96" cy="583.36" r="1.0" class="dc"/>
<circle cx="254.96" cy="585.38" r="1.0" class="dc"/>
<circle cx="258.6" cy="582.96" r="1.0" class="dc"/>
<circle cx="258.6" cy="584.98" r="1.0" class="dc"/>
<circle cx="277.22" cy="584.98" r="1.0" class="dc"/>
<circle cx="258.6" cy="588.62" r="1.0" class="dc"/>
<circle cx="262.24" cy="588.62" r="1.0" class="dc"/>
<circle cx="269.94" cy="588.62" r="1.0" class="dc"/>
<circle cx="251.31" cy="589.84" r="1.0" class="dc"/>
<circle cx="266.29" cy="589.84" r="1.0" class="dc"/>
<circle cx="246.86" cy="592.02" r="1.0" class="dc"/>
<circle cx="251.31" cy="592.02" r="1.0" class="dc"/>
<circle cx="254.96" cy="592.02" r="1.0" class="dc"/>
<circle cx="258.6" cy="592.02" r="1.0" class="dc"/>
<circle cx="262.24" cy="592.02" r="1.0" class="dc"/>
<circle cx="266.29" cy="592.02" r="1.0" class="dc"/>
<circle cx="269.94" cy="592.02" r="1.0" class="dc"/>
<circle cx="273.58" cy="592.02" r="1.0" class="dc"/>
<circle cx="277.22" cy="592.02" r="1.0" class="dc"/>
<circle cx="247.67" cy="594.29" r="1.0" class="dc"/>
<circle cx="254.96" cy="594.29" r="1.0" class="dc"/>
<circle cx="262.24" cy="594.29" r="1.0" class="dc"/>
<circle cx="269.94" cy="594.29" r="1.0" class="dc"/>
<circle cx="277.22" cy="594.29" r="1.0" class="dc"/>
<circle cx="254.96" cy="595.91" r="1.0" class="dc"/>
<circle cx="258.6" cy="595.91" r="1.0" class="dc"/>
<circle cx="265.89" cy="595.91" r="1.0" class="dc"/>
<circle cx="247.67" cy="598.74" r="1.0" class="dc"/>
<circle cx="273.58" cy="598.74" r="1.0" class="dc"/>
<circle cx="277.22" cy="598.74" r="1.0" class="dc"/>
<circle cx="254.96" cy="598.5" r="1.0" class="dc"/>
<circle cx="258.6" cy="598.5" r="1.0" class="dc"/>
<circle cx="262.24" cy="598.5" r="1.0" class="dc"/>
<circle cx="266.29" cy="598.5" r="1.0" class="dc"/>
<circle cx="269.94" cy="598.5" r="1.0" class="dc"/>
<circle cx="254.96" cy="602.79" r="1.0" class="dc"/>
<circle cx="269.94" cy="602.79" r="1.0" class="dc"/>
<circle cx="262.24" cy="604.01" r="1.0" class="dc"/>
<circle cx="266.29" cy="604.01" r="1.0" class="dc"/>
<circle cx="254.96" cy="606.84" r="1.0" class="dc"/>
<circle cx="269.94" cy="606.84" r="1.0" class="dc"/>
<circle cx="258.6" cy="608.46" r="1.0" class="dc"/>
<circle cx="262.24" cy="608.46" r="1.0" class="dc"/>
<circle cx="265.89" cy="608.06" r="1.0" class="dc"/>
<circle cx="260.62" cy="612.51" r="1.0" class="dc"/>
<circle cx="264.27" cy="611.3" r="1.0" class="dc"/>
<circle cx="310.62" cy="534.12" r="1.0" class="da"/>
<circle cx="310.62" cy="539.73" r="1.0" class="da"/>
<circle cx="310.62" cy="558.24" r="1.0" class="da"/>
<circle cx="310.62" cy="564.97" r="1.0" class="da"/>
<circle cx="308.65" cy="571.7" r="1.0" class="da"/>
<circle cx="312.16" cy="571.7" r="1.0" class="da"/>
<circle cx="308.65" cy="574.37" r="1.0" class="da"/>
<circle cx="312.16" cy="574.37" r="1.0" class="da"/>
<circle cx="310.62" cy="579" r="1.0" class="da"/>
<circle cx="307.53" cy="581.8" r="1.0" class="da"/>
<circle cx="313.84" cy="581.8" r="1.0" class="da"/>
<circle cx="307.53" cy="584.61" r="1.0" class="da"/>
<circle cx="313.84" cy="586.01" r="1.0" class="da"/>
<circle cx="307.53" cy="590.92" r="1.0" class="da"/>
<circle cx="313.84" cy="590.22" r="1.0" class="da"/>
<circle cx="316.65" cy="591.62" r="1.0" class="da"/>
<circle cx="307.53" cy="593.72" r="1.0" class="da"/>
<circle cx="313.84" cy="593.72" r="1.0" class="da"/>
<circle cx="316.65" cy="595.13" r="1.0" class="da"/>
<circle cx="294.91" cy="597.51" r="1.0" class="da"/>
<circle cx="298.42" cy="597.51" r="1.0" class="da"/>
<circle cx="301.92" cy="597.51" r="1.0" class="da"/>
<circle cx="307.53" cy="597.51" r="1.0" class="da"/>
<circle cx="316.65" cy="597.51" r="1.0" class="da"/>
<circle cx="322.96" cy="597.51" r="1.0" class="da"/>
<circle cx="326.47" cy="597.51" r="1.0" class="da"/>
<circle cx="310.62" cy="596.53" r="1.0" class="da"/>
<circle cx="304.03" cy="600.74" r="1.0" class="da"/>
<circle cx="301.22" cy="601.44" r="1.0" class="da"/>
<circle cx="319.45" cy="601.44" r="1.0" class="da"/>
<circle cx="313.14" cy="600.04" r="1.0" class="da"/>
<circle cx="316.65" cy="600.04" r="1.0" class="da"/>
<circle cx="295.61" cy="604.24" r="1.0" class="da"/>
<circle cx="298.42" cy="604.24" r="1.0" class="da"/>
<circle cx="301.92" cy="604.24" r="1.0" class="da"/>
<circle cx="304.73" cy="604.24" r="1.0" class="da"/>
<circle cx="307.53" cy="604.24" r="1.0" class="da"/>
<circle cx="310.62" cy="604.24" r="1.0" class="da"/>
<circle cx="313.84" cy="604.24" r="1.0" class="da"/>
<circle cx="316.65" cy="604.24" r="1.0" class="da"/>
<circle cx="319.45" cy="604.24" r="1.0" class="da"/>
<circle cx="322.26" cy="604.24" r="1.0" class="da"/>
<circle cx="325.76" cy="604.24" r="1.0" class="da"/>
<circle cx="304.73" cy="606.35" r="1.0" class="da"/>
<circle cx="307.53" cy="606.35" r="1.0" class="da"/>
<circle cx="310.62" cy="605.65" r="1.0" class="da"/>
<circle cx="313.84" cy="605.65" r="1.0" class="da"/>
<circle cx="316.65" cy="604.94" r="1.0" class="da"/>
<circle cx="307.53" cy="609.15" r="1.0" class="da"/>
<circle cx="313.14" cy="609.15" r="1.0" class="da"/>
<circle cx="310.62" cy="608.45" r="1.0" class="da"/>
<circle cx="310.62" cy="610.83" r="1.0" class="da"/>
<circle cx="431.3" cy="563.7" r="1.0" class="dc"/>
<circle cx="434" cy="562" r="1.0" class="dc"/>
<circle cx="432.5" cy="568" r="1.0" class="dc"/>
<circle cx="423.6" cy="569" r="1.0" class="dc"/>
<circle cx="426" cy="569" r="1.0" class="dc"/>
<circle cx="432.5" cy="571" r="1.0" class="dc"/>
<circle cx="418" cy="572.2" r="1.0" class="dc"/>
<circle cx="421.22" cy="572.2" r="1.0" class="dc"/>
<circle cx="424.44" cy="572.2" r="1.0" class="dc"/>
<circle cx="427.67" cy="572.2" r="1.0" class="dc"/>
<circle cx="430.89" cy="572.2" r="1.0" class="dc"/>
<circle cx="434.11" cy="572.2" r="1.0" class="dc"/>
<circle cx="437.33" cy="572.2" r="1.0" class="dc"/>
<circle cx="440.56" cy="572.2" r="1.0" class="dc"/>
<circle cx="443.78" cy="572.2" r="1.0" class="dc"/>
<circle cx="447" cy="572.2" r="1.0" class="dc"/>
<circle cx="420" cy="573.8" r="1.0" class="dc"/>
<circle cx="423.12" cy="573.8" r="1.0" class="dc"/>
<circle cx="426.25" cy="573.8" r="1.0" class="dc"/>
<circle cx="429.38" cy="573.8" r="1.0" class="dc"/>
<circle cx="432.5" cy="573.8" r="1.0" class="dc"/>
<circle cx="435.62" cy="573.8" r="1.0" class="dc"/>
<circle cx="438.75" cy="573.8" r="1.0" class="dc"/>
<circle cx="441.88" cy="573.8" r="1.0" class="dc"/>
<circle cx="445" cy="573.8" r="1.0" class="dc"/>
<circle cx="417" cy="575.3" r="1.0" class="dc"/>
<circle cx="420.1" cy="575.3" r="1.0" class="dc"/>
<circle cx="423.2" cy="575.3" r="1.0" class="dc"/>
<circle cx="426.3" cy="575.3" r="1.0" class="dc"/>
<circle cx="429.4" cy="575.3" r="1.0" class="dc"/>
<circle cx="432.5" cy="575.3" r="1.0" class="dc"/>
<circle cx="435.6" cy="575.3" r="1.0" class="dc"/>
<circle cx="438.7" cy="575.3" r="1.0" class="dc"/>
<circle cx="441.8" cy="575.3" r="1.0" class="dc"/>
<circle cx="444.9" cy="575.3" r="1.0" class="dc"/>
<circle cx="448" cy="575.3" r="1.0" class="dc"/>
<circle cx="416.5" cy="576.7" r="1.0" class="dc"/>
<circle cx="419.7" cy="576.7" r="1.0" class="dc"/>
<circle cx="422.9" cy="576.7" r="1.0" class="dc"/>
<circle cx="426.1" cy="576.7" r="1.0" class="dc"/>
<circle cx="429.3" cy="576.7" r="1.0" class="dc"/>
<circle cx="432.5" cy="576.7" r="1.0" class="dc"/>
<circle cx="435.7" cy="576.7" r="1.0" class="dc"/>
<circle cx="438.9" cy="576.7" r="1.0" class="dc"/>
<circle cx="442.1" cy="576.7" r="1.0" class="dc"/>
<circle cx="445.3" cy="576.7" r="1.0" class="dc"/>
<circle cx="448.5" cy="576.7" r="1.0" class="dc"/>
<circle cx="419" cy="578.4" r="1.0" class="dc"/>
<circle cx="422" cy="578.4" r="1.0" class="dc"/>
<circle cx="425" cy="578.4" r="1.0" class="dc"/>
<circle cx="428" cy="578.4" r="1.0" class="dc"/>
<circle cx="431" cy="578.4" r="1.0" class="dc"/>
<circle cx="434" cy="578.4" r="1.0" class="dc"/>
<circle cx="437" cy="578.4" r="1.0" class="dc"/>
<circle cx="440" cy="578.4" r="1.0" class="dc"/>
<circle cx="443" cy="578.4" r="1.0" class="dc"/>
<circle cx="446" cy="578.4" r="1.0" class="dc"/>
<circle cx="421" cy="580" r="1.0" class="dc"/>
<circle cx="424.29" cy="580" r="1.0" class="dc"/>
<circle cx="427.57" cy="580" r="1.0" class="dc"/>
<circle cx="430.86" cy="580" r="1.0" class="dc"/>
<circle cx="434.14" cy="580" r="1.0" class="dc"/>
<circle cx="437.43" cy="580" r="1.0" class="dc"/>
<circle cx="440.71" cy="580" r="1.0" class="dc"/>
<circle cx="444" cy="580" r="1.0" class="dc"/>
<circle cx="422" cy="581.6" r="1.0" class="dc"/>
<circle cx="425" cy="581.6" r="1.0" class="dc"/>
<circle cx="428" cy="581.6" r="1.0" class="dc"/>
<circle cx="431" cy="581.6" r="1.0" class="dc"/>
<circle cx="434" cy="581.6" r="1.0" class="dc"/>
<circle cx="437" cy="581.6" r="1.0" class="dc"/>
<circle cx="440" cy="581.6" r="1.0" class="dc"/>
<circle cx="443" cy="581.6" r="1.0" class="dc"/>
<circle cx="429.5" cy="584" r="1.0" class="dc"/>
<circle cx="435.5" cy="584" r="1.0" class="dc"/>
<circle cx="431.8" cy="587.2" r="1.0" class="dc"/>
<circle cx="433" cy="587.2" r="1.0" class="dc"/>
<circle cx="432.5" cy="590.2" r="1.0" class="dc"/>
<circle cx="432.5" cy="593.6" r="1.0" class="dc"/>
<circle cx="480.9" cy="541.45" r="1.0" class="da"/>
<circle cx="480.9" cy="551.79" r="1.0" class="da"/>
<circle cx="477.03" cy="555.27" r="1.0" class="da"/>
<circle cx="477.03" cy="558.16" r="1.0" class="da"/>
<circle cx="480.9" cy="556.43" r="1.0" class="da"/>
<circle cx="480.9" cy="558.36" r="1.0" class="da"/>
<circle cx="484.76" cy="559.32" r="1.0" class="da"/>
<circle cx="488.43" cy="557.87" r="1.0" class="da"/>
<circle cx="477.03" cy="562.71" r="1.0" class="da"/>
<circle cx="484.76" cy="562.71" r="1.0" class="da"/>
<circle cx="488.43" cy="562.71" r="1.0" class="da"/>
<circle cx="480.9" cy="561.74" r="1.0" class="da"/>
<circle cx="492.11" cy="563.67" r="1.0" class="da"/>
<circle cx="465.73" cy="565.89" r="1.0" class="da"/>
<circle cx="469.59" cy="565.89" r="1.0" class="da"/>
<circle cx="473.27" cy="565.89" r="1.0" class="da"/>
<circle cx="477.03" cy="565.89" r="1.0" class="da"/>
<circle cx="480.9" cy="565.89" r="1.0" class="da"/>
<circle cx="484.76" cy="565.89" r="1.0" class="da"/>
<circle cx="488.43" cy="565.89" r="1.0" class="da"/>
<circle cx="492.11" cy="565.89" r="1.0" class="da"/>
<circle cx="495.97" cy="565.89" r="1.0" class="da"/>
<circle cx="469.59" cy="568.7" r="1.0" class="da"/>
<circle cx="484.76" cy="568.7" r="1.0" class="da"/>
<circle cx="492.11" cy="568.7" r="1.0" class="da"/>
<circle cx="473.27" cy="569.47" r="1.0" class="da"/>
<circle cx="477.03" cy="568.5" r="1.0" class="da"/>
<circle cx="477.03" cy="570.43" r="1.0" class="da"/>
<circle cx="477.03" cy="573.33" r="1.0" class="da"/>
<circle cx="473.27" cy="574.78" r="1.0" class="da"/>
<circle cx="469.59" cy="577.68" r="1.0" class="da"/>
<circle cx="473.27" cy="577.68" r="1.0" class="da"/>
<circle cx="488.43" cy="577.68" r="1.0" class="da"/>
<circle cx="477.03" cy="577.2" r="1.0" class="da"/>
<circle cx="477.03" cy="579.13" r="1.0" class="da"/>
<circle cx="492.11" cy="579.13" r="1.0" class="da"/>
<circle cx="480.9" cy="578.65" r="1.0" class="da"/>
<circle cx="484.76" cy="578.16" r="1.0" class="da"/>
<circle cx="492.11" cy="575.75" r="1.0" class="da"/>
<circle cx="480.9" cy="581.06" r="1.0" class="da"/>
<circle cx="484.76" cy="581.06" r="1.0" class="da"/>
<circle cx="484.76" cy="584.93" r="1.0" class="da"/>
<circle cx="480.9" cy="586.38" r="1.0" class="da"/>
<circle cx="477.03" cy="590.24" r="1.0" class="da"/>
<circle cx="480.9" cy="590.24" r="1.0" class="da"/>
<circle cx="484.76" cy="590.72" r="1.0" class="da"/>
<circle cx="478.97" cy="594.88" r="1.0" class="da"/>
<circle cx="482.83" cy="592.95" r="1.0" class="da"/>
<path d="M70.6 110.5H102.2" class="md"/>
<path d="M78.4 101.5H94.4M78.4 115.5H94.4M86.5 101.5V115.5" class="iq"/>
<path d="M118.7 110.5H150.3" class="md"/>
<path d="M126.5 98.5H142.5M126.5 119.5H142.5M134.5 98.5V119.5" class="iq"/>
<path d="M246.8 118.5H278.4" class="md"/>
<path d="M254.6 112.5H270.6M254.6 124.5H270.6M262.5 112.5V124.5" class="iq"/>
<path d="M295 119.5H326.6" class="md"/>
<path d="M302.8 111.5H318.8M302.8 123.5H318.8M310.5 111.5V123.5" class="iq"/>
<path d="M416.7 102.5H448.3" class="md"/>
<path d="M424.5 96.5H440.5M424.5 109.5H440.5M432.5 96.5V109.5" class="iq"/>
<path d="M464.8 105.5H496.4" class="md"/>
<path d="M472.6 93.5H488.6M472.6 110.5H488.6M480.5 93.5V110.5" class="iq"/>
<path d="M70.6 267.5H102.2" class="md"/>
<path d="M78.4 259.5H94.4M78.4 273.5H94.4M86.5 259.5V273.5" class="iq"/>
<path d="M118.8 273.5H150.4" class="md"/>
<path d="M126.6 264.5H142.6M126.6 279.5H142.6M134.5 264.5V279.5" class="iq"/>
<path d="M246.8 291.5H278.4" class="md"/>
<path d="M254.6 288.5H270.6M254.6 294.5H270.6M262.5 288.5V294.5" class="iq"/>
<path d="M294.9 284.5H326.5" class="md"/>
<path d="M302.7 277.5H318.7M302.7 289.5H318.7M310.5 277.5V289.5" class="iq"/>
<path d="M416.6 268.5H448.2" class="md"/>
<path d="M424.4 254.5H440.4M424.4 276.5H440.4M432.5 254.5V276.5" class="iq"/>
<path d="M464.6 288.5H496.2" class="md"/>
<path d="M472.4 277.5H488.4M472.4 295.5H488.4M480.5 277.5V295.5" class="iq"/>
<path d="M70.6 426.5H102.2" class="md"/>
<path d="M78.4 418.5H94.4M78.4 433.5H94.4M86.5 418.5V433.5" class="iq"/>
<path d="M118.7 432.5H150.3" class="md"/>
<path d="M126.5 421.5H142.5M126.5 435.5H142.5M134.5 421.5V435.5" class="iq"/>
<path d="M246.6 447.5H278.2" class="md"/>
<path d="M254.4 443.5H270.4M254.4 450.5H270.4M262.5 443.5V450.5" class="iq"/>
<path d="M294.8 445.5H326.4" class="md"/>
<path d="M302.6 441.5H318.6M302.6 449.5H318.6M310.5 441.5V449.5" class="iq"/>
<path d="M416.7 432.5H448.3" class="md"/>
<path d="M424.5 420.5H440.5M424.5 441.5H440.5M432.5 420.5V441.5" class="iq"/>
<path d="M464.8 449.5H496.4" class="md"/>
<path d="M472.6 436.5H488.6M472.6 459.5H488.6M480.5 436.5V459.5" class="iq"/>
<path d="M70.5 589.5H102.1" class="md"/>
<path d="M78.3 580.5H94.3M78.3 596.5H94.3M86.5 580.5V596.5" class="iq"/>
<path d="M118.6 594.5H150.2" class="md"/>
<path d="M126.4 583.5H142.4M126.4 598.5H142.4M134.5 583.5V598.5" class="iq"/>
<path d="M246.4 592.5H278" class="md"/>
<path d="M254.2 584.5H270.2M254.2 598.5H270.2M262.5 584.5V598.5" class="iq"/>
<path d="M294.8 597.5H326.4" class="md"/>
<path d="M302.6 581.5H318.6M302.6 604.5H318.6M310.5 581.5V604.5" class="iq"/>
<path d="M416.7 576.5H448.3" class="md"/>
<path d="M424.5 573.5H440.5M424.5 581.5H440.5M432.5 573.5V581.5" class="iq"/>
<path d="M465.1 568.5H496.7" class="md"/>
<path d="M472.9 563.5H488.9M472.9 578.5H488.9M480.5 563.5V578.5" class="iq"/>
<path d="M86.5 201.3V194.5H134.5V201.3" class="br"/>
<circle cx="110.4" cy="190.6" r="1.0" class="st"/>
<path d="M262.5 267V195.5H310.5V202.5" class="br"/>
<circle cx="282.03" cy="191" r="1.0" class="st"/>
<circle cx="285.08" cy="191" r="1.0" class="st"/>
<circle cx="288.12" cy="191" r="1.0" class="st"/>
<circle cx="291.18" cy="191" r="1.0" class="st"/>
<path d="M432.5 202V195.5H480.5V244.5" class="br"/>
<circle cx="451.65" cy="191" r="1.0" class="st"/>
<circle cx="454.75" cy="191" r="1.0" class="st"/>
<circle cx="457.85" cy="191" r="1.0" class="st"/>
<circle cx="460.95" cy="191" r="1.0" class="st"/>
<path d="M262.5 415.9V369.5H310.5V376.5" class="br"/>
<circle cx="286.5" cy="363.9" r="1.0" class="st"/>
<path d="M432.5 361.3V354.5H480.5V400.6" class="br"/>
<circle cx="452.3" cy="348.9" r="1.0" class="st"/>
<circle cx="455.3" cy="348.9" r="1.0" class="st"/>
<circle cx="458.3" cy="348.9" r="1.0" class="st"/>
<circle cx="461.3" cy="348.9" r="1.0" class="st"/>
<path d="M432.5 555.5V527.5H480.5V534.4" class="br"/>
<circle cx="453.75" cy="523.6" r="1.0" class="st"/>
<circle cx="457" cy="523.6" r="1.0" class="st"/>
<circle cx="460.25" cy="523.6" r="1.0" class="st"/>
<text x="7" y="15.95" class="let">A</text>
<path d="M54.5 23.75V138.35H168" class="ax"/>
<text x="48.9" y="141" class="tl">0</text>
<text x="48.9" y="112.9" class="tl">5</text>
<text x="48.9" y="84.8" class="tl">10</text>
<text x="48.9" y="56.7" class="tl">15</text>
<text x="48.9" y="28.6" class="tl">20</text>
<path d="M51.9 138.35H54.5M51.9 110.25H54.5M51.9 82.15H54.5M51.9 54.05H54.5M51.9 25.95H54.5M87 138.35V140.95M135 138.35V140.95" class="ax"/>
<text x="87" y="151.45" class="xl">Controls</text>
<text x="135" y="151.45" class="xl">APS</text>
<text transform="translate(24.5 81.05) rotate(-90)" x="0" y="0" class="yl" textLength="41.7" lengthAdjust="spacingAndGlyphs">Lag time (min)</text>
<text x="182.6" y="15.95" class="let">B</text>
<path d="M230.5 23.75V138.35H344" class="ax"/>
<text x="224.9" y="141" class="tl">0</text>
<text x="224.9" y="118.52" class="tl">100</text>
<text x="224.9" y="96.04" class="tl">200</text>
<text x="224.9" y="73.56" class="tl">300</text>
<text x="224.9" y="51.08" class="tl">400</text>
<text x="224.9" y="28.6" class="tl">500</text>
<path d="M227.9 138.35H230.5M227.9 115.87H230.5M227.9 93.39H230.5M227.9 70.91H230.5M227.9 48.43H230.5M227.9 25.95H230.5M263 138.35V140.95M311 138.35V140.95" class="ax"/>
<text x="263" y="151.45" class="xl">Controls</text>
<text x="311" y="151.45" class="xl">APS</text>
<text transform="translate(200.9 81.05) rotate(-90)" x="0" y="0" class="yl" textLength="48.8" lengthAdjust="spacingAndGlyphs">Peak height (nM)</text>
<text x="358.3" y="15.95" class="let">C</text>
<path d="M400.5 23.75V138.35H514" class="ax"/>
<text x="394.9" y="141" class="tl">0</text>
<text x="394.9" y="118.52" class="tl">5</text>
<text x="394.9" y="96.04" class="tl">10</text>
<text x="394.9" y="73.56" class="tl">15</text>
<text x="394.9" y="51.08" class="tl">20</text>
<text x="394.9" y="28.6" class="tl">25</text>
<path d="M397.9 138.35H400.5M397.9 115.87H400.5M397.9 93.39H400.5M397.9 70.91H400.5M397.9 48.43H400.5M397.9 25.95H400.5M433 138.35V140.95M481 138.35V140.95" class="ax"/>
<text x="433" y="151.45" class="xl">Controls</text>
<text x="481" y="151.45" class="xl">APS</text>
<text transform="translate(375.1 81.05) rotate(-90)" x="0" y="0" class="yl" textLength="53.3" lengthAdjust="spacingAndGlyphs">Time-to-peak (min)</text>
<text x="7" y="176.83" class="let">D</text>
<path d="M54.5 184.63V299.23H168" class="ax"/>
<text x="48.9" y="301.88" class="tl">0</text>
<text x="48.9" y="264.41" class="tl">500</text>
<text x="48.9" y="226.95" class="tl">1000</text>
<text x="48.9" y="189.48" class="tl">1500</text>
<path d="M51.9 299.23H54.5M51.9 261.76H54.5M51.9 224.3H54.5M51.9 186.83H54.5M87 299.23V301.83M135 299.23V301.83" class="ax"/>
<text x="87" y="312.33" class="xl">Controls</text>
<text x="135" y="312.33" class="xl">APS</text>
<text transform="translate(24.5 241.93) rotate(-90)" x="0" y="0" class="yl" textLength="40.0" lengthAdjust="spacingAndGlyphs">ETP (nM*min)</text>
<text x="182.6" y="176.83" class="let">E</text>
<path d="M230.5 184.63V299.23H344" class="ax"/>
<text x="224.9" y="301.88" class="tl">0</text>
<text x="224.9" y="279.4" class="tl">100</text>
<text x="224.9" y="256.92" class="tl">200</text>
<text x="224.9" y="234.44" class="tl">300</text>
<text x="224.9" y="211.96" class="tl">400</text>
<text x="224.9" y="189.48" class="tl">500</text>
<path d="M227.9 299.23H230.5M227.9 276.75H230.5M227.9 254.27H230.5M227.9 231.79H230.5M227.9 209.31H230.5M227.9 186.83H230.5M263 299.23V301.83M311 299.23V301.83" class="ax"/>
<text x="263" y="312.33" class="xl">Controls</text>
<text x="311" y="312.33" class="xl">APS</text>
<text transform="translate(200.9 241.93) rotate(-90)" x="0" y="0" class="yl" textLength="68.0" lengthAdjust="spacingAndGlyphs">Velocity index (nM/min)</text>
<text x="358.3" y="176.83" class="let">F</text>
<path d="M400.5 184.63V299.23H514" class="ax"/>
<text x="394.9" y="301.88" class="tl">0</text>
<text x="394.9" y="279.4" class="tl">20</text>
<text x="394.9" y="256.92" class="tl">40</text>
<text x="394.9" y="234.44" class="tl">60</text>
<text x="394.9" y="211.96" class="tl">80</text>
<text x="394.9" y="189.48" class="tl">100</text>
<path d="M397.9 299.23H400.5M397.9 276.75H400.5M397.9 254.27H400.5M397.9 231.79H400.5M397.9 209.31H400.5M397.9 186.83H400.5M433 299.23V301.83M481 299.23V301.83" class="ax"/>
<text x="433" y="312.33" class="xl">Controls</text>
<text x="481" y="312.33" class="xl">APS</text>
<text transform="translate(375.1 241.93) rotate(-90)" x="0" y="0" class="yl" textLength="90.4" lengthAdjust="spacingAndGlyphs">Peak height (%inhibition by TM)</text>
<text x="7" y="337.71" class="let">G</text>
<path d="M54.5 345.51V460.11H168" class="ax"/>
<text x="48.9" y="462.76" class="tl">0</text>
<text x="48.9" y="425.29" class="tl">500</text>
<text x="48.9" y="387.83" class="tl">1000</text>
<text x="48.9" y="350.36" class="tl">1500</text>
<path d="M51.9 460.11H54.5M51.9 422.64H54.5M51.9 385.18H54.5M51.9 347.71H54.5M87 460.11V462.71M135 460.11V462.71" class="ax"/>
<text x="87" y="473.21" class="xl">Controls</text>
<text x="135" y="473.21" class="xl">APS</text>
<text transform="translate(24.5 402.81) rotate(-90)" x="0" y="0" class="yl" textLength="30.0" lengthAdjust="spacingAndGlyphs">PC<tspan dy="1.1" font-size="6">tot</tspan><tspan dy="-1.1"> (nM)</tspan></text>
<text x="182.6" y="337.71" class="let">H</text>
<path d="M230.5 345.51V460.11H344" class="ax"/>
<text x="224.9" y="462.76" class="tl">0</text>
<text x="224.9" y="425.29" class="tl">500</text>
<text x="224.9" y="387.83" class="tl">1000</text>
<text x="224.9" y="350.36" class="tl">1500</text>
<path d="M227.9 460.11H230.5M227.9 422.64H230.5M227.9 385.18H230.5M227.9 347.71H230.5M263 460.11V462.71M311 460.11V462.71" class="ax"/>
<text x="263" y="473.21" class="xl">Controls</text>
<text x="311" y="473.21" class="xl">APS</text>
<text transform="translate(200.9 402.81) rotate(-90)" x="0" y="0" class="yl" textLength="46.3" lengthAdjust="spacingAndGlyphs">PC<tspan dy="1.1" font-size="6">max</tspan><tspan dy="-1.1"> (nM/min)</tspan></text>
<text x="358.3" y="337.71" class="let">I</text>
<path d="M400.5 345.51V460.11H514" class="ax"/>
<text x="394.9" y="462.76" class="tl">0</text>
<text x="394.9" y="440.28" class="tl">20</text>
<text x="394.9" y="417.8" class="tl">40</text>
<text x="394.9" y="395.32" class="tl">60</text>
<text x="394.9" y="372.84" class="tl">80</text>
<text x="394.9" y="350.36" class="tl">100</text>
<path d="M397.9 460.11H400.5M397.9 437.63H400.5M397.9 415.15H400.5M397.9 392.67H400.5M397.9 370.19H400.5M397.9 347.71H400.5M433 460.11V462.71M481 460.11V462.71" class="ax"/>
<text x="433" y="473.21" class="xl">Controls</text>
<text x="481" y="473.21" class="xl">APS</text>
<text transform="translate(375.1 402.81) rotate(-90)" x="0" y="0" class="yl" textLength="75.9" lengthAdjust="spacingAndGlyphs">PC<tspan dy="1.1" font-size="6">max</tspan><tspan dy="-1.1"> (%inhibition by TM)</tspan></text>
<text x="7" y="498.59" class="let">J</text>
<path d="M54.5 506.39V620.99H168" class="ax"/>
<text x="48.9" y="623.64" class="tl">0</text>
<text x="48.9" y="586.17" class="tl">500</text>
<text x="48.9" y="548.71" class="tl">1000</text>
<text x="48.9" y="511.24" class="tl">1500</text>
<path d="M51.9 620.99H54.5M51.9 583.52H54.5M51.9 546.06H54.5M51.9 508.59H54.5M87 620.99V623.59M135 620.99V623.59" class="ax"/>
<text x="87" y="634.09" class="xl">Controls</text>
<text x="135" y="634.09" class="xl">APS</text>
<text transform="translate(24.5 563.69) rotate(-90)" x="0" y="0" class="yl" textLength="27.8" lengthAdjust="spacingAndGlyphs">T-AT (nM)</text>
<text x="182.6" y="498.59" class="let">K</text>
<path d="M230.5 506.39V620.99H344" class="ax"/>
<text x="224.9" y="623.64" class="tl">0</text>
<text x="224.9" y="595.54" class="tl">20</text>
<text x="224.9" y="567.44" class="tl">40</text>
<text x="224.9" y="539.34" class="tl">60</text>
<text x="224.9" y="511.24" class="tl">80</text>
<path d="M227.9 620.99H230.5M227.9 592.89H230.5M227.9 564.79H230.5M227.9 536.69H230.5M227.9 508.59H230.5M263 620.99V623.59M311 620.99V623.59" class="ax"/>
<text x="263" y="634.09" class="xl">Controls</text>
<text x="311" y="634.09" class="xl">APS</text>
<text transform="translate(200.9 563.69) rotate(-90)" x="0" y="0" class="yl" textLength="35.8" lengthAdjust="spacingAndGlyphs">T-α<tspan dy="1.6" font-size="5.5">2</tspan><tspan dy="-1.6">M (nM)</tspan></text>
<text x="358.3" y="498.59" class="let">L</text>
<path d="M400.5 506.39V620.99H514" class="ax"/>
<text x="394.9" y="623.64" class="tl">0.0</text>
<text x="394.9" y="586.17" class="tl">0.5</text>
<text x="394.9" y="548.71" class="tl">1.0</text>
<text x="394.9" y="511.24" class="tl">1.5</text>
<path d="M397.9 620.99H400.5M397.9 583.52H400.5M397.9 546.06H400.5M397.9 508.59H400.5M433 620.99V623.59M481 620.99V623.59" class="ax"/>
<text x="433" y="634.09" class="xl">Controls</text>
<text x="481" y="634.09" class="xl">APS</text>
<text transform="translate(376.9 563.69) rotate(-90)" x="0" y="0" class="yl" textLength="35.0" lengthAdjust="spacingAndGlyphs">TDC (min<tspan dy="-3" font-size="5.5">−1</tspan><tspan dy="3">)</tspan></text>
</svg>
</body></html>
